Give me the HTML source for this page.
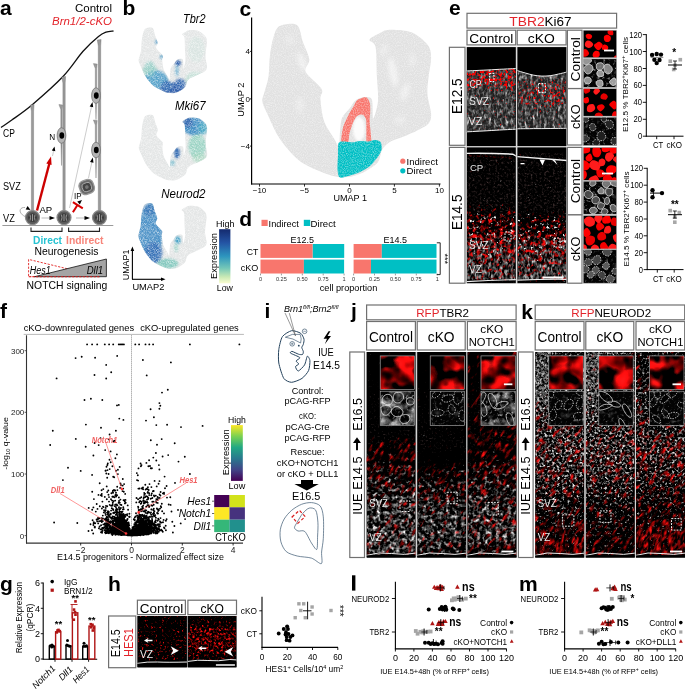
<!DOCTYPE html>
<html><head><meta charset="utf-8"><style>
html,body{margin:0;padding:0;background:#fff;}
svg{display:block;}
text{font-family:"Liberation Sans",sans-serif;}
svg{opacity:0.999;}
</style></head><body>
<svg width="685" height="689" viewBox="0 0 685 689">
<defs><path id="umap" d="M279.6 26.1C276.1 27.9 274.9 32.9 273.5 37.2C272.1 41.5 270.8 49.1 270.0 55.0C269.2 60.9 269.3 71.2 268.5 76.7C267.7 82.2 265.4 88.3 264.5 92.0C263.6 95.7 261.9 98.1 262.3 101.4C262.7 104.7 264.7 108.2 267.3 113.8C269.9 119.4 274.8 131.5 279.6 138.5C284.4 145.5 292.7 155.5 299.4 160.7C306.1 165.9 318.1 170.6 324.0 173.0C329.9 175.4 334.7 176.4 338.9 176.9C343.1 177.4 347.9 177.4 352.0 176.5C356.1 175.6 362.1 173.2 366.0 171.0C369.9 168.8 375.6 165.2 378.0 162.0C380.4 158.8 380.4 152.9 382.0 150.0C383.6 147.1 386.4 144.3 389.0 142.5C391.6 140.7 394.9 140.0 399.0 138.3C403.1 136.6 411.9 133.1 416.3 130.9C420.7 128.7 426.4 126.1 428.6 123.5C430.8 120.9 431.3 118.0 431.1 113.6C430.9 109.2 427.8 99.4 427.4 93.9C427.0 88.4 428.0 82.2 428.6 76.7C429.2 71.2 431.3 61.7 431.1 56.9C430.9 52.1 430.4 48.3 427.4 44.6C424.4 40.9 417.1 34.5 411.4 32.3C405.7 30.1 394.0 29.6 389.2 29.8C384.4 30.0 382.3 32.0 379.3 33.5C376.3 35.0 370.1 37.7 369.5 39.7C368.9 41.7 374.5 41.5 375.6 47.0C376.7 52.5 376.5 68.6 376.9 76.7C377.3 84.8 378.6 95.0 378.0 101.3C377.4 107.6 374.1 118.8 373.2 118.6C372.3 118.4 373.1 103.2 372.0 100.0C370.9 96.8 368.4 97.0 366.0 97.0C363.6 97.0 358.4 98.3 356.0 100.0C353.6 101.7 352.1 105.3 350.0 108.0C347.9 110.7 343.5 114.4 342.0 118.0C340.5 121.6 340.5 127.8 340.0 132.0C339.5 136.2 339.8 145.0 338.9 146.0C338.0 147.0 336.2 142.2 334.0 138.5C331.8 134.8 326.0 126.9 324.0 121.0C322.0 115.1 320.8 103.8 320.4 99.0C320.0 94.2 323.8 93.1 321.6 89.0C319.4 84.9 307.4 76.2 305.6 71.8C303.8 67.4 309.7 63.8 309.3 59.4C308.9 55.0 304.9 47.4 303.0 42.2C301.1 37.0 300.4 27.3 296.9 24.9C293.4 22.5 283.1 24.3 279.6 26.1Z"/><clipPath id="uclip"><use href="#umap"/></clipPath><filter id="speck" x="0" y="0" width="1" height="1"><feTurbulence type="fractalNoise" baseFrequency="0.9" numOctaves="2" seed="3"/><feColorMatrix type="matrix" values="0 0 0 0 1  0 0 0 0 1  0 0 0 0 1  0 0 0 -2.2 1.35"/><feComposite in2="SourceGraphic" operator="in"/></filter><filter id="blur2"><feGaussianBlur stdDeviation="2"/></filter><filter id="blur3"><feGaussianBlur stdDeviation="3"/></filter><filter id="blur1"><feGaussianBlur stdDeviation="1"/></filter><filter id="blur05"><feGaussianBlur stdDeviation="0.5"/></filter><linearGradient id="ylgnbu" x1="0" y1="0" x2="0" y2="1"><stop offset="0" stop-color="#142a6e"/><stop offset="0.25" stop-color="#2454a4"/><stop offset="0.5" stop-color="#2d95be"/><stop offset="0.72" stop-color="#74c7b8"/><stop offset="0.88" stop-color="#c8e9b4"/><stop offset="1" stop-color="#fbfdd0"/></linearGradient><clipPath id="c1"><rect x="466.8" y="47.1" width="49.0" height="99.0"/></clipPath><clipPath id="c2"><path d="M465.8 71.0L470.9 70.8L476.0 70.5L481.1 70.2L486.2 70.0L491.3 69.8L496.4 69.5L501.5 69.2L506.6 69.0L511.7 68.8L516.8 68.5L516.8 129.1L511.7 129.4L506.6 129.7L501.5 129.9L496.4 130.2L491.3 130.5L486.2 130.8L481.1 131.1L476.0 131.3L470.9 131.6L465.8 131.9Z"/></clipPath><linearGradient id="tg1" gradientUnits="userSpaceOnUse" x1="0" y1="47.1" x2="0" y2="146.1"><stop offset="0" stop-color="#fff" stop-opacity="0.72"/><stop offset="1" stop-color="#fff" stop-opacity="0.72"/></linearGradient><filter id="tf1" filterUnits="userSpaceOnUse" x="466.8" y="47.1" width="49.0" height="99.0" color-interpolation-filters="sRGB"><feTurbulence type="fractalNoise" baseFrequency="0.36" numOctaves="2" seed="107" result="n"/><feColorMatrix in="n" type="matrix" values="0 0 0 0 0 0 0 0 0 0 0 0 0 0 0 1 0 0 0 0" result="nr"/><feComposite in="SourceAlpha" in2="nr" operator="arithmetic" k2="0.5" k3="1" k4="-0.8" result="s"/><feComponentTransfer in="s" result="t"><feFuncA type="linear" slope="3" intercept="0"/></feComponentTransfer><feColorMatrix in="n" type="matrix" values="0 0.6 0 0 0.0  0 0.6 0 0 0.0  0 0.6 0 0 0.0  0 0 0 0 1" result="c"/><feComposite in="c" in2="t" operator="in"/><feGaussianBlur stdDeviation="0.5"/></filter><linearGradient id="tg2" gradientUnits="userSpaceOnUse" x1="0" y1="47.1" x2="0" y2="146.1"><stop offset="0" stop-color="#fff" stop-opacity="0.7"/><stop offset="1" stop-color="#fff" stop-opacity="0.78"/></linearGradient><filter id="tf2" filterUnits="userSpaceOnUse" x="466.8" y="47.1" width="49.0" height="99.0" color-interpolation-filters="sRGB"><feTurbulence type="fractalNoise" baseFrequency="0.36 0.2" numOctaves="2" seed="114" result="n"/><feColorMatrix in="n" type="matrix" values="0 0 0 0 0 0 0 0 0 0 0 0 0 0 0 1 0 0 0 0" result="nr"/><feComposite in="SourceAlpha" in2="nr" operator="arithmetic" k2="0.5" k3="1" k4="-0.8" result="s"/><feComponentTransfer in="s" result="t"><feFuncA type="linear" slope="3" intercept="0"/></feComponentTransfer><feColorMatrix in="n" type="matrix" values="0 1.2 0 0 -0.05  0 1.2 0 0 -0.05  0 1.2 0 0 -0.05  0 0 0 0 1" result="c"/><feComposite in="c" in2="t" operator="in"/><feGaussianBlur stdDeviation="0.5"/></filter><linearGradient id="tg3" gradientUnits="userSpaceOnUse" x1="0" y1="47.1" x2="0" y2="146.1"><stop offset="0" stop-color="#fff" stop-opacity="0.0"/><stop offset="0.252" stop-color="#fff" stop-opacity="0.68"/><stop offset="0.383" stop-color="#fff" stop-opacity="0.68"/><stop offset="0.454" stop-color="#fff" stop-opacity="0.25"/><stop offset="0.837" stop-color="#fff" stop-opacity="0.15"/></linearGradient><filter id="tf3" filterUnits="userSpaceOnUse" x="466.8" y="47.1" width="49.0" height="99.0" color-interpolation-filters="sRGB"><feTurbulence type="fractalNoise" baseFrequency="0.38" numOctaves="2" seed="121" result="n"/><feColorMatrix in="n" type="matrix" values="0 0 0 0 0 0 0 0 0 0 0 0 0 0 0 1 0 0 0 0" result="nr"/><feComposite in="SourceAlpha" in2="nr" operator="arithmetic" k2="0.5" k3="1" k4="-0.8" result="s"/><feComponentTransfer in="s" result="t"><feFuncA type="linear" slope="5" intercept="0"/></feComponentTransfer><feColorMatrix in="n" type="matrix" values="0 0 0 0 1  0 0 0 0 0  0 0 0 0 0  0 0 0 0 1" result="c"/><feComposite in="c" in2="t" operator="in"/><feGaussianBlur stdDeviation="0.5"/></filter><clipPath id="c3"><rect x="517.4" y="47.1" width="49.0" height="99.0"/></clipPath><clipPath id="c4"><path d="M516.4 70.3L521.5 72.0L526.6 73.6L531.7 74.8L536.8 75.7L541.9 76.1L547.0 76.0L552.1 75.5L557.2 74.5L562.3 73.3L567.4 71.9L567.4 128.3L562.3 128.4L557.2 128.4L552.1 128.5L547.0 128.5L541.9 128.6L536.8 128.6L531.7 128.7L526.6 128.7L521.5 128.8L516.4 128.8Z"/></clipPath><linearGradient id="tg4" gradientUnits="userSpaceOnUse" x1="0" y1="47.1" x2="0" y2="146.1"><stop offset="0" stop-color="#fff" stop-opacity="0.72"/><stop offset="1" stop-color="#fff" stop-opacity="0.72"/></linearGradient><filter id="tf4" filterUnits="userSpaceOnUse" x="517.4" y="47.1" width="49.0" height="99.0" color-interpolation-filters="sRGB"><feTurbulence type="fractalNoise" baseFrequency="0.36" numOctaves="2" seed="128" result="n"/><feColorMatrix in="n" type="matrix" values="0 0 0 0 0 0 0 0 0 0 0 0 0 0 0 1 0 0 0 0" result="nr"/><feComposite in="SourceAlpha" in2="nr" operator="arithmetic" k2="0.5" k3="1" k4="-0.8" result="s"/><feComponentTransfer in="s" result="t"><feFuncA type="linear" slope="3" intercept="0"/></feComponentTransfer><feColorMatrix in="n" type="matrix" values="0 0.6 0 0 0.0  0 0.6 0 0 0.0  0 0.6 0 0 0.0  0 0 0 0 1" result="c"/><feComposite in="c" in2="t" operator="in"/><feGaussianBlur stdDeviation="0.5"/></filter><linearGradient id="tg5" gradientUnits="userSpaceOnUse" x1="0" y1="47.1" x2="0" y2="146.1"><stop offset="0" stop-color="#fff" stop-opacity="0.7"/><stop offset="1" stop-color="#fff" stop-opacity="0.78"/></linearGradient><filter id="tf5" filterUnits="userSpaceOnUse" x="517.4" y="47.1" width="49.0" height="99.0" color-interpolation-filters="sRGB"><feTurbulence type="fractalNoise" baseFrequency="0.36 0.2" numOctaves="2" seed="135" result="n"/><feColorMatrix in="n" type="matrix" values="0 0 0 0 0 0 0 0 0 0 0 0 0 0 0 1 0 0 0 0" result="nr"/><feComposite in="SourceAlpha" in2="nr" operator="arithmetic" k2="0.5" k3="1" k4="-0.8" result="s"/><feComponentTransfer in="s" result="t"><feFuncA type="linear" slope="3" intercept="0"/></feComponentTransfer><feColorMatrix in="n" type="matrix" values="0 1.2 0 0 -0.05  0 1.2 0 0 -0.05  0 1.2 0 0 -0.05  0 0 0 0 1" result="c"/><feComposite in="c" in2="t" operator="in"/><feGaussianBlur stdDeviation="0.5"/></filter><linearGradient id="tg6" gradientUnits="userSpaceOnUse" x1="0" y1="47.1" x2="0" y2="146.1"><stop offset="0" stop-color="#fff" stop-opacity="0.0"/><stop offset="0.292" stop-color="#fff" stop-opacity="0.15"/><stop offset="0.373" stop-color="#fff" stop-opacity="0.55"/><stop offset="0.555" stop-color="#fff" stop-opacity="0.52"/><stop offset="0.635" stop-color="#fff" stop-opacity="0.22"/><stop offset="0.837" stop-color="#fff" stop-opacity="0.18"/></linearGradient><filter id="tf6" filterUnits="userSpaceOnUse" x="517.4" y="47.1" width="49.0" height="99.0" color-interpolation-filters="sRGB"><feTurbulence type="fractalNoise" baseFrequency="0.38" numOctaves="2" seed="142" result="n"/><feColorMatrix in="n" type="matrix" values="0 0 0 0 0 0 0 0 0 0 0 0 0 0 0 1 0 0 0 0" result="nr"/><feComposite in="SourceAlpha" in2="nr" operator="arithmetic" k2="0.5" k3="1" k4="-0.8" result="s"/><feComponentTransfer in="s" result="t"><feFuncA type="linear" slope="5" intercept="0"/></feComponentTransfer><feColorMatrix in="n" type="matrix" values="0 0 0 0 1  0 0 0 0 0  0 0 0 0 0  0 0 0 0 1" result="c"/><feComposite in="c" in2="t" operator="in"/><feGaussianBlur stdDeviation="0.5"/></filter><linearGradient id="th6" gradientUnits="userSpaceOnUse" x1="517.4" y1="0" x2="566.4" y2="0"><stop offset="0" stop-color="#fff" stop-opacity="0.6"/><stop offset="0.5" stop-color="#fff" stop-opacity="1"/><stop offset="1" stop-color="#fff" stop-opacity="1"/></linearGradient><mask id="tm6" maskUnits="userSpaceOnUse" x="517.4" y="47.1" width="49.0" height="99.0"><rect x="517.4" y="47.1" width="49.0" height="99.0" fill="url(#th6)"/></mask><clipPath id="c5"><rect x="466.8" y="147.4" width="49.0" height="135.8"/></clipPath><linearGradient id="tg7" gradientUnits="userSpaceOnUse" x1="0" y1="147.4" x2="0" y2="283.2"><stop offset="0" stop-color="#fff" stop-opacity="0"/><stop offset="0.05" stop-color="#fff" stop-opacity="0.55"/><stop offset="0.45" stop-color="#fff" stop-opacity="0.62"/><stop offset="0.55" stop-color="#fff" stop-opacity="0.35"/></linearGradient><filter id="tf7" filterUnits="userSpaceOnUse" x="466.8" y="147.4" width="49.0" height="135.8" color-interpolation-filters="sRGB"><feTurbulence type="fractalNoise" baseFrequency="0.45" numOctaves="2" seed="149" result="n"/><feColorMatrix in="n" type="matrix" values="0 0 0 0 0 0 0 0 0 0 0 0 0 0 0 1 0 0 0 0" result="nr"/><feComposite in="SourceAlpha" in2="nr" operator="arithmetic" k2="0.5" k3="1" k4="-0.8" result="s"/><feComponentTransfer in="s" result="t"><feFuncA type="linear" slope="3" intercept="0"/></feComponentTransfer><feColorMatrix in="n" type="matrix" values="0 0.4 0 0 0.0  0 0.3 0 0 0.0  0 0.3 0 0 0.0  0 0 0 0 1" result="c"/><feComposite in="c" in2="t" operator="in"/><feGaussianBlur stdDeviation="0.5"/></filter><linearGradient id="tg8" gradientUnits="userSpaceOnUse" x1="0" y1="147.4" x2="0" y2="283.2"><stop offset="0" stop-color="#fff" stop-opacity="0"/><stop offset="0.58" stop-color="#fff" stop-opacity="0.0"/><stop offset="0.7" stop-color="#fff" stop-opacity="0.72"/><stop offset="0.85" stop-color="#fff" stop-opacity="0.86"/><stop offset="0.97" stop-color="#fff" stop-opacity="0.88"/><stop offset="0.985" stop-color="#fff" stop-opacity="0"/></linearGradient><filter id="tf8" filterUnits="userSpaceOnUse" x="466.8" y="147.4" width="49.0" height="135.8" color-interpolation-filters="sRGB"><feTurbulence type="fractalNoise" baseFrequency="0.36 0.2" numOctaves="2" seed="156" result="n"/><feColorMatrix in="n" type="matrix" values="0 0 0 0 0 0 0 0 0 0 0 0 0 0 0 1 0 0 0 0" result="nr"/><feComposite in="SourceAlpha" in2="nr" operator="arithmetic" k2="0.5" k3="1" k4="-0.8" result="s"/><feComponentTransfer in="s" result="t"><feFuncA type="linear" slope="3" intercept="0"/></feComponentTransfer><feColorMatrix in="n" type="matrix" values="0 1.2 0 0 -0.05  0 1.2 0 0 -0.05  0 1.2 0 0 -0.05  0 0 0 0 1" result="c"/><feComposite in="c" in2="t" operator="in"/><feGaussianBlur stdDeviation="0.5"/></filter><linearGradient id="tg9" gradientUnits="userSpaceOnUse" x1="0" y1="147.4" x2="0" y2="283.2"><stop offset="0" stop-color="#fff" stop-opacity="0"/><stop offset="0.4" stop-color="#fff" stop-opacity="0.0"/><stop offset="0.46" stop-color="#fff" stop-opacity="0.44"/><stop offset="0.54" stop-color="#fff" stop-opacity="0.62"/><stop offset="0.62" stop-color="#fff" stop-opacity="0.74"/><stop offset="0.75" stop-color="#fff" stop-opacity="0.72"/><stop offset="0.85" stop-color="#fff" stop-opacity="0.58"/><stop offset="0.93" stop-color="#fff" stop-opacity="0.48"/><stop offset="0.985" stop-color="#fff" stop-opacity="0.42"/><stop offset="0.99" stop-color="#fff" stop-opacity="0"/></linearGradient><filter id="tf9" filterUnits="userSpaceOnUse" x="466.8" y="147.4" width="49.0" height="135.8" color-interpolation-filters="sRGB"><feTurbulence type="fractalNoise" baseFrequency="0.26" numOctaves="2" seed="163" result="n"/><feColorMatrix in="n" type="matrix" values="0 0 0 0 0 0 0 0 0 0 0 0 0 0 0 1 0 0 0 0" result="nr"/><feComposite in="SourceAlpha" in2="nr" operator="arithmetic" k2="0.5" k3="1" k4="-0.8" result="s"/><feComponentTransfer in="s" result="t"><feFuncA type="linear" slope="4" intercept="0"/></feComponentTransfer><feColorMatrix in="n" type="matrix" values="0 0 2.2 0 -0.35  0 0 0.25 0 -0.1  0 0 0.25 0 -0.1  0 0 0 0 1" result="c"/><feComposite in="c" in2="t" operator="in"/><feGaussianBlur stdDeviation="0.5"/></filter><linearGradient id="tg10" gradientUnits="userSpaceOnUse" x1="0" y1="147.4" x2="0" y2="283.2"><stop offset="0" stop-color="#fff" stop-opacity="0"/><stop offset="0.46" stop-color="#fff" stop-opacity="0.0"/><stop offset="0.52" stop-color="#fff" stop-opacity="0.36"/><stop offset="0.7" stop-color="#fff" stop-opacity="0.36"/><stop offset="0.82" stop-color="#fff" stop-opacity="0.2"/><stop offset="0.9" stop-color="#fff" stop-opacity="0.0"/></linearGradient><filter id="tf10" filterUnits="userSpaceOnUse" x="466.8" y="147.4" width="49.0" height="135.8" color-interpolation-filters="sRGB"><feTurbulence type="fractalNoise" baseFrequency="0.3" numOctaves="2" seed="170" result="n"/><feColorMatrix in="n" type="matrix" values="0 0 0 0 0 0 0 0 0 0 0 0 0 0 0 1 0 0 0 0" result="nr"/><feComposite in="SourceAlpha" in2="nr" operator="arithmetic" k2="0.5" k3="1" k4="-0.8" result="s"/><feComponentTransfer in="s" result="t"><feFuncA type="linear" slope="6" intercept="0"/></feComponentTransfer><feColorMatrix in="n" type="matrix" values="0 0 0 0 0.95  0 0 0 0 0.95  0 0 0 0 0.95  0 0 0 0 1" result="c"/><feComposite in="c" in2="t" operator="in"/><feGaussianBlur stdDeviation="0.5"/></filter><clipPath id="c6"><rect x="517.4" y="147.4" width="49.0" height="135.8"/></clipPath><linearGradient id="tg11" gradientUnits="userSpaceOnUse" x1="0" y1="147.4" x2="0" y2="283.2"><stop offset="0" stop-color="#fff" stop-opacity="0"/><stop offset="0.05" stop-color="#fff" stop-opacity="0.55"/><stop offset="0.45" stop-color="#fff" stop-opacity="0.62"/><stop offset="0.55" stop-color="#fff" stop-opacity="0.35"/></linearGradient><filter id="tf11" filterUnits="userSpaceOnUse" x="517.4" y="147.4" width="49.0" height="135.8" color-interpolation-filters="sRGB"><feTurbulence type="fractalNoise" baseFrequency="0.45" numOctaves="2" seed="177" result="n"/><feColorMatrix in="n" type="matrix" values="0 0 0 0 0 0 0 0 0 0 0 0 0 0 0 1 0 0 0 0" result="nr"/><feComposite in="SourceAlpha" in2="nr" operator="arithmetic" k2="0.5" k3="1" k4="-0.8" result="s"/><feComponentTransfer in="s" result="t"><feFuncA type="linear" slope="3" intercept="0"/></feComponentTransfer><feColorMatrix in="n" type="matrix" values="0 0.4 0 0 0.0  0 0.3 0 0 0.0  0 0.3 0 0 0.0  0 0 0 0 1" result="c"/><feComposite in="c" in2="t" operator="in"/><feGaussianBlur stdDeviation="0.5"/></filter><linearGradient id="tg12" gradientUnits="userSpaceOnUse" x1="0" y1="147.4" x2="0" y2="283.2"><stop offset="0" stop-color="#fff" stop-opacity="0"/><stop offset="0.58" stop-color="#fff" stop-opacity="0.0"/><stop offset="0.7" stop-color="#fff" stop-opacity="0.72"/><stop offset="0.85" stop-color="#fff" stop-opacity="0.86"/><stop offset="0.97" stop-color="#fff" stop-opacity="0.88"/><stop offset="0.985" stop-color="#fff" stop-opacity="0"/></linearGradient><filter id="tf12" filterUnits="userSpaceOnUse" x="517.4" y="147.4" width="49.0" height="135.8" color-interpolation-filters="sRGB"><feTurbulence type="fractalNoise" baseFrequency="0.36 0.2" numOctaves="2" seed="184" result="n"/><feColorMatrix in="n" type="matrix" values="0 0 0 0 0 0 0 0 0 0 0 0 0 0 0 1 0 0 0 0" result="nr"/><feComposite in="SourceAlpha" in2="nr" operator="arithmetic" k2="0.5" k3="1" k4="-0.8" result="s"/><feComponentTransfer in="s" result="t"><feFuncA type="linear" slope="3" intercept="0"/></feComponentTransfer><feColorMatrix in="n" type="matrix" values="0 1.2 0 0 -0.05  0 1.2 0 0 -0.05  0 1.2 0 0 -0.05  0 0 0 0 1" result="c"/><feComposite in="c" in2="t" operator="in"/><feGaussianBlur stdDeviation="0.5"/></filter><linearGradient id="tg13" gradientUnits="userSpaceOnUse" x1="0" y1="147.4" x2="0" y2="283.2"><stop offset="0" stop-color="#fff" stop-opacity="0"/><stop offset="0.44" stop-color="#fff" stop-opacity="0.0"/><stop offset="0.5" stop-color="#fff" stop-opacity="0.4"/><stop offset="0.58" stop-color="#fff" stop-opacity="0.6"/><stop offset="0.66" stop-color="#fff" stop-opacity="0.72"/><stop offset="0.78" stop-color="#fff" stop-opacity="0.68"/><stop offset="0.88" stop-color="#fff" stop-opacity="0.54"/><stop offset="0.94" stop-color="#fff" stop-opacity="0.46"/><stop offset="0.985" stop-color="#fff" stop-opacity="0.42"/><stop offset="0.99" stop-color="#fff" stop-opacity="0"/></linearGradient><filter id="tf13" filterUnits="userSpaceOnUse" x="517.4" y="147.4" width="49.0" height="135.8" color-interpolation-filters="sRGB"><feTurbulence type="fractalNoise" baseFrequency="0.26" numOctaves="2" seed="191" result="n"/><feColorMatrix in="n" type="matrix" values="0 0 0 0 0 0 0 0 0 0 0 0 0 0 0 1 0 0 0 0" result="nr"/><feComposite in="SourceAlpha" in2="nr" operator="arithmetic" k2="0.5" k3="1" k4="-0.8" result="s"/><feComponentTransfer in="s" result="t"><feFuncA type="linear" slope="4" intercept="0"/></feComponentTransfer><feColorMatrix in="n" type="matrix" values="0 0 2.2 0 -0.35  0 0 0.25 0 -0.1  0 0 0.25 0 -0.1  0 0 0 0 1" result="c"/><feComposite in="c" in2="t" operator="in"/><feGaussianBlur stdDeviation="0.5"/></filter><linearGradient id="tg14" gradientUnits="userSpaceOnUse" x1="0" y1="147.4" x2="0" y2="283.2"><stop offset="0" stop-color="#fff" stop-opacity="0"/><stop offset="0.46" stop-color="#fff" stop-opacity="0.0"/><stop offset="0.52" stop-color="#fff" stop-opacity="0.36"/><stop offset="0.7" stop-color="#fff" stop-opacity="0.36"/><stop offset="0.82" stop-color="#fff" stop-opacity="0.2"/><stop offset="0.9" stop-color="#fff" stop-opacity="0.0"/></linearGradient><filter id="tf14" filterUnits="userSpaceOnUse" x="517.4" y="147.4" width="49.0" height="135.8" color-interpolation-filters="sRGB"><feTurbulence type="fractalNoise" baseFrequency="0.3" numOctaves="2" seed="198" result="n"/><feColorMatrix in="n" type="matrix" values="0 0 0 0 0 0 0 0 0 0 0 0 0 0 0 1 0 0 0 0" result="nr"/><feComposite in="SourceAlpha" in2="nr" operator="arithmetic" k2="0.5" k3="1" k4="-0.8" result="s"/><feComponentTransfer in="s" result="t"><feFuncA type="linear" slope="6" intercept="0"/></feComponentTransfer><feColorMatrix in="n" type="matrix" values="0 0 0 0 0.95  0 0 0 0 0.95  0 0 0 0 0.95  0 0 0 0 1" result="c"/><feComposite in="c" in2="t" operator="in"/><feGaussianBlur stdDeviation="0.5"/></filter><clipPath id="c7"><rect x="583.2" y="30.2" width="33.5" height="27.6"/></clipPath><clipPath id="c8"><rect x="583.2" y="58.8" width="33.5" height="28.6"/></clipPath><linearGradient id="tg15" gradientUnits="userSpaceOnUse" x1="0" y1="58.8" x2="0" y2="87.4"><stop offset="0" stop-color="#fff" stop-opacity="0.315"/><stop offset="1" stop-color="#fff" stop-opacity="0.315"/></linearGradient><filter id="tf15" filterUnits="userSpaceOnUse" x="583.2" y="58.8" width="33.5" height="28.6" color-interpolation-filters="sRGB"><feTurbulence type="fractalNoise" baseFrequency="0.1" numOctaves="3" seed="205" result="n"/><feColorMatrix in="n" type="matrix" values="0 0 0 0 0 0 0 0 0 0 0 0 0 0 0 1 0 0 0 0" result="nr"/><feComposite in="SourceAlpha" in2="nr" operator="arithmetic" k2="0.5" k3="1" k4="-0.8" result="s"/><feComponentTransfer in="s" result="t"><feFuncA type="linear" slope="3" intercept="0"/></feComponentTransfer><feColorMatrix in="n" type="matrix" values="0 1.2 0 0 -0.05  0 1.2 0 0 -0.05  0 1.2 0 0 -0.05  0 0 0 0 1" result="c"/><feComposite in="c" in2="t" operator="in"/><feGaussianBlur stdDeviation="0.4"/></filter><linearGradient id="tg16" gradientUnits="userSpaceOnUse" x1="0" y1="58.8" x2="0" y2="87.4"><stop offset="0" stop-color="#fff" stop-opacity="0.5"/><stop offset="1" stop-color="#fff" stop-opacity="0.5"/></linearGradient><filter id="tf16" filterUnits="userSpaceOnUse" x="583.2" y="58.8" width="33.5" height="28.6" color-interpolation-filters="sRGB"><feTurbulence type="fractalNoise" baseFrequency="0.35" numOctaves="2" seed="212" result="n"/><feColorMatrix in="n" type="matrix" values="0 0 0 0 0 0 0 0 0 0 0 0 0 0 0 1 0 0 0 0" result="nr"/><feComposite in="SourceAlpha" in2="nr" operator="arithmetic" k2="0.5" k3="1" k4="-0.8" result="s"/><feComponentTransfer in="s" result="t"><feFuncA type="linear" slope="3" intercept="0"/></feComponentTransfer><feColorMatrix in="n" type="matrix" values="0 1.2 0 0 -0.05  0 1.2 0 0 -0.05  0 1.2 0 0 -0.05  0 0 0 0 1" result="c"/><feComposite in="c" in2="t" operator="in"/><feGaussianBlur stdDeviation="0.3"/></filter><clipPath id="c9"><rect x="583.2" y="88.6" width="33.5" height="27.6"/></clipPath><clipPath id="c10"><rect x="583.2" y="117.2" width="33.5" height="28.4"/></clipPath><linearGradient id="tg17" gradientUnits="userSpaceOnUse" x1="0" y1="117.2" x2="0" y2="145.6"><stop offset="0" stop-color="#fff" stop-opacity="0.18000000000000002"/><stop offset="1" stop-color="#fff" stop-opacity="0.18000000000000002"/></linearGradient><filter id="tf17" filterUnits="userSpaceOnUse" x="583.2" y="117.2" width="33.5" height="28.4" color-interpolation-filters="sRGB"><feTurbulence type="fractalNoise" baseFrequency="0.1" numOctaves="3" seed="219" result="n"/><feColorMatrix in="n" type="matrix" values="0 0 0 0 0 0 0 0 0 0 0 0 0 0 0 1 0 0 0 0" result="nr"/><feComposite in="SourceAlpha" in2="nr" operator="arithmetic" k2="0.5" k3="1" k4="-0.8" result="s"/><feComponentTransfer in="s" result="t"><feFuncA type="linear" slope="3" intercept="0"/></feComponentTransfer><feColorMatrix in="n" type="matrix" values="0 0.6 0 0 0.0  0 0.6 0 0 0.0  0 0.6 0 0 0.0  0 0 0 0 1" result="c"/><feComposite in="c" in2="t" operator="in"/><feGaussianBlur stdDeviation="0.4"/></filter><linearGradient id="tg18" gradientUnits="userSpaceOnUse" x1="0" y1="117.2" x2="0" y2="145.6"><stop offset="0" stop-color="#fff" stop-opacity="0.5"/><stop offset="1" stop-color="#fff" stop-opacity="0.5"/></linearGradient><filter id="tf18" filterUnits="userSpaceOnUse" x="583.2" y="117.2" width="33.5" height="28.4" color-interpolation-filters="sRGB"><feTurbulence type="fractalNoise" baseFrequency="0.35" numOctaves="2" seed="226" result="n"/><feColorMatrix in="n" type="matrix" values="0 0 0 0 0 0 0 0 0 0 0 0 0 0 0 1 0 0 0 0" result="nr"/><feComposite in="SourceAlpha" in2="nr" operator="arithmetic" k2="0.5" k3="1" k4="-0.8" result="s"/><feComponentTransfer in="s" result="t"><feFuncA type="linear" slope="3" intercept="0"/></feComponentTransfer><feColorMatrix in="n" type="matrix" values="0 0.6 0 0 0.0  0 0.6 0 0 0.0  0 0.6 0 0 0.0  0 0 0 0 1" result="c"/><feComposite in="c" in2="t" operator="in"/><feGaussianBlur stdDeviation="0.3"/></filter><clipPath id="c11"><rect x="583.2" y="147.4" width="33.5" height="33.0"/></clipPath><clipPath id="c12"><rect x="583.2" y="181.2" width="33.5" height="33.0"/></clipPath><linearGradient id="tg19" gradientUnits="userSpaceOnUse" x1="0" y1="181.2" x2="0" y2="214.2"><stop offset="0" stop-color="#fff" stop-opacity="0.36000000000000004"/><stop offset="1" stop-color="#fff" stop-opacity="0.36000000000000004"/></linearGradient><filter id="tf19" filterUnits="userSpaceOnUse" x="583.2" y="181.2" width="33.5" height="33.0" color-interpolation-filters="sRGB"><feTurbulence type="fractalNoise" baseFrequency="0.1" numOctaves="3" seed="233" result="n"/><feColorMatrix in="n" type="matrix" values="0 0 0 0 0 0 0 0 0 0 0 0 0 0 0 1 0 0 0 0" result="nr"/><feComposite in="SourceAlpha" in2="nr" operator="arithmetic" k2="0.5" k3="1" k4="-0.8" result="s"/><feComponentTransfer in="s" result="t"><feFuncA type="linear" slope="3" intercept="0"/></feComponentTransfer><feColorMatrix in="n" type="matrix" values="0 1.2 0 0 -0.05  0 1.2 0 0 -0.05  0 1.2 0 0 -0.05  0 0 0 0 1" result="c"/><feComposite in="c" in2="t" operator="in"/><feGaussianBlur stdDeviation="0.4"/></filter><linearGradient id="tg20" gradientUnits="userSpaceOnUse" x1="0" y1="181.2" x2="0" y2="214.2"><stop offset="0" stop-color="#fff" stop-opacity="0.5"/><stop offset="1" stop-color="#fff" stop-opacity="0.5"/></linearGradient><filter id="tf20" filterUnits="userSpaceOnUse" x="583.2" y="181.2" width="33.5" height="33.0" color-interpolation-filters="sRGB"><feTurbulence type="fractalNoise" baseFrequency="0.35" numOctaves="2" seed="240" result="n"/><feColorMatrix in="n" type="matrix" values="0 0 0 0 0 0 0 0 0 0 0 0 0 0 0 1 0 0 0 0" result="nr"/><feComposite in="SourceAlpha" in2="nr" operator="arithmetic" k2="0.5" k3="1" k4="-0.8" result="s"/><feComponentTransfer in="s" result="t"><feFuncA type="linear" slope="3" intercept="0"/></feComponentTransfer><feColorMatrix in="n" type="matrix" values="0 1.2 0 0 -0.05  0 1.2 0 0 -0.05  0 1.2 0 0 -0.05  0 0 0 0 1" result="c"/><feComposite in="c" in2="t" operator="in"/><feGaussianBlur stdDeviation="0.3"/></filter><clipPath id="c13"><rect x="583.2" y="215.5" width="33.5" height="33.5"/></clipPath><clipPath id="c14"><rect x="583.2" y="249.6" width="33.5" height="33.6"/></clipPath><linearGradient id="tg21" gradientUnits="userSpaceOnUse" x1="0" y1="249.6" x2="0" y2="283.2"><stop offset="0" stop-color="#fff" stop-opacity="0.315"/><stop offset="1" stop-color="#fff" stop-opacity="0.315"/></linearGradient><filter id="tf21" filterUnits="userSpaceOnUse" x="583.2" y="249.6" width="33.5" height="33.6" color-interpolation-filters="sRGB"><feTurbulence type="fractalNoise" baseFrequency="0.1" numOctaves="3" seed="247" result="n"/><feColorMatrix in="n" type="matrix" values="0 0 0 0 0 0 0 0 0 0 0 0 0 0 0 1 0 0 0 0" result="nr"/><feComposite in="SourceAlpha" in2="nr" operator="arithmetic" k2="0.5" k3="1" k4="-0.8" result="s"/><feComponentTransfer in="s" result="t"><feFuncA type="linear" slope="3" intercept="0"/></feComponentTransfer><feColorMatrix in="n" type="matrix" values="0 0.6 0 0 0.0  0 0.6 0 0 0.0  0 0.6 0 0 0.0  0 0 0 0 1" result="c"/><feComposite in="c" in2="t" operator="in"/><feGaussianBlur stdDeviation="0.4"/></filter><linearGradient id="tg22" gradientUnits="userSpaceOnUse" x1="0" y1="249.6" x2="0" y2="283.2"><stop offset="0" stop-color="#fff" stop-opacity="0.5"/><stop offset="1" stop-color="#fff" stop-opacity="0.5"/></linearGradient><filter id="tf22" filterUnits="userSpaceOnUse" x="583.2" y="249.6" width="33.5" height="33.6" color-interpolation-filters="sRGB"><feTurbulence type="fractalNoise" baseFrequency="0.35" numOctaves="2" seed="254" result="n"/><feColorMatrix in="n" type="matrix" values="0 0 0 0 0 0 0 0 0 0 0 0 0 0 0 1 0 0 0 0" result="nr"/><feComposite in="SourceAlpha" in2="nr" operator="arithmetic" k2="0.5" k3="1" k4="-0.8" result="s"/><feComponentTransfer in="s" result="t"><feFuncA type="linear" slope="3" intercept="0"/></feComponentTransfer><feColorMatrix in="n" type="matrix" values="0 0.6 0 0 0.0  0 0.6 0 0 0.0  0 0.6 0 0 0.0  0 0 0 0 1" result="c"/><feComposite in="c" in2="t" operator="in"/><feGaussianBlur stdDeviation="0.3"/></filter><clipPath id="c15"><rect x="366.6" y="352.0" width="49.0" height="205.5"/></clipPath><linearGradient id="tg23" gradientUnits="userSpaceOnUse" x1="0" y1="352.0" x2="0" y2="557.5"><stop offset="0" stop-color="#fff" stop-opacity="0"/><stop offset="0.2" stop-color="#fff" stop-opacity="0.3"/><stop offset="0.45" stop-color="#fff" stop-opacity="0.45"/><stop offset="0.5" stop-color="#fff" stop-opacity="0.2"/></linearGradient><filter id="tf23" filterUnits="userSpaceOnUse" x="366.6" y="352.0" width="49.0" height="205.5" color-interpolation-filters="sRGB"><feTurbulence type="fractalNoise" baseFrequency="0.5" numOctaves="2" seed="261" result="n"/><feColorMatrix in="n" type="matrix" values="0 0 0 0 0 0 0 0 0 0 0 0 0 0 0 1 0 0 0 0" result="nr"/><feComposite in="SourceAlpha" in2="nr" operator="arithmetic" k2="0.5" k3="1" k4="-0.8" result="s"/><feComponentTransfer in="s" result="t"><feFuncA type="linear" slope="3" intercept="0"/></feComponentTransfer><feColorMatrix in="n" type="matrix" values="0 0.4 0 0 0.0  0 0.3 0 0 0.0  0 0.3 0 0 0.0  0 0 0 0 1" result="c"/><feComposite in="c" in2="t" operator="in"/><feGaussianBlur stdDeviation="0.5"/></filter><linearGradient id="tg24" gradientUnits="userSpaceOnUse" x1="0" y1="352.0" x2="0" y2="557.5"><stop offset="0" stop-color="#fff" stop-opacity="0"/><stop offset="0.45" stop-color="#fff" stop-opacity="0"/><stop offset="0.55" stop-color="#fff" stop-opacity="0.45"/><stop offset="0.65" stop-color="#fff" stop-opacity="0.6"/><stop offset="0.75" stop-color="#fff" stop-opacity="0.74"/><stop offset="0.9" stop-color="#fff" stop-opacity="0.8"/><stop offset="0.97" stop-color="#fff" stop-opacity="0.78"/><stop offset="0.985" stop-color="#fff" stop-opacity="0.5"/><stop offset="0.99" stop-color="#fff" stop-opacity="0"/></linearGradient><filter id="tf24" filterUnits="userSpaceOnUse" x="366.6" y="352.0" width="49.0" height="205.5" color-interpolation-filters="sRGB"><feTurbulence type="fractalNoise" baseFrequency="0.26" numOctaves="2" seed="268" result="n"/><feColorMatrix in="n" type="matrix" values="0 0 0 0 0 0 0 0 0 0 0 0 0 0 0 1 0 0 0 0" result="nr"/><feComposite in="SourceAlpha" in2="nr" operator="arithmetic" k2="0.5" k3="1" k4="-0.8" result="s"/><feComponentTransfer in="s" result="t"><feFuncA type="linear" slope="3" intercept="0"/></feComponentTransfer><feColorMatrix in="n" type="matrix" values="0 1.4 0 0 0.0  0 1.4 0 0 0.0  0 1.4 0 0 0.0  0 0 0 0 1" result="c"/><feComposite in="c" in2="t" operator="in"/><feGaussianBlur stdDeviation="0.5"/></filter><linearGradient id="tg25" gradientUnits="userSpaceOnUse" x1="0" y1="352.0" x2="0" y2="557.5" gradientTransform="rotate(55 391.1 454.8)"><stop offset="0" stop-color="#fff" stop-opacity="0.0"/><stop offset="0.4" stop-color="#fff" stop-opacity="0.0"/><stop offset="0.45" stop-color="#fff" stop-opacity="0.49"/><stop offset="0.55" stop-color="#fff" stop-opacity="0.59"/><stop offset="0.65" stop-color="#fff" stop-opacity="0.54"/><stop offset="0.75" stop-color="#fff" stop-opacity="0.42"/><stop offset="0.9" stop-color="#fff" stop-opacity="0.42"/><stop offset="0.985" stop-color="#fff" stop-opacity="0.46"/><stop offset="0.99" stop-color="#fff" stop-opacity="0.0"/></linearGradient><filter id="tf25" filterUnits="userSpaceOnUse" x="283.5" y="347.1" width="215.3" height="215.3" color-interpolation-filters="sRGB"><feTurbulence type="fractalNoise" baseFrequency="0.13 0.3" numOctaves="2" seed="275" result="n"/><feColorMatrix in="n" type="matrix" values="0 0 0 0 0 0 0 0 0 0 0 0 0 0 0 1 0 0 0 0" result="nr"/><feComposite in="SourceAlpha" in2="nr" operator="arithmetic" k2="0.5" k3="1" k4="-0.8" result="s"/><feComponentTransfer in="s" result="t"><feFuncA type="linear" slope="4" intercept="0"/></feComponentTransfer><feColorMatrix in="n" type="matrix" values="0 0 2.2 0 -0.35  0 0 0.25 0 -0.1  0 0 0.25 0 -0.1  0 0 0 0 1" result="c"/><feComposite in="c" in2="t" operator="in"/><feGaussianBlur stdDeviation="0.5"/></filter><clipPath id="c16"><rect x="380.2" y="355.9" width="34.4" height="33.8"/></clipPath><linearGradient id="tg26" gradientUnits="userSpaceOnUse" x1="0" y1="355.9" x2="0" y2="389.7"><stop offset="0" stop-color="#fff" stop-opacity="0.86"/><stop offset="1" stop-color="#fff" stop-opacity="0.86"/></linearGradient><filter id="tf26" filterUnits="userSpaceOnUse" x="380.2" y="355.9" width="34.4" height="33.8" color-interpolation-filters="sRGB"><feTurbulence type="fractalNoise" baseFrequency="0.065" numOctaves="2" seed="282" result="n"/><feColorMatrix in="n" type="matrix" values="0 0 0 0 0 0 0 0 0 0 0 0 0 0 0 1 0 0 0 0" result="nr"/><feComposite in="SourceAlpha" in2="nr" operator="arithmetic" k2="0.5" k3="1" k4="-0.8" result="s"/><feComponentTransfer in="s" result="t"><feFuncA type="linear" slope="5" intercept="0"/></feComponentTransfer><feColorMatrix in="n" type="matrix" values="0 0 2.2 0 -0.35  0 0 0.25 0 -0.1  0 0 0.25 0 -0.1  0 0 0 0 1" result="c"/><feComposite in="c" in2="t" operator="in"/><feGaussianBlur stdDeviation="0.6"/></filter><clipPath id="c17"><rect x="380.2" y="391.2" width="34.4" height="34.3"/></clipPath><linearGradient id="tg27" gradientUnits="userSpaceOnUse" x1="0" y1="391.2" x2="0" y2="425.5"><stop offset="0" stop-color="#fff" stop-opacity="0.855"/><stop offset="1" stop-color="#fff" stop-opacity="0.855"/></linearGradient><filter id="tf27" filterUnits="userSpaceOnUse" x="380.2" y="391.2" width="34.4" height="34.3" color-interpolation-filters="sRGB"><feTurbulence type="fractalNoise" baseFrequency="0.1" numOctaves="3" seed="289" result="n"/><feColorMatrix in="n" type="matrix" values="0 0 0 0 0 0 0 0 0 0 0 0 0 0 0 1 0 0 0 0" result="nr"/><feComposite in="SourceAlpha" in2="nr" operator="arithmetic" k2="0.5" k3="1" k4="-0.8" result="s"/><feComponentTransfer in="s" result="t"><feFuncA type="linear" slope="3" intercept="0"/></feComponentTransfer><feColorMatrix in="n" type="matrix" values="0 1.2 0 0 -0.05  0 1.2 0 0 -0.05  0 1.2 0 0 -0.05  0 0 0 0 1" result="c"/><feComposite in="c" in2="t" operator="in"/><feGaussianBlur stdDeviation="0.4"/></filter><linearGradient id="tg28" gradientUnits="userSpaceOnUse" x1="0" y1="391.2" x2="0" y2="425.5"><stop offset="0" stop-color="#fff" stop-opacity="0.5"/><stop offset="1" stop-color="#fff" stop-opacity="0.5"/></linearGradient><filter id="tf28" filterUnits="userSpaceOnUse" x="380.2" y="391.2" width="34.4" height="34.3" color-interpolation-filters="sRGB"><feTurbulence type="fractalNoise" baseFrequency="0.35" numOctaves="2" seed="296" result="n"/><feColorMatrix in="n" type="matrix" values="0 0 0 0 0 0 0 0 0 0 0 0 0 0 0 1 0 0 0 0" result="nr"/><feComposite in="SourceAlpha" in2="nr" operator="arithmetic" k2="0.5" k3="1" k4="-0.8" result="s"/><feComponentTransfer in="s" result="t"><feFuncA type="linear" slope="3" intercept="0"/></feComponentTransfer><feColorMatrix in="n" type="matrix" values="0 1.2 0 0 -0.05  0 1.2 0 0 -0.05  0 1.2 0 0 -0.05  0 0 0 0 1" result="c"/><feComposite in="c" in2="t" operator="in"/><feGaussianBlur stdDeviation="0.3"/></filter><clipPath id="c18"><rect x="417.2" y="352.0" width="49.0" height="205.5"/></clipPath><linearGradient id="tg29" gradientUnits="userSpaceOnUse" x1="0" y1="352.0" x2="0" y2="557.5"><stop offset="0" stop-color="#fff" stop-opacity="0"/><stop offset="0.2" stop-color="#fff" stop-opacity="0.3"/><stop offset="0.45" stop-color="#fff" stop-opacity="0.45"/><stop offset="0.5" stop-color="#fff" stop-opacity="0.2"/></linearGradient><filter id="tf29" filterUnits="userSpaceOnUse" x="417.2" y="352.0" width="49.0" height="205.5" color-interpolation-filters="sRGB"><feTurbulence type="fractalNoise" baseFrequency="0.5" numOctaves="2" seed="303" result="n"/><feColorMatrix in="n" type="matrix" values="0 0 0 0 0 0 0 0 0 0 0 0 0 0 0 1 0 0 0 0" result="nr"/><feComposite in="SourceAlpha" in2="nr" operator="arithmetic" k2="0.5" k3="1" k4="-0.8" result="s"/><feComponentTransfer in="s" result="t"><feFuncA type="linear" slope="3" intercept="0"/></feComponentTransfer><feColorMatrix in="n" type="matrix" values="0 0.4 0 0 0.0  0 0.3 0 0 0.0  0 0.3 0 0 0.0  0 0 0 0 1" result="c"/><feComposite in="c" in2="t" operator="in"/><feGaussianBlur stdDeviation="0.5"/></filter><linearGradient id="tg30" gradientUnits="userSpaceOnUse" x1="0" y1="352.0" x2="0" y2="557.5"><stop offset="0" stop-color="#fff" stop-opacity="0"/><stop offset="0.5" stop-color="#fff" stop-opacity="0"/><stop offset="0.6" stop-color="#fff" stop-opacity="0.45"/><stop offset="0.7" stop-color="#fff" stop-opacity="0.6"/><stop offset="0.8" stop-color="#fff" stop-opacity="0.74"/><stop offset="0.92" stop-color="#fff" stop-opacity="0.76"/><stop offset="0.985" stop-color="#fff" stop-opacity="0.5"/><stop offset="0.99" stop-color="#fff" stop-opacity="0"/></linearGradient><filter id="tf30" filterUnits="userSpaceOnUse" x="417.2" y="352.0" width="49.0" height="205.5" color-interpolation-filters="sRGB"><feTurbulence type="fractalNoise" baseFrequency="0.26" numOctaves="2" seed="310" result="n"/><feColorMatrix in="n" type="matrix" values="0 0 0 0 0 0 0 0 0 0 0 0 0 0 0 1 0 0 0 0" result="nr"/><feComposite in="SourceAlpha" in2="nr" operator="arithmetic" k2="0.5" k3="1" k4="-0.8" result="s"/><feComponentTransfer in="s" result="t"><feFuncA type="linear" slope="3" intercept="0"/></feComponentTransfer><feColorMatrix in="n" type="matrix" values="0 1.4 0 0 0.0  0 1.4 0 0 0.0  0 1.4 0 0 0.0  0 0 0 0 1" result="c"/><feComposite in="c" in2="t" operator="in"/><feGaussianBlur stdDeviation="0.5"/></filter><linearGradient id="tg31" gradientUnits="userSpaceOnUse" x1="0" y1="352.0" x2="0" y2="557.5" gradientTransform="rotate(55 441.7 454.8)"><stop offset="0" stop-color="#fff" stop-opacity="0.0"/><stop offset="0.5" stop-color="#fff" stop-opacity="0.0"/><stop offset="0.56" stop-color="#fff" stop-opacity="0.39"/><stop offset="0.62" stop-color="#fff" stop-opacity="0.56"/><stop offset="0.7" stop-color="#fff" stop-opacity="0.49"/><stop offset="0.8" stop-color="#fff" stop-opacity="0.36"/><stop offset="0.9" stop-color="#fff" stop-opacity="0.39"/><stop offset="0.985" stop-color="#fff" stop-opacity="0.44"/><stop offset="0.99" stop-color="#fff" stop-opacity="0.0"/></linearGradient><filter id="tf31" filterUnits="userSpaceOnUse" x="334.1" y="347.1" width="215.3" height="215.3" color-interpolation-filters="sRGB"><feTurbulence type="fractalNoise" baseFrequency="0.13 0.3" numOctaves="2" seed="317" result="n"/><feColorMatrix in="n" type="matrix" values="0 0 0 0 0 0 0 0 0 0 0 0 0 0 0 1 0 0 0 0" result="nr"/><feComposite in="SourceAlpha" in2="nr" operator="arithmetic" k2="0.5" k3="1" k4="-0.8" result="s"/><feComponentTransfer in="s" result="t"><feFuncA type="linear" slope="4" intercept="0"/></feComponentTransfer><feColorMatrix in="n" type="matrix" values="0 0 2.2 0 -0.35  0 0 0.25 0 -0.1  0 0 0.25 0 -0.1  0 0 0 0 1" result="c"/><feComposite in="c" in2="t" operator="in"/><feGaussianBlur stdDeviation="0.5"/></filter><clipPath id="c19"><rect x="430.2" y="355.9" width="34.4" height="33.8"/></clipPath><linearGradient id="tg32" gradientUnits="userSpaceOnUse" x1="0" y1="355.9" x2="0" y2="389.7"><stop offset="0" stop-color="#fff" stop-opacity="0.86"/><stop offset="1" stop-color="#fff" stop-opacity="0.86"/></linearGradient><filter id="tf32" filterUnits="userSpaceOnUse" x="430.2" y="355.9" width="34.4" height="33.8" color-interpolation-filters="sRGB"><feTurbulence type="fractalNoise" baseFrequency="0.065" numOctaves="2" seed="324" result="n"/><feColorMatrix in="n" type="matrix" values="0 0 0 0 0 0 0 0 0 0 0 0 0 0 0 1 0 0 0 0" result="nr"/><feComposite in="SourceAlpha" in2="nr" operator="arithmetic" k2="0.5" k3="1" k4="-0.8" result="s"/><feComponentTransfer in="s" result="t"><feFuncA type="linear" slope="5" intercept="0"/></feComponentTransfer><feColorMatrix in="n" type="matrix" values="0 0 2.2 0 -0.35  0 0 0.25 0 -0.1  0 0 0.25 0 -0.1  0 0 0 0 1" result="c"/><feComposite in="c" in2="t" operator="in"/><feGaussianBlur stdDeviation="0.6"/></filter><clipPath id="c20"><rect x="430.2" y="391.2" width="34.4" height="34.3"/></clipPath><linearGradient id="tg33" gradientUnits="userSpaceOnUse" x1="0" y1="391.2" x2="0" y2="425.5"><stop offset="0" stop-color="#fff" stop-opacity="0.36000000000000004"/><stop offset="1" stop-color="#fff" stop-opacity="0.36000000000000004"/></linearGradient><filter id="tf33" filterUnits="userSpaceOnUse" x="430.2" y="391.2" width="34.4" height="34.3" color-interpolation-filters="sRGB"><feTurbulence type="fractalNoise" baseFrequency="0.1" numOctaves="3" seed="331" result="n"/><feColorMatrix in="n" type="matrix" values="0 0 0 0 0 0 0 0 0 0 0 0 0 0 0 1 0 0 0 0" result="nr"/><feComposite in="SourceAlpha" in2="nr" operator="arithmetic" k2="0.5" k3="1" k4="-0.8" result="s"/><feComponentTransfer in="s" result="t"><feFuncA type="linear" slope="3" intercept="0"/></feComponentTransfer><feColorMatrix in="n" type="matrix" values="0 0.6 0 0 0.0  0 0.6 0 0 0.0  0 0.6 0 0 0.0  0 0 0 0 1" result="c"/><feComposite in="c" in2="t" operator="in"/><feGaussianBlur stdDeviation="0.4"/></filter><linearGradient id="tg34" gradientUnits="userSpaceOnUse" x1="0" y1="391.2" x2="0" y2="425.5"><stop offset="0" stop-color="#fff" stop-opacity="0.5"/><stop offset="1" stop-color="#fff" stop-opacity="0.5"/></linearGradient><filter id="tf34" filterUnits="userSpaceOnUse" x="430.2" y="391.2" width="34.4" height="34.3" color-interpolation-filters="sRGB"><feTurbulence type="fractalNoise" baseFrequency="0.35" numOctaves="2" seed="338" result="n"/><feColorMatrix in="n" type="matrix" values="0 0 0 0 0 0 0 0 0 0 0 0 0 0 0 1 0 0 0 0" result="nr"/><feComposite in="SourceAlpha" in2="nr" operator="arithmetic" k2="0.5" k3="1" k4="-0.8" result="s"/><feComponentTransfer in="s" result="t"><feFuncA type="linear" slope="3" intercept="0"/></feComponentTransfer><feColorMatrix in="n" type="matrix" values="0 0.6 0 0 0.0  0 0.6 0 0 0.0  0 0.6 0 0 0.0  0 0 0 0 1" result="c"/><feComposite in="c" in2="t" operator="in"/><feGaussianBlur stdDeviation="0.3"/></filter><clipPath id="c21"><rect x="467.4" y="352.0" width="49.2" height="205.5"/></clipPath><linearGradient id="tg35" gradientUnits="userSpaceOnUse" x1="0" y1="352.0" x2="0" y2="557.5"><stop offset="0" stop-color="#fff" stop-opacity="0"/><stop offset="0.2" stop-color="#fff" stop-opacity="0.3"/><stop offset="0.45" stop-color="#fff" stop-opacity="0.45"/><stop offset="0.5" stop-color="#fff" stop-opacity="0.2"/></linearGradient><filter id="tf35" filterUnits="userSpaceOnUse" x="467.4" y="352.0" width="49.2" height="205.5" color-interpolation-filters="sRGB"><feTurbulence type="fractalNoise" baseFrequency="0.5" numOctaves="2" seed="345" result="n"/><feColorMatrix in="n" type="matrix" values="0 0 0 0 0 0 0 0 0 0 0 0 0 0 0 1 0 0 0 0" result="nr"/><feComposite in="SourceAlpha" in2="nr" operator="arithmetic" k2="0.5" k3="1" k4="-0.8" result="s"/><feComponentTransfer in="s" result="t"><feFuncA type="linear" slope="3" intercept="0"/></feComponentTransfer><feColorMatrix in="n" type="matrix" values="0 0.4 0 0 0.0  0 0.3 0 0 0.0  0 0.3 0 0 0.0  0 0 0 0 1" result="c"/><feComposite in="c" in2="t" operator="in"/><feGaussianBlur stdDeviation="0.5"/></filter><linearGradient id="tg36" gradientUnits="userSpaceOnUse" x1="0" y1="352.0" x2="0" y2="557.5"><stop offset="0" stop-color="#fff" stop-opacity="0"/><stop offset="0.45" stop-color="#fff" stop-opacity="0"/><stop offset="0.55" stop-color="#fff" stop-opacity="0.42"/><stop offset="0.65" stop-color="#fff" stop-opacity="0.58"/><stop offset="0.75" stop-color="#fff" stop-opacity="0.7"/><stop offset="0.9" stop-color="#fff" stop-opacity="0.76"/><stop offset="0.985" stop-color="#fff" stop-opacity="0.5"/><stop offset="0.99" stop-color="#fff" stop-opacity="0"/></linearGradient><filter id="tf36" filterUnits="userSpaceOnUse" x="467.4" y="352.0" width="49.2" height="205.5" color-interpolation-filters="sRGB"><feTurbulence type="fractalNoise" baseFrequency="0.26" numOctaves="2" seed="352" result="n"/><feColorMatrix in="n" type="matrix" values="0 0 0 0 0 0 0 0 0 0 0 0 0 0 0 1 0 0 0 0" result="nr"/><feComposite in="SourceAlpha" in2="nr" operator="arithmetic" k2="0.5" k3="1" k4="-0.8" result="s"/><feComponentTransfer in="s" result="t"><feFuncA type="linear" slope="3" intercept="0"/></feComponentTransfer><feColorMatrix in="n" type="matrix" values="0 1.4 0 0 0.0  0 1.4 0 0 0.0  0 1.4 0 0 0.0  0 0 0 0 1" result="c"/><feComposite in="c" in2="t" operator="in"/><feGaussianBlur stdDeviation="0.5"/></filter><linearGradient id="tg37" gradientUnits="userSpaceOnUse" x1="0" y1="352.0" x2="0" y2="557.5" gradientTransform="rotate(55 492.0 454.8)"><stop offset="0" stop-color="#fff" stop-opacity="0.34"/><stop offset="0.3" stop-color="#fff" stop-opacity="0.42"/><stop offset="0.45" stop-color="#fff" stop-opacity="0.54"/><stop offset="0.6" stop-color="#fff" stop-opacity="0.59"/><stop offset="0.75" stop-color="#fff" stop-opacity="0.49"/><stop offset="0.9" stop-color="#fff" stop-opacity="0.52"/><stop offset="0.985" stop-color="#fff" stop-opacity="0.59"/><stop offset="0.99" stop-color="#fff" stop-opacity="0.0"/></linearGradient><filter id="tf37" filterUnits="userSpaceOnUse" x="384.3" y="347.1" width="215.3" height="215.3" color-interpolation-filters="sRGB"><feTurbulence type="fractalNoise" baseFrequency="0.13 0.3" numOctaves="2" seed="359" result="n"/><feColorMatrix in="n" type="matrix" values="0 0 0 0 0 0 0 0 0 0 0 0 0 0 0 1 0 0 0 0" result="nr"/><feComposite in="SourceAlpha" in2="nr" operator="arithmetic" k2="0.5" k3="1" k4="-0.8" result="s"/><feComponentTransfer in="s" result="t"><feFuncA type="linear" slope="4" intercept="0"/></feComponentTransfer><feColorMatrix in="n" type="matrix" values="0 0 2.2 0 -0.35  0 0 0.25 0 -0.1  0 0 0.25 0 -0.1  0 0 0 0 1" result="c"/><feComposite in="c" in2="t" operator="in"/><feGaussianBlur stdDeviation="0.5"/></filter><clipPath id="c22"><rect x="481.0" y="355.9" width="34.4" height="33.8"/></clipPath><linearGradient id="tg38" gradientUnits="userSpaceOnUse" x1="0" y1="355.9" x2="0" y2="389.7"><stop offset="0" stop-color="#fff" stop-opacity="0.86"/><stop offset="1" stop-color="#fff" stop-opacity="0.86"/></linearGradient><filter id="tf38" filterUnits="userSpaceOnUse" x="481.0" y="355.9" width="34.4" height="33.8" color-interpolation-filters="sRGB"><feTurbulence type="fractalNoise" baseFrequency="0.065" numOctaves="2" seed="366" result="n"/><feColorMatrix in="n" type="matrix" values="0 0 0 0 0 0 0 0 0 0 0 0 0 0 0 1 0 0 0 0" result="nr"/><feComposite in="SourceAlpha" in2="nr" operator="arithmetic" k2="0.5" k3="1" k4="-0.8" result="s"/><feComponentTransfer in="s" result="t"><feFuncA type="linear" slope="5" intercept="0"/></feComponentTransfer><feColorMatrix in="n" type="matrix" values="0 0 2.2 0 -0.35  0 0 0.25 0 -0.1  0 0 0.25 0 -0.1  0 0 0 0 1" result="c"/><feComposite in="c" in2="t" operator="in"/><feGaussianBlur stdDeviation="0.6"/></filter><clipPath id="c23"><rect x="481.0" y="391.2" width="34.4" height="34.3"/></clipPath><linearGradient id="tg39" gradientUnits="userSpaceOnUse" x1="0" y1="391.2" x2="0" y2="425.5"><stop offset="0" stop-color="#fff" stop-opacity="0.765"/><stop offset="1" stop-color="#fff" stop-opacity="0.765"/></linearGradient><filter id="tf39" filterUnits="userSpaceOnUse" x="481.0" y="391.2" width="34.4" height="34.3" color-interpolation-filters="sRGB"><feTurbulence type="fractalNoise" baseFrequency="0.1" numOctaves="3" seed="373" result="n"/><feColorMatrix in="n" type="matrix" values="0 0 0 0 0 0 0 0 0 0 0 0 0 0 0 1 0 0 0 0" result="nr"/><feComposite in="SourceAlpha" in2="nr" operator="arithmetic" k2="0.5" k3="1" k4="-0.8" result="s"/><feComponentTransfer in="s" result="t"><feFuncA type="linear" slope="3" intercept="0"/></feComponentTransfer><feColorMatrix in="n" type="matrix" values="0 1.2 0 0 -0.05  0 1.2 0 0 -0.05  0 1.2 0 0 -0.05  0 0 0 0 1" result="c"/><feComposite in="c" in2="t" operator="in"/><feGaussianBlur stdDeviation="0.4"/></filter><linearGradient id="tg40" gradientUnits="userSpaceOnUse" x1="0" y1="391.2" x2="0" y2="425.5"><stop offset="0" stop-color="#fff" stop-opacity="0.5"/><stop offset="1" stop-color="#fff" stop-opacity="0.5"/></linearGradient><filter id="tf40" filterUnits="userSpaceOnUse" x="481.0" y="391.2" width="34.4" height="34.3" color-interpolation-filters="sRGB"><feTurbulence type="fractalNoise" baseFrequency="0.35" numOctaves="2" seed="380" result="n"/><feColorMatrix in="n" type="matrix" values="0 0 0 0 0 0 0 0 0 0 0 0 0 0 0 1 0 0 0 0" result="nr"/><feComposite in="SourceAlpha" in2="nr" operator="arithmetic" k2="0.5" k3="1" k4="-0.8" result="s"/><feComponentTransfer in="s" result="t"><feFuncA type="linear" slope="3" intercept="0"/></feComponentTransfer><feColorMatrix in="n" type="matrix" values="0 1.2 0 0 -0.05  0 1.2 0 0 -0.05  0 1.2 0 0 -0.05  0 0 0 0 1" result="c"/><feComposite in="c" in2="t" operator="in"/><feGaussianBlur stdDeviation="0.3"/></filter><clipPath id="c24"><rect x="535.2" y="352.0" width="49.0" height="205.5"/></clipPath><linearGradient id="tg41" gradientUnits="userSpaceOnUse" x1="0" y1="352.0" x2="0" y2="557.5"><stop offset="0" stop-color="#fff" stop-opacity="0.62"/><stop offset="0.1" stop-color="#fff" stop-opacity="0.66"/><stop offset="0.2" stop-color="#fff" stop-opacity="0.7"/><stop offset="0.5" stop-color="#fff" stop-opacity="0.72"/><stop offset="0.65" stop-color="#fff" stop-opacity="0.64"/><stop offset="0.75" stop-color="#fff" stop-opacity="0.5"/><stop offset="0.9" stop-color="#fff" stop-opacity="0.36"/><stop offset="0.985" stop-color="#fff" stop-opacity="0.32"/><stop offset="0.99" stop-color="#fff" stop-opacity="0"/></linearGradient><filter id="tf41" filterUnits="userSpaceOnUse" x="535.2" y="352.0" width="49.0" height="205.5" color-interpolation-filters="sRGB"><feTurbulence type="fractalNoise" baseFrequency="0.4" numOctaves="2" seed="387" result="n"/><feColorMatrix in="n" type="matrix" values="0 0 0 0 0 0 0 0 0 0 0 0 0 0 0 1 0 0 0 0" result="nr"/><feComposite in="SourceAlpha" in2="nr" operator="arithmetic" k2="0.5" k3="1" k4="-0.8" result="s"/><feComponentTransfer in="s" result="t"><feFuncA type="linear" slope="4" intercept="0"/></feComponentTransfer><feColorMatrix in="n" type="matrix" values="0 1.3 0 0 0.0  0 1.3 0 0 0.0  0 1.3 0 0 0.0  0 0 0 0 1" result="c"/><feComposite in="c" in2="t" operator="in"/><feGaussianBlur stdDeviation="0.4"/></filter><linearGradient id="tg42" gradientUnits="userSpaceOnUse" x1="0" y1="352.0" x2="0" y2="424.0"><stop offset="0" stop-color="#fff" stop-opacity="0.85"/><stop offset="0.6" stop-color="#fff" stop-opacity="0.8"/><stop offset="1" stop-color="#fff" stop-opacity="0.3"/></linearGradient><filter id="tf42" filterUnits="userSpaceOnUse" x="535.2" y="352.0" width="16.0" height="72.0" color-interpolation-filters="sRGB"><feTurbulence type="fractalNoise" baseFrequency="0.4" numOctaves="2" seed="394" result="n"/><feColorMatrix in="n" type="matrix" values="0 0 0 0 0 0 0 0 0 0 0 0 0 0 0 1 0 0 0 0" result="nr"/><feComposite in="SourceAlpha" in2="nr" operator="arithmetic" k2="0.5" k3="1" k4="-0.8" result="s"/><feComponentTransfer in="s" result="t"><feFuncA type="linear" slope="3" intercept="0"/></feComponentTransfer><feColorMatrix in="n" type="matrix" values="0 1.2 0 0 -0.05  0 1.2 0 0 -0.05  0 1.2 0 0 -0.05  0 0 0 0 1" result="c"/><feComposite in="c" in2="t" operator="in"/><feGaussianBlur stdDeviation="0.5"/></filter><linearGradient id="tg43" gradientUnits="userSpaceOnUse" x1="0" y1="352.0" x2="0" y2="557.5" gradientTransform="rotate(50 559.7 454.8)"><stop offset="0" stop-color="#fff" stop-opacity="0.0"/><stop offset="0.2" stop-color="#fff" stop-opacity="0.21"/><stop offset="0.3" stop-color="#fff" stop-opacity="0.47"/><stop offset="0.45" stop-color="#fff" stop-opacity="0.55"/><stop offset="0.6" stop-color="#fff" stop-opacity="0.57"/><stop offset="0.7" stop-color="#fff" stop-opacity="0.49"/><stop offset="0.8" stop-color="#fff" stop-opacity="0.51"/><stop offset="0.985" stop-color="#fff" stop-opacity="0.51"/><stop offset="0.99" stop-color="#fff" stop-opacity="0.0"/></linearGradient><filter id="tf43" filterUnits="userSpaceOnUse" x="452.1" y="347.1" width="215.3" height="215.3" color-interpolation-filters="sRGB"><feTurbulence type="fractalNoise" baseFrequency="0.13 0.3" numOctaves="2" seed="401" result="n"/><feColorMatrix in="n" type="matrix" values="0 0 0 0 0 0 0 0 0 0 0 0 0 0 0 1 0 0 0 0" result="nr"/><feComposite in="SourceAlpha" in2="nr" operator="arithmetic" k2="0.5" k3="1" k4="-0.8" result="s"/><feComponentTransfer in="s" result="t"><feFuncA type="linear" slope="4" intercept="0"/></feComponentTransfer><feColorMatrix in="n" type="matrix" values="0 0 2.2 0 -0.35  0 0 0.25 0 -0.1  0 0 0.25 0 -0.1  0 0 0 0 1" result="c"/><feComposite in="c" in2="t" operator="in"/><feGaussianBlur stdDeviation="0.5"/></filter><linearGradient id="tg44" gradientUnits="userSpaceOnUse" x1="0" y1="352.0" x2="0" y2="557.5" gradientTransform="rotate(78 559.7 454.8)"><stop offset="0" stop-color="#fff" stop-opacity="0"/><stop offset="0.78" stop-color="#fff" stop-opacity="0.0"/><stop offset="0.86" stop-color="#fff" stop-opacity="0.62"/><stop offset="0.985" stop-color="#fff" stop-opacity="0.68"/><stop offset="0.99" stop-color="#fff" stop-opacity="0"/></linearGradient><filter id="tf44" filterUnits="userSpaceOnUse" x="452.1" y="347.1" width="215.3" height="215.3" color-interpolation-filters="sRGB"><feTurbulence type="fractalNoise" baseFrequency="0.12 0.35" numOctaves="2" seed="408" result="n"/><feColorMatrix in="n" type="matrix" values="0 0 0 0 0 0 0 0 0 0 0 0 0 0 0 1 0 0 0 0" result="nr"/><feComposite in="SourceAlpha" in2="nr" operator="arithmetic" k2="0.5" k3="1" k4="-0.8" result="s"/><feComponentTransfer in="s" result="t"><feFuncA type="linear" slope="4" intercept="0"/></feComponentTransfer><feColorMatrix in="n" type="matrix" values="0 0 2.2 0 -0.35  0 0 0.25 0 -0.1  0 0 0.25 0 -0.1  0 0 0 0 1" result="c"/><feComposite in="c" in2="t" operator="in"/><feGaussianBlur stdDeviation="0.5"/></filter><clipPath id="c25"><rect x="548.8" y="355.9" width="34.4" height="33.8"/></clipPath><linearGradient id="tg45" gradientUnits="userSpaceOnUse" x1="0" y1="355.9" x2="0" y2="389.7"><stop offset="0" stop-color="#fff" stop-opacity="0.86"/><stop offset="1" stop-color="#fff" stop-opacity="0.86"/></linearGradient><filter id="tf45" filterUnits="userSpaceOnUse" x="548.8" y="355.9" width="34.4" height="33.8" color-interpolation-filters="sRGB"><feTurbulence type="fractalNoise" baseFrequency="0.065" numOctaves="2" seed="415" result="n"/><feColorMatrix in="n" type="matrix" values="0 0 0 0 0 0 0 0 0 0 0 0 0 0 0 1 0 0 0 0" result="nr"/><feComposite in="SourceAlpha" in2="nr" operator="arithmetic" k2="0.5" k3="1" k4="-0.8" result="s"/><feComponentTransfer in="s" result="t"><feFuncA type="linear" slope="5" intercept="0"/></feComponentTransfer><feColorMatrix in="n" type="matrix" values="0 0 2.2 0 -0.35  0 0 0.25 0 -0.1  0 0 0.25 0 -0.1  0 0 0 0 1" result="c"/><feComposite in="c" in2="t" operator="in"/><feGaussianBlur stdDeviation="0.6"/></filter><clipPath id="c26"><rect x="548.8" y="391.2" width="34.4" height="34.3"/></clipPath><linearGradient id="tg46" gradientUnits="userSpaceOnUse" x1="0" y1="391.2" x2="0" y2="425.5"><stop offset="0" stop-color="#fff" stop-opacity="0.315"/><stop offset="1" stop-color="#fff" stop-opacity="0.315"/></linearGradient><filter id="tf46" filterUnits="userSpaceOnUse" x="548.8" y="391.2" width="34.4" height="34.3" color-interpolation-filters="sRGB"><feTurbulence type="fractalNoise" baseFrequency="0.1" numOctaves="3" seed="422" result="n"/><feColorMatrix in="n" type="matrix" values="0 0 0 0 0 0 0 0 0 0 0 0 0 0 0 1 0 0 0 0" result="nr"/><feComposite in="SourceAlpha" in2="nr" operator="arithmetic" k2="0.5" k3="1" k4="-0.8" result="s"/><feComponentTransfer in="s" result="t"><feFuncA type="linear" slope="3" intercept="0"/></feComponentTransfer><feColorMatrix in="n" type="matrix" values="0 0.6 0 0 0.0  0 0.6 0 0 0.0  0 0.6 0 0 0.0  0 0 0 0 1" result="c"/><feComposite in="c" in2="t" operator="in"/><feGaussianBlur stdDeviation="0.4"/></filter><linearGradient id="tg47" gradientUnits="userSpaceOnUse" x1="0" y1="391.2" x2="0" y2="425.5"><stop offset="0" stop-color="#fff" stop-opacity="0.5"/><stop offset="1" stop-color="#fff" stop-opacity="0.5"/></linearGradient><filter id="tf47" filterUnits="userSpaceOnUse" x="548.8" y="391.2" width="34.4" height="34.3" color-interpolation-filters="sRGB"><feTurbulence type="fractalNoise" baseFrequency="0.35" numOctaves="2" seed="429" result="n"/><feColorMatrix in="n" type="matrix" values="0 0 0 0 0 0 0 0 0 0 0 0 0 0 0 1 0 0 0 0" result="nr"/><feComposite in="SourceAlpha" in2="nr" operator="arithmetic" k2="0.5" k3="1" k4="-0.8" result="s"/><feComponentTransfer in="s" result="t"><feFuncA type="linear" slope="3" intercept="0"/></feComponentTransfer><feColorMatrix in="n" type="matrix" values="0 0.6 0 0 0.0  0 0.6 0 0 0.0  0 0.6 0 0 0.0  0 0 0 0 1" result="c"/><feComposite in="c" in2="t" operator="in"/><feGaussianBlur stdDeviation="0.3"/></filter><clipPath id="c27"><rect x="585.8" y="352.0" width="49.0" height="205.5"/></clipPath><linearGradient id="tg48" gradientUnits="userSpaceOnUse" x1="0" y1="352.0" x2="0" y2="557.5"><stop offset="0" stop-color="#fff" stop-opacity="0.62"/><stop offset="0.1" stop-color="#fff" stop-opacity="0.66"/><stop offset="0.2" stop-color="#fff" stop-opacity="0.7"/><stop offset="0.5" stop-color="#fff" stop-opacity="0.72"/><stop offset="0.65" stop-color="#fff" stop-opacity="0.64"/><stop offset="0.75" stop-color="#fff" stop-opacity="0.5"/><stop offset="0.9" stop-color="#fff" stop-opacity="0.36"/><stop offset="0.985" stop-color="#fff" stop-opacity="0.32"/><stop offset="0.99" stop-color="#fff" stop-opacity="0"/></linearGradient><filter id="tf48" filterUnits="userSpaceOnUse" x="585.8" y="352.0" width="49.0" height="205.5" color-interpolation-filters="sRGB"><feTurbulence type="fractalNoise" baseFrequency="0.4" numOctaves="2" seed="436" result="n"/><feColorMatrix in="n" type="matrix" values="0 0 0 0 0 0 0 0 0 0 0 0 0 0 0 1 0 0 0 0" result="nr"/><feComposite in="SourceAlpha" in2="nr" operator="arithmetic" k2="0.5" k3="1" k4="-0.8" result="s"/><feComponentTransfer in="s" result="t"><feFuncA type="linear" slope="4" intercept="0"/></feComponentTransfer><feColorMatrix in="n" type="matrix" values="0 1.3 0 0 0.0  0 1.3 0 0 0.0  0 1.3 0 0 0.0  0 0 0 0 1" result="c"/><feComposite in="c" in2="t" operator="in"/><feGaussianBlur stdDeviation="0.4"/></filter><linearGradient id="tg49" gradientUnits="userSpaceOnUse" x1="0" y1="352.0" x2="0" y2="424.0"><stop offset="0" stop-color="#fff" stop-opacity="0.85"/><stop offset="0.6" stop-color="#fff" stop-opacity="0.8"/><stop offset="1" stop-color="#fff" stop-opacity="0.3"/></linearGradient><filter id="tf49" filterUnits="userSpaceOnUse" x="585.8" y="352.0" width="16.0" height="72.0" color-interpolation-filters="sRGB"><feTurbulence type="fractalNoise" baseFrequency="0.4" numOctaves="2" seed="443" result="n"/><feColorMatrix in="n" type="matrix" values="0 0 0 0 0 0 0 0 0 0 0 0 0 0 0 1 0 0 0 0" result="nr"/><feComposite in="SourceAlpha" in2="nr" operator="arithmetic" k2="0.5" k3="1" k4="-0.8" result="s"/><feComponentTransfer in="s" result="t"><feFuncA type="linear" slope="3" intercept="0"/></feComponentTransfer><feColorMatrix in="n" type="matrix" values="0 1.2 0 0 -0.05  0 1.2 0 0 -0.05  0 1.2 0 0 -0.05  0 0 0 0 1" result="c"/><feComposite in="c" in2="t" operator="in"/><feGaussianBlur stdDeviation="0.5"/></filter><linearGradient id="tg50" gradientUnits="userSpaceOnUse" x1="0" y1="352.0" x2="0" y2="557.5" gradientTransform="rotate(50 610.3 454.8)"><stop offset="0" stop-color="#fff" stop-opacity="0.21"/><stop offset="0.3" stop-color="#fff" stop-opacity="0.37"/><stop offset="0.45" stop-color="#fff" stop-opacity="0.56"/><stop offset="0.6" stop-color="#fff" stop-opacity="0.56"/><stop offset="0.75" stop-color="#fff" stop-opacity="0.45"/><stop offset="0.85" stop-color="#fff" stop-opacity="0.51"/><stop offset="0.985" stop-color="#fff" stop-opacity="0.56"/><stop offset="0.99" stop-color="#fff" stop-opacity="0.0"/></linearGradient><filter id="tf50" filterUnits="userSpaceOnUse" x="502.7" y="347.1" width="215.3" height="215.3" color-interpolation-filters="sRGB"><feTurbulence type="fractalNoise" baseFrequency="0.13 0.3" numOctaves="2" seed="450" result="n"/><feColorMatrix in="n" type="matrix" values="0 0 0 0 0 0 0 0 0 0 0 0 0 0 0 1 0 0 0 0" result="nr"/><feComposite in="SourceAlpha" in2="nr" operator="arithmetic" k2="0.5" k3="1" k4="-0.8" result="s"/><feComponentTransfer in="s" result="t"><feFuncA type="linear" slope="4" intercept="0"/></feComponentTransfer><feColorMatrix in="n" type="matrix" values="0 0 2.2 0 -0.35  0 0 0.25 0 -0.1  0 0 0.25 0 -0.1  0 0 0 0 1" result="c"/><feComposite in="c" in2="t" operator="in"/><feGaussianBlur stdDeviation="0.5"/></filter><clipPath id="c28"><rect x="598.8" y="355.9" width="34.4" height="33.8"/></clipPath><linearGradient id="tg51" gradientUnits="userSpaceOnUse" x1="0" y1="355.9" x2="0" y2="389.7"><stop offset="0" stop-color="#fff" stop-opacity="0.86"/><stop offset="1" stop-color="#fff" stop-opacity="0.86"/></linearGradient><filter id="tf51" filterUnits="userSpaceOnUse" x="598.8" y="355.9" width="34.4" height="33.8" color-interpolation-filters="sRGB"><feTurbulence type="fractalNoise" baseFrequency="0.065" numOctaves="2" seed="457" result="n"/><feColorMatrix in="n" type="matrix" values="0 0 0 0 0 0 0 0 0 0 0 0 0 0 0 1 0 0 0 0" result="nr"/><feComposite in="SourceAlpha" in2="nr" operator="arithmetic" k2="0.5" k3="1" k4="-0.8" result="s"/><feComponentTransfer in="s" result="t"><feFuncA type="linear" slope="5" intercept="0"/></feComponentTransfer><feColorMatrix in="n" type="matrix" values="0 0 2.2 0 -0.35  0 0 0.25 0 -0.1  0 0 0.25 0 -0.1  0 0 0 0 1" result="c"/><feComposite in="c" in2="t" operator="in"/><feGaussianBlur stdDeviation="0.6"/></filter><clipPath id="c29"><rect x="598.8" y="391.2" width="34.4" height="34.3"/></clipPath><linearGradient id="tg52" gradientUnits="userSpaceOnUse" x1="0" y1="391.2" x2="0" y2="425.5"><stop offset="0" stop-color="#fff" stop-opacity="0.315"/><stop offset="1" stop-color="#fff" stop-opacity="0.315"/></linearGradient><filter id="tf52" filterUnits="userSpaceOnUse" x="598.8" y="391.2" width="34.4" height="34.3" color-interpolation-filters="sRGB"><feTurbulence type="fractalNoise" baseFrequency="0.1" numOctaves="3" seed="464" result="n"/><feColorMatrix in="n" type="matrix" values="0 0 0 0 0 0 0 0 0 0 0 0 0 0 0 1 0 0 0 0" result="nr"/><feComposite in="SourceAlpha" in2="nr" operator="arithmetic" k2="0.5" k3="1" k4="-0.8" result="s"/><feComponentTransfer in="s" result="t"><feFuncA type="linear" slope="3" intercept="0"/></feComponentTransfer><feColorMatrix in="n" type="matrix" values="0 0.6 0 0 0.0  0 0.6 0 0 0.0  0 0.6 0 0 0.0  0 0 0 0 1" result="c"/><feComposite in="c" in2="t" operator="in"/><feGaussianBlur stdDeviation="0.4"/></filter><linearGradient id="tg53" gradientUnits="userSpaceOnUse" x1="0" y1="391.2" x2="0" y2="425.5"><stop offset="0" stop-color="#fff" stop-opacity="0.5"/><stop offset="1" stop-color="#fff" stop-opacity="0.5"/></linearGradient><filter id="tf53" filterUnits="userSpaceOnUse" x="598.8" y="391.2" width="34.4" height="34.3" color-interpolation-filters="sRGB"><feTurbulence type="fractalNoise" baseFrequency="0.35" numOctaves="2" seed="471" result="n"/><feColorMatrix in="n" type="matrix" values="0 0 0 0 0 0 0 0 0 0 0 0 0 0 0 1 0 0 0 0" result="nr"/><feComposite in="SourceAlpha" in2="nr" operator="arithmetic" k2="0.5" k3="1" k4="-0.8" result="s"/><feComponentTransfer in="s" result="t"><feFuncA type="linear" slope="3" intercept="0"/></feComponentTransfer><feColorMatrix in="n" type="matrix" values="0 0.6 0 0 0.0  0 0.6 0 0 0.0  0 0.6 0 0 0.0  0 0 0 0 1" result="c"/><feComposite in="c" in2="t" operator="in"/><feGaussianBlur stdDeviation="0.3"/></filter><clipPath id="c30"><rect x="636.0" y="352.0" width="49.2" height="205.5"/></clipPath><linearGradient id="tg54" gradientUnits="userSpaceOnUse" x1="0" y1="352.0" x2="0" y2="557.5"><stop offset="0" stop-color="#fff" stop-opacity="0.52"/><stop offset="0.1" stop-color="#fff" stop-opacity="0.56"/><stop offset="0.2" stop-color="#fff" stop-opacity="0.62"/><stop offset="0.5" stop-color="#fff" stop-opacity="0.68"/><stop offset="0.65" stop-color="#fff" stop-opacity="0.58"/><stop offset="0.75" stop-color="#fff" stop-opacity="0.44"/><stop offset="0.9" stop-color="#fff" stop-opacity="0.28"/><stop offset="0.985" stop-color="#fff" stop-opacity="0.24"/><stop offset="0.99" stop-color="#fff" stop-opacity="0"/></linearGradient><filter id="tf54" filterUnits="userSpaceOnUse" x="636.0" y="352.0" width="49.2" height="205.5" color-interpolation-filters="sRGB"><feTurbulence type="fractalNoise" baseFrequency="0.4" numOctaves="2" seed="478" result="n"/><feColorMatrix in="n" type="matrix" values="0 0 0 0 0 0 0 0 0 0 0 0 0 0 0 1 0 0 0 0" result="nr"/><feComposite in="SourceAlpha" in2="nr" operator="arithmetic" k2="0.5" k3="1" k4="-0.8" result="s"/><feComponentTransfer in="s" result="t"><feFuncA type="linear" slope="4" intercept="0"/></feComponentTransfer><feColorMatrix in="n" type="matrix" values="0 1.3 0 0 0.0  0 1.3 0 0 0.0  0 1.3 0 0 0.0  0 0 0 0 1" result="c"/><feComposite in="c" in2="t" operator="in"/><feGaussianBlur stdDeviation="0.4"/></filter><linearGradient id="tg55" gradientUnits="userSpaceOnUse" x1="0" y1="352.0" x2="0" y2="557.5" gradientTransform="rotate(50 660.6 454.8)"><stop offset="0" stop-color="#fff" stop-opacity="0.39"/><stop offset="0.25" stop-color="#fff" stop-opacity="0.45"/><stop offset="0.4" stop-color="#fff" stop-opacity="0.57"/><stop offset="0.55" stop-color="#fff" stop-opacity="0.61"/><stop offset="0.7" stop-color="#fff" stop-opacity="0.53"/><stop offset="0.8" stop-color="#fff" stop-opacity="0.56"/><stop offset="0.985" stop-color="#fff" stop-opacity="0.57"/><stop offset="0.99" stop-color="#fff" stop-opacity="0.0"/></linearGradient><filter id="tf55" filterUnits="userSpaceOnUse" x="552.9" y="347.1" width="215.3" height="215.3" color-interpolation-filters="sRGB"><feTurbulence type="fractalNoise" baseFrequency="0.13 0.3" numOctaves="2" seed="485" result="n"/><feColorMatrix in="n" type="matrix" values="0 0 0 0 0 0 0 0 0 0 0 0 0 0 0 1 0 0 0 0" result="nr"/><feComposite in="SourceAlpha" in2="nr" operator="arithmetic" k2="0.5" k3="1" k4="-0.8" result="s"/><feComponentTransfer in="s" result="t"><feFuncA type="linear" slope="4" intercept="0"/></feComponentTransfer><feColorMatrix in="n" type="matrix" values="0 0 2.2 0 -0.35  0 0 0.25 0 -0.1  0 0 0.25 0 -0.1  0 0 0 0 1" result="c"/><feComposite in="c" in2="t" operator="in"/><feGaussianBlur stdDeviation="0.5"/></filter><linearGradient id="tg56" gradientUnits="userSpaceOnUse" x1="0" y1="352.0" x2="0" y2="557.5" gradientTransform="rotate(78 660.6 454.8)"><stop offset="0" stop-color="#fff" stop-opacity="0"/><stop offset="0.78" stop-color="#fff" stop-opacity="0.0"/><stop offset="0.86" stop-color="#fff" stop-opacity="0.62"/><stop offset="0.985" stop-color="#fff" stop-opacity="0.68"/><stop offset="0.99" stop-color="#fff" stop-opacity="0"/></linearGradient><filter id="tf56" filterUnits="userSpaceOnUse" x="552.9" y="347.1" width="215.3" height="215.3" color-interpolation-filters="sRGB"><feTurbulence type="fractalNoise" baseFrequency="0.12 0.35" numOctaves="2" seed="492" result="n"/><feColorMatrix in="n" type="matrix" values="0 0 0 0 0 0 0 0 0 0 0 0 0 0 0 1 0 0 0 0" result="nr"/><feComposite in="SourceAlpha" in2="nr" operator="arithmetic" k2="0.5" k3="1" k4="-0.8" result="s"/><feComponentTransfer in="s" result="t"><feFuncA type="linear" slope="4" intercept="0"/></feComponentTransfer><feColorMatrix in="n" type="matrix" values="0 0 2.2 0 -0.35  0 0 0.25 0 -0.1  0 0 0.25 0 -0.1  0 0 0 0 1" result="c"/><feComposite in="c" in2="t" operator="in"/><feGaussianBlur stdDeviation="0.5"/></filter><clipPath id="c31"><rect x="649.6" y="355.9" width="34.4" height="33.8"/></clipPath><linearGradient id="tg57" gradientUnits="userSpaceOnUse" x1="0" y1="355.9" x2="0" y2="389.7"><stop offset="0" stop-color="#fff" stop-opacity="0.86"/><stop offset="1" stop-color="#fff" stop-opacity="0.86"/></linearGradient><filter id="tf57" filterUnits="userSpaceOnUse" x="649.6" y="355.9" width="34.4" height="33.8" color-interpolation-filters="sRGB"><feTurbulence type="fractalNoise" baseFrequency="0.065" numOctaves="2" seed="499" result="n"/><feColorMatrix in="n" type="matrix" values="0 0 0 0 0 0 0 0 0 0 0 0 0 0 0 1 0 0 0 0" result="nr"/><feComposite in="SourceAlpha" in2="nr" operator="arithmetic" k2="0.5" k3="1" k4="-0.8" result="s"/><feComponentTransfer in="s" result="t"><feFuncA type="linear" slope="5" intercept="0"/></feComponentTransfer><feColorMatrix in="n" type="matrix" values="0 0 2.2 0 -0.35  0 0 0.25 0 -0.1  0 0 0.25 0 -0.1  0 0 0 0 1" result="c"/><feComposite in="c" in2="t" operator="in"/><feGaussianBlur stdDeviation="0.6"/></filter><clipPath id="c32"><rect x="649.6" y="391.2" width="34.4" height="34.3"/></clipPath><linearGradient id="tg58" gradientUnits="userSpaceOnUse" x1="0" y1="391.2" x2="0" y2="425.5"><stop offset="0" stop-color="#fff" stop-opacity="0.315"/><stop offset="1" stop-color="#fff" stop-opacity="0.315"/></linearGradient><filter id="tf58" filterUnits="userSpaceOnUse" x="649.6" y="391.2" width="34.4" height="34.3" color-interpolation-filters="sRGB"><feTurbulence type="fractalNoise" baseFrequency="0.1" numOctaves="3" seed="506" result="n"/><feColorMatrix in="n" type="matrix" values="0 0 0 0 0 0 0 0 0 0 0 0 0 0 0 1 0 0 0 0" result="nr"/><feComposite in="SourceAlpha" in2="nr" operator="arithmetic" k2="0.5" k3="1" k4="-0.8" result="s"/><feComponentTransfer in="s" result="t"><feFuncA type="linear" slope="3" intercept="0"/></feComponentTransfer><feColorMatrix in="n" type="matrix" values="0 0.6 0 0 0.0  0 0.6 0 0 0.0  0 0.6 0 0 0.0  0 0 0 0 1" result="c"/><feComposite in="c" in2="t" operator="in"/><feGaussianBlur stdDeviation="0.4"/></filter><linearGradient id="tg59" gradientUnits="userSpaceOnUse" x1="0" y1="391.2" x2="0" y2="425.5"><stop offset="0" stop-color="#fff" stop-opacity="0.5"/><stop offset="1" stop-color="#fff" stop-opacity="0.5"/></linearGradient><filter id="tf59" filterUnits="userSpaceOnUse" x="649.6" y="391.2" width="34.4" height="34.3" color-interpolation-filters="sRGB"><feTurbulence type="fractalNoise" baseFrequency="0.35" numOctaves="2" seed="513" result="n"/><feColorMatrix in="n" type="matrix" values="0 0 0 0 0 0 0 0 0 0 0 0 0 0 0 1 0 0 0 0" result="nr"/><feComposite in="SourceAlpha" in2="nr" operator="arithmetic" k2="0.5" k3="1" k4="-0.8" result="s"/><feComponentTransfer in="s" result="t"><feFuncA type="linear" slope="3" intercept="0"/></feComponentTransfer><feColorMatrix in="n" type="matrix" values="0 0.6 0 0 0.0  0 0.6 0 0 0.0  0 0.6 0 0 0.0  0 0 0 0 1" result="c"/><feComposite in="c" in2="t" operator="in"/><feGaussianBlur stdDeviation="0.3"/></filter><clipPath id="c33"><rect x="137.4" y="616.0" width="49.5" height="51.2"/></clipPath><linearGradient id="tg60" gradientUnits="userSpaceOnUse" x1="0" y1="616.0" x2="0" y2="667.2"><stop offset="0" stop-color="#fff" stop-opacity="0.38"/><stop offset="0.3" stop-color="#fff" stop-opacity="0.44"/><stop offset="0.6" stop-color="#fff" stop-opacity="0.5"/><stop offset="0.85" stop-color="#fff" stop-opacity="0.45"/><stop offset="0.88" stop-color="#fff" stop-opacity="0"/></linearGradient><filter id="tf60" filterUnits="userSpaceOnUse" x="137.4" y="616.0" width="49.5" height="51.2" color-interpolation-filters="sRGB"><feTurbulence type="fractalNoise" baseFrequency="0.45" numOctaves="2" seed="520" result="n"/><feColorMatrix in="n" type="matrix" values="0 0 0 0 0 0 0 0 0 0 0 0 0 0 0 1 0 0 0 0" result="nr"/><feComposite in="SourceAlpha" in2="nr" operator="arithmetic" k2="0.5" k3="1" k4="-0.8" result="s"/><feComponentTransfer in="s" result="t"><feFuncA type="linear" slope="4" intercept="0"/></feComponentTransfer><feColorMatrix in="n" type="matrix" values="0 0 2.2 0 -0.35  0 0 0.25 0 -0.1  0 0 0.25 0 -0.1  0 0 0 0 1" result="c"/><feComposite in="c" in2="t" operator="in"/><feGaussianBlur stdDeviation="0.5"/></filter><clipPath id="c34"><rect x="187.9" y="616.0" width="48.6" height="51.2"/></clipPath><linearGradient id="tg61" gradientUnits="userSpaceOnUse" x1="0" y1="616.0" x2="0" y2="667.2"><stop offset="0" stop-color="#fff" stop-opacity="0.42"/><stop offset="0.15" stop-color="#fff" stop-opacity="0.5"/><stop offset="0.3" stop-color="#fff" stop-opacity="0.74"/><stop offset="0.6" stop-color="#fff" stop-opacity="0.76"/><stop offset="0.72" stop-color="#fff" stop-opacity="0.6"/><stop offset="0.85" stop-color="#fff" stop-opacity="0.5"/><stop offset="0.87" stop-color="#fff" stop-opacity="0"/></linearGradient><filter id="tf61" filterUnits="userSpaceOnUse" x="187.9" y="616.0" width="48.6" height="51.2" color-interpolation-filters="sRGB"><feTurbulence type="fractalNoise" baseFrequency="0.42" numOctaves="2" seed="527" result="n"/><feColorMatrix in="n" type="matrix" values="0 0 0 0 0 0 0 0 0 0 0 0 0 0 0 1 0 0 0 0" result="nr"/><feComposite in="SourceAlpha" in2="nr" operator="arithmetic" k2="0.5" k3="1" k4="-0.8" result="s"/><feComponentTransfer in="s" result="t"><feFuncA type="linear" slope="4" intercept="0"/></feComponentTransfer><feColorMatrix in="n" type="matrix" values="0 0 2.2 0 -0.35  0 0 0.25 0 -0.1  0 0 0.25 0 -0.1  0 0 0 0 1" result="c"/><feComposite in="c" in2="t" operator="in"/><feGaussianBlur stdDeviation="0.5"/></filter><linearGradient id="th61" gradientUnits="userSpaceOnUse" x1="187.9" y1="0" x2="236.5" y2="0"><stop offset="0" stop-color="#fff" stop-opacity="1"/><stop offset="0.6" stop-color="#fff" stop-opacity="1"/><stop offset="1" stop-color="#fff" stop-opacity="0.8"/></linearGradient><mask id="tm61" maskUnits="userSpaceOnUse" x="187.9" y="616.0" width="48.6" height="51.2"><rect x="187.9" y="616.0" width="48.6" height="51.2" fill="url(#th61)"/></mask><linearGradient id="viridis" x1="0" y1="1" x2="0" y2="0"><stop offset="0" stop-color="#440154"/><stop offset="0.2" stop-color="#414487"/><stop offset="0.4" stop-color="#2a788e"/><stop offset="0.6" stop-color="#22a884"/><stop offset="0.8" stop-color="#7ad151"/><stop offset="1" stop-color="#fde725"/></linearGradient></defs>
<text x="0.0" y="15.2" font-size="21" font-weight="bold">a</text>
<text x="112.0" y="11.8" font-size="11.5" text-anchor="end" textLength="37.0" lengthAdjust="spacingAndGlyphs">Control</text>
<text x="112.0" y="24.6" font-size="11.5" text-anchor="end" fill="#e3242b" font-style="italic" textLength="60.0" lengthAdjust="spacingAndGlyphs">Brn1/2-cKO</text>
<path d="M1.0 127.5C2.8 126.2 6.6 123.8 11.8 120.0C17.1 116.2 24.0 111.8 32.5 104.5C41.0 97.2 54.6 85.3 63.0 76.5C71.4 67.7 76.9 58.2 82.8 51.5C88.7 44.8 94.6 39.7 98.5 36.5C102.4 33.3 103.5 33.1 106.0 32.2C108.5 31.3 112.2 31.2 113.5 31.0" fill="none" stroke="#111" stroke-width="1.3"/>
<path d="M31.4 212L31.4 111L30.3 105L34.1 104.5L33.6 111L33.6 212Z" fill="#9a9a9a" stroke="#6e6e6e" stroke-width="0.4"/>
<path d="M62.9 212L62.9 83L61.8 77L65.6 76.5L65.2 83L65.2 212Z" fill="#9a9a9a" stroke="#6e6e6e" stroke-width="0.4"/>
<path d="M98.3 212L98.3 46L97.3 40L101.1 39.5L100.7 46L100.7 212Z" fill="#9a9a9a" stroke="#6e6e6e" stroke-width="0.4"/>
<path d="M60.8 128.7L60.8 109.5L58.9 104.5L62.7 105.0L62.2 109.5L62.2 128.7Z" fill="#9a9a9a" stroke="#777" stroke-width="0.4"/>
<path d="M60.9 142.3L61.5 165.5L62.1 142.3Z" fill="#9a9a9a" stroke="#777" stroke-width="0.4"/>
<ellipse cx="61.5" cy="135.5" rx="4.4" ry="7.8" fill="#b4b4b4" stroke="#6a6a6a" stroke-width="0.7"/>
<ellipse cx="61.8" cy="135.5" rx="2.4" ry="3.3" fill="#000"/>
<path d="M95.3 88.8L95.3 68.6L93.4 63.6L97.2 64.1L96.7 68.6L96.7 88.8Z" fill="#9a9a9a" stroke="#777" stroke-width="0.4"/>
<path d="M95.4 102.4L96.0 119.6L96.6 102.4Z" fill="#9a9a9a" stroke="#777" stroke-width="0.4"/>
<ellipse cx="96" cy="95.6" rx="4.4" ry="7.8" fill="#b4b4b4" stroke="#6a6a6a" stroke-width="0.7"/>
<ellipse cx="96.3" cy="95.6" rx="2.4" ry="3.3" fill="#000"/>
<path d="M95.3 143.2L95.3 125.0L93.4 120.0L97.2 120.5L96.7 125.0L96.7 143.2Z" fill="#9a9a9a" stroke="#777" stroke-width="0.4"/>
<path d="M95.4 156.8L96.0 178.0L96.6 156.8Z" fill="#9a9a9a" stroke="#777" stroke-width="0.4"/>
<ellipse cx="96" cy="150" rx="4.4" ry="7.8" fill="#b4b4b4" stroke="#6a6a6a" stroke-width="0.7"/>
<ellipse cx="96.3" cy="150" rx="2.4" ry="3.3" fill="#000"/>
<circle cx="32.5" cy="217.6" r="7" fill="#5a5a5a" stroke="#8a8a8a" stroke-width="1.2"/>
<circle cx="32.5" cy="217.6" r="4.4" fill="#3a3a3a"/>
<path d="M30.0 214.6q1 3 0 6M32.5 214.1v7M35.0 214.6q-1 3 0 6" stroke="#9a9a9a" stroke-width="1" fill="none"/>
<circle cx="64" cy="217.6" r="7" fill="#5a5a5a" stroke="#8a8a8a" stroke-width="1.2"/>
<circle cx="64" cy="217.6" r="4.4" fill="#3a3a3a"/>
<path d="M61.5 214.6q1 3 0 6M64 214.1v7M66.5 214.6q-1 3 0 6" stroke="#9a9a9a" stroke-width="1" fill="none"/>
<circle cx="99.5" cy="217.6" r="7" fill="#5a5a5a" stroke="#8a8a8a" stroke-width="1.2"/>
<circle cx="99.5" cy="217.6" r="4.4" fill="#3a3a3a"/>
<path d="M97.0 214.6q1 3 0 6M99.5 214.1v7M102.0 214.6q-1 3 0 6" stroke="#9a9a9a" stroke-width="1" fill="none"/>
<g transform="rotate(-20 86.7 187)"><rect x="79.5" y="180" width="14.5" height="14" rx="5" fill="#6a6a6a" stroke="#9a9a9a" stroke-width="1.3"/><rect x="82.3" y="182.8" width="9" height="8.6" rx="3" fill="#444" stroke="#aaa" stroke-width="0.9"/><circle cx="86.8" cy="187.1" r="1.8" fill="#777"/></g>
<line x1="2.4" y1="225.5" x2="113.3" y2="225.5" stroke="#9a9a9a" stroke-width="1" />
<line x1="41.5" y1="218.0" x2="50.6" y2="218.0" stroke="#aaa" stroke-width="0.8" />
<path d="M55.0 218.0L49.5 220.1L49.5 215.9Z" fill="#000"/>
<line x1="76.0" y1="218.0" x2="85.6" y2="218.0" stroke="#aaa" stroke-width="0.8" />
<path d="M90.0 218.0L84.5 220.1L84.5 215.9Z" fill="#000"/>
<path d="M25 216.5C18 213 19 207 25 207.5" fill="none" stroke="#999" stroke-width="0.8"/>
<path d="M30.5 210.0L25.7 209.4L27.6 206.1Z" fill="#000"/>
<line x1="69.5" y1="208.0" x2="91.7" y2="105.9" stroke="#aaa" stroke-width="0.6" />
<path d="M92.5 102.0L93.2 107.3L89.7 106.5Z" fill="#000"/>
<line x1="88.5" y1="178.0" x2="92.0" y2="161.4" stroke="#aaa" stroke-width="0.6" />
<path d="M92.8 157.5L93.5 162.8L90.0 162.0Z" fill="#000"/>
<path d="M82.0 200.0L79.8 204.4L77.3 201.4Z" fill="#000"/>
<path d="M37 210.5L49.5 163" fill="none" stroke="#cc0000" stroke-width="2.4"/>
<path d="M51.0 156.5L51.6 164.9L46.3 163.5Z" fill="#cc0000"/>
<line x1="52.5" y1="156.0" x2="53.8" y2="150.0" stroke="#aaa" stroke-width="0.6" />
<path d="M54.5 146.5L55.3 151.3L51.8 150.5Z" fill="#000"/>
<line x1="72.9" y1="212.3" x2="77.8" y2="204.5" stroke="#d40000" stroke-width="2" />
<line x1="72.9" y1="202.1" x2="82.8" y2="208.4" stroke="#d40000" stroke-width="2" />
<text x="3.0" y="137.2" font-size="10" textLength="11.8" lengthAdjust="spacingAndGlyphs">CP</text>
<text x="3.0" y="189.5" font-size="10" textLength="17.8" lengthAdjust="spacingAndGlyphs">SVZ</text>
<text x="3.0" y="222.2" font-size="10" textLength="11.8" lengthAdjust="spacingAndGlyphs">VZ</text>
<text x="49.3" y="140.0" font-size="9" textLength="5.9" lengthAdjust="spacingAndGlyphs">N</text>
<text x="74.0" y="199.2" font-size="9.5" textLength="7.6" lengthAdjust="spacingAndGlyphs">IP</text>
<text x="39.4" y="213.2" font-size="9.5" textLength="12.8" lengthAdjust="spacingAndGlyphs">AP</text>
<path d="M31 227.4V231.4H62V227.4" fill="none" stroke="#222" stroke-width="1.1"/>
<path d="M68.6 227.4V231.4H99.5V227.4" fill="none" stroke="#222" stroke-width="1.1"/>
<text x="33.0" y="243.6" font-size="10.5" fill="#25c2d2" font-weight="bold" textLength="29.0" lengthAdjust="spacingAndGlyphs">Direct</text>
<text x="66.0" y="243.6" font-size="10.5" fill="#f7857a" font-weight="bold" textLength="37.5" lengthAdjust="spacingAndGlyphs">Indirect</text>
<text x="34.5" y="255.2" font-size="10.5" textLength="64.0" lengthAdjust="spacingAndGlyphs">Neurogenesis</text>
<path d="M28.6 259.4L28.6 276.7L100 276.7Z" fill="none" stroke="#e02020" stroke-width="0.9" stroke-dasharray="2.2 1.4"/>
<path d="M34.5 276.7L106.4 259L106.4 276.7Z" fill="#a4a4a4" stroke="#111" stroke-width="0.8"/>
<line x1="28.6" y1="276.7" x2="100.0" y2="276.7" stroke="#e02020" stroke-width="0.9" stroke-dasharray="2.2 1.4"/>
<text x="29.8" y="273.5" font-size="10" font-style="italic" textLength="21.0" lengthAdjust="spacingAndGlyphs">Hes1</text>
<text x="86.7" y="273.5" font-size="10" font-style="italic" textLength="16.5" lengthAdjust="spacingAndGlyphs">Dll1</text>
<text x="26.6" y="288.6" font-size="10.5" textLength="80.8" lengthAdjust="spacingAndGlyphs">NOTCH signaling</text>
<text x="122.6" y="15.2" font-size="21" font-weight="bold">b</text>
<text x="205.5" y="22.5" font-size="12" text-anchor="end" font-style="italic" textLength="22.5" lengthAdjust="spacingAndGlyphs">Tbr2</text>
<text x="205.5" y="109.8" font-size="12" text-anchor="end" font-style="italic" textLength="30.5" lengthAdjust="spacingAndGlyphs">Mki67</text>
<text x="205.5" y="197.8" font-size="12" text-anchor="end" font-style="italic" textLength="44.2" lengthAdjust="spacingAndGlyphs">Neurod2</text>
<g transform="translate(138.60 28.00) scale(0.405 0.428) translate(-262.3 -24.9)">
<use href="#umap" fill="#e4e6e6"/>
<g clip-path="url(#uclip)">
<g filter="url(#blur3)">
<ellipse cx="290" cy="135" rx="22" ry="25" fill="#9fd3c8" opacity="0.7"/>
<ellipse cx="402" cy="146" rx="25" ry="19" fill="#b5ddd0" opacity="0.6"/>
<ellipse cx="405" cy="75" rx="20" ry="30" fill="#cfe6dd" opacity="0.5"/>
<ellipse cx="305" cy="148" rx="30" ry="24" fill="#4f9fca" opacity="0.9"/>
<ellipse cx="290" cy="120" rx="14" ry="18" fill="#8ccbc4" opacity="0.6"/>
<ellipse cx="345" cy="165" rx="30" ry="13" fill="#3462ad" opacity="1"/>
<ellipse cx="332" cy="160" rx="14" ry="12" fill="#3a72b6" opacity="1"/>
<ellipse cx="365" cy="155" rx="14" ry="12" fill="#3568b0" opacity="0.9"/>
<ellipse cx="359.6" cy="107" rx="7" ry="7" fill="#2d5fab" opacity="1"/>
<ellipse cx="357" cy="125" rx="5" ry="14" fill="#6aaed0" opacity="0.7"/>
<ellipse cx="307.7" cy="57.6" rx="5" ry="4" fill="#3a8cc0" opacity="1"/>
<ellipse cx="320" cy="92.7" rx="5" ry="5" fill="#4a98c4" opacity="1"/>
</g>
</g>
<use href="#umap" fill="#fff" filter="url(#speck)" opacity="0.6"/>
</g>
<g transform="translate(138.80 115.30) scale(0.405 0.428) translate(-262.3 -24.9)">
<use href="#umap" fill="#e4e6e6"/>
<g clip-path="url(#uclip)">
<g filter="url(#blur3)">
<ellipse cx="398.6" cy="50" rx="28" ry="22" fill="#4a93c6" opacity="1"/>
<ellipse cx="384" cy="42" rx="12" ry="12" fill="#3068b0" opacity="1"/>
<ellipse cx="420" cy="55" rx="12" ry="15" fill="#4aa8c4" opacity="0.9"/>
<ellipse cx="406.5" cy="97" rx="22" ry="28" fill="#8ccfbd" opacity="0.8"/>
<ellipse cx="412" cy="125" rx="18" ry="12" fill="#a9d9c2" opacity="0.7"/>
<ellipse cx="356.6" cy="113" rx="7" ry="13" fill="#2f68b0" opacity="1"/>
<ellipse cx="344.8" cy="136.3" rx="7" ry="7" fill="#5bb0c8" opacity="0.6"/>
</g>
</g>
<use href="#umap" fill="#fff" filter="url(#speck)" opacity="0.6"/>
</g>
<g transform="translate(138.20 203.60) scale(0.405 0.428) translate(-262.3 -24.9)">
<use href="#umap" fill="#e4e6e6"/>
<g clip-path="url(#uclip)">
<g filter="url(#blur3)">
<ellipse cx="292" cy="95" rx="30" ry="72" fill="#4a8fc6" opacity="0.95"/>
<ellipse cx="300" cy="140" rx="22" ry="26" fill="#3a72b7" opacity="0.9"/>
<ellipse cx="290" cy="40" rx="14" ry="14" fill="#3a78b8" opacity="0.8"/>
<ellipse cx="335" cy="165" rx="26" ry="12" fill="#7ec8bd" opacity="0.9"/>
<ellipse cx="360" cy="110" rx="7" ry="9" fill="#45a2c6" opacity="1"/>
<ellipse cx="356" cy="128" rx="5" ry="10" fill="#8fd0c4" opacity="0.7"/>
</g>
</g>
<use href="#umap" fill="#fff" filter="url(#speck)" opacity="0.6"/>
</g>
<line x1="132.4" y1="279.3" x2="132.4" y2="250.0" stroke="#000" stroke-width="1.1" />
<path d="M132.4 246.5L134.2 251.0L130.6 251.0Z" fill="#000"/>
<line x1="132.0" y1="279.3" x2="162.0" y2="279.3" stroke="#000" stroke-width="1.1" />
<path d="M165.5 279.3L161.0 281.1L161.0 277.5Z" fill="#000"/>
<text x="132.4" y="290.3" font-size="9.5" textLength="32.0" lengthAdjust="spacingAndGlyphs">UMAP2</text>
<text x="129.1" y="280.3" font-size="9.3" textLength="30.7" lengthAdjust="spacingAndGlyphs" transform="rotate(-90 129.1 280.3)">UMAP1</text>
<rect x="219.1" y="229.2" width="11.3" height="54.1" fill="url(#ylgnbu)"/>
<text x="225.2" y="227.0" font-size="9.5" text-anchor="middle" textLength="18.4" lengthAdjust="spacingAndGlyphs">High</text>
<text x="224.8" y="291.0" font-size="9.5" text-anchor="middle" textLength="16.1" lengthAdjust="spacingAndGlyphs">Low</text>
<text x="217.3" y="279.0" font-size="9.5" textLength="46.0" lengthAdjust="spacingAndGlyphs" transform="rotate(-90 217.3 279.0)">Expression</text>
<text x="239.4" y="15.6" font-size="21" font-weight="bold">c</text>
<use href="#umap" fill="#e1e1e1" filter="url(#blur05)"/>
<g clip-path="url(#uclip)" filter="url(#blur2)" fill="#fff">
<ellipse cx="393" cy="72" rx="4" ry="15" opacity="0.55" transform="rotate(-12 393 72)"/>
<ellipse cx="405" cy="92" rx="4" ry="9" opacity="0.45" transform="rotate(20 405 92)"/>
<ellipse cx="412" cy="60" rx="3" ry="6" opacity="0.35" transform="rotate(0 412 60)"/>
<ellipse cx="384" cy="50" rx="3" ry="6" opacity="0.35" transform="rotate(30 384 50)"/>
<ellipse cx="302" cy="62" rx="3.5" ry="10" opacity="0.5" transform="rotate(-20 302 62)"/>
<ellipse cx="300" cy="105" rx="4" ry="8" opacity="0.3" transform="rotate(0 300 105)"/>
<ellipse cx="290" cy="40" rx="4" ry="5" opacity="0.25" transform="rotate(0 290 40)"/>
<ellipse cx="400" cy="120" rx="6" ry="4" opacity="0.3" transform="rotate(0 400 120)"/>
</g>
<use href="#umap" fill="#fff" filter="url(#speck)" opacity="0.45"/>
<ellipse cx="359" cy="129" rx="6" ry="12" fill="#fff" opacity="0.9" filter="url(#blur1)"/>
<path d="M341.5 142.0C340.8 140.1 342.1 131.5 343.0 128.0C343.9 124.5 346.6 118.9 348.0 116.0C349.4 113.1 352.2 108.6 353.5 106.5C354.8 104.4 355.8 101.2 357.5 100.0C359.2 98.8 364.4 96.9 366.0 97.3C367.6 97.7 369.2 101.0 369.8 103.0C370.4 105.0 370.2 109.6 370.2 112.0C370.2 114.4 369.5 118.3 369.6 121.0C369.7 123.7 370.4 129.1 370.6 132.0C370.8 134.9 371.7 141.5 371.2 143.0C370.7 144.5 367.4 144.7 366.8 143.0C366.2 141.3 366.5 133.2 366.4 130.0C366.3 126.8 366.6 121.1 366.0 119.0C365.4 116.9 363.3 114.8 362.0 114.5C360.7 114.2 357.8 115.2 356.5 116.5C355.2 117.8 353.4 121.8 352.5 124.0C351.6 126.2 350.1 130.6 349.5 133.0C348.9 135.4 349.1 140.8 348.0 142.0C346.9 143.2 342.2 143.9 341.5 142.0Z" fill="#F8766D"/>
<path d="M338.6 143.0C339.5 141.2 343.2 141.6 345.0 141.5C346.8 141.4 350.0 142.6 352.0 142.5C354.0 142.4 357.9 141.1 360.0 141.0C362.1 140.9 366.0 141.6 368.0 141.5C370.0 141.4 373.3 139.9 375.0 140.0C376.7 140.1 379.7 140.7 380.6 142.0C381.5 143.3 382.0 147.9 381.5 150.0C381.0 152.1 378.5 155.9 377.0 158.0C375.5 160.1 372.3 164.1 370.0 166.0C367.7 167.9 362.7 170.7 360.0 172.0C357.3 173.3 352.7 174.8 350.0 175.5C347.3 176.2 341.7 178.2 340.0 177.5C338.3 176.8 337.9 173.0 337.6 170.0C337.3 167.0 337.9 158.6 338.0 155.0C338.1 151.4 337.7 144.8 338.6 143.0Z" fill="#00BFC4"/>
<path d="M341.5 142.0C340.8 140.1 342.1 131.5 343.0 128.0C343.9 124.5 346.6 118.9 348.0 116.0C349.4 113.1 352.2 108.6 353.5 106.5C354.8 104.4 355.8 101.2 357.5 100.0C359.2 98.8 364.4 96.9 366.0 97.3C367.6 97.7 369.2 101.0 369.8 103.0C370.4 105.0 370.2 109.6 370.2 112.0C370.2 114.4 369.5 118.3 369.6 121.0C369.7 123.7 370.4 129.1 370.6 132.0C370.8 134.9 371.7 141.5 371.2 143.0C370.7 144.5 367.4 144.7 366.8 143.0C366.2 141.3 366.5 133.2 366.4 130.0C366.3 126.8 366.6 121.1 366.0 119.0C365.4 116.9 363.3 114.8 362.0 114.5C360.7 114.2 357.8 115.2 356.5 116.5C355.2 117.8 353.4 121.8 352.5 124.0C351.6 126.2 350.1 130.6 349.5 133.0C348.9 135.4 349.1 140.8 348.0 142.0C346.9 143.2 342.2 143.9 341.5 142.0Z" fill="#fff" filter="url(#speck)" opacity="0.45"/>
<path d="M338.6 143.0C339.5 141.2 343.2 141.6 345.0 141.5C346.8 141.4 350.0 142.6 352.0 142.5C354.0 142.4 357.9 141.1 360.0 141.0C362.1 140.9 366.0 141.6 368.0 141.5C370.0 141.4 373.3 139.9 375.0 140.0C376.7 140.1 379.7 140.7 380.6 142.0C381.5 143.3 382.0 147.9 381.5 150.0C381.0 152.1 378.5 155.9 377.0 158.0C375.5 160.1 372.3 164.1 370.0 166.0C367.7 167.9 362.7 170.7 360.0 172.0C357.3 173.3 352.7 174.8 350.0 175.5C347.3 176.2 341.7 178.2 340.0 177.5C338.3 176.8 337.9 173.0 337.6 170.0C337.3 167.0 337.9 158.6 338.0 155.0C338.1 151.4 337.7 144.8 338.6 143.0Z" fill="#fff" filter="url(#speck)" opacity="0.45"/>
<line x1="251.6" y1="17.5" x2="251.6" y2="184.5" stroke="#000" stroke-width="1.2" />
<line x1="251.0" y1="184.0" x2="440.5" y2="184.0" stroke="#000" stroke-width="1.2" />
<line x1="249.9" y1="51.4" x2="251.6" y2="51.4" stroke="#000" stroke-width="0.8" />
<text x="249.9" y="54.3" font-size="8" text-anchor="end">4</text>
<line x1="249.9" y1="98.9" x2="251.6" y2="98.9" stroke="#000" stroke-width="0.8" />
<text x="249.9" y="101.8" font-size="8" text-anchor="end">0</text>
<line x1="249.9" y1="146.1" x2="251.6" y2="146.1" stroke="#000" stroke-width="0.8" />
<text x="249.9" y="149.0" font-size="8" text-anchor="end">−4</text>
<line x1="259.5" y1="184.0" x2="259.5" y2="186.6" stroke="#000" stroke-width="0.8" />
<text x="259.5" y="193.0" font-size="8" text-anchor="middle">−10</text>
<line x1="304.5" y1="184.0" x2="304.5" y2="186.6" stroke="#000" stroke-width="0.8" />
<text x="304.5" y="193.0" font-size="8" text-anchor="middle">−5</text>
<line x1="349.5" y1="184.0" x2="349.5" y2="186.6" stroke="#000" stroke-width="0.8" />
<text x="349.5" y="193.0" font-size="8" text-anchor="middle">0</text>
<line x1="394.4" y1="184.0" x2="394.4" y2="186.6" stroke="#000" stroke-width="0.8" />
<text x="394.4" y="193.0" font-size="8" text-anchor="middle">5</text>
<line x1="439.4" y1="184.0" x2="439.4" y2="186.6" stroke="#000" stroke-width="0.8" />
<text x="439.4" y="193.0" font-size="8" text-anchor="middle">10</text>
<text x="350.2" y="201.3" font-size="9.5" text-anchor="middle" textLength="33.6" lengthAdjust="spacingAndGlyphs">UMAP 1</text>
<text x="244.3" y="116.7" font-size="9.8" textLength="34.0" lengthAdjust="spacingAndGlyphs" transform="rotate(-90 244.3 116.7)">UMAP 2</text>
<circle cx="402.8" cy="161.2" r="2.6" fill="#F8766D" />
<circle cx="402.8" cy="170.8" r="2.6" fill="#00BFC4" />
<text x="406.6" y="164.7" font-size="9.5" textLength="31.2" lengthAdjust="spacingAndGlyphs">Indirect</text>
<text x="406.6" y="174.3" font-size="9.5" textLength="25.1" lengthAdjust="spacingAndGlyphs">Direct</text>
<text x="239.2" y="226.2" font-size="21" font-weight="bold">d</text>
<rect x="261.5" y="219.8" width="6.2" height="6.2" fill="#F8766D"/>
<text x="268.6" y="226.5" font-size="9" textLength="30.2" lengthAdjust="spacingAndGlyphs">Indirect</text>
<rect x="303.8" y="219.8" width="6.4" height="6.2" fill="#00BFC4"/>
<text x="310.6" y="226.5" font-size="9" textLength="25.1" lengthAdjust="spacingAndGlyphs">Direct</text>
<text x="302.2" y="242.8" font-size="9" text-anchor="middle" textLength="23.5" lengthAdjust="spacingAndGlyphs">E12.5</text>
<text x="395.2" y="242.8" font-size="9" text-anchor="middle" textLength="23.5" lengthAdjust="spacingAndGlyphs">E14.5</text>
<rect x="260.5" y="244.0" width="52.2" height="13.9" fill="#F8766D"/>
<rect x="312.8" y="244.0" width="31.4" height="13.9" fill="#00BFC4"/>
<rect x="260.5" y="259.6" width="43.4" height="13.9" fill="#F8766D"/>
<rect x="303.9" y="259.6" width="40.2" height="13.9" fill="#00BFC4"/>
<rect x="353.6" y="244.0" width="28.2" height="13.9" fill="#F8766D"/>
<rect x="381.8" y="244.0" width="54.7" height="13.9" fill="#00BFC4"/>
<rect x="353.6" y="259.6" width="17.4" height="13.9" fill="#F8766D"/>
<rect x="371.0" y="259.6" width="65.5" height="13.9" fill="#00BFC4"/>
<text x="258.3" y="255.4" font-size="9.5" text-anchor="end" textLength="11.6" lengthAdjust="spacingAndGlyphs">CT</text>
<text x="258.3" y="271.0" font-size="9.5" text-anchor="end" textLength="17.6" lengthAdjust="spacingAndGlyphs">cKO</text>
<line x1="260.5" y1="273.6" x2="260.5" y2="275.4" stroke="#555" stroke-width="0.6" />
<text x="260.5" y="281.0" font-size="5.6" text-anchor="middle" fill="#333">0</text>
<line x1="281.4" y1="273.6" x2="281.4" y2="275.4" stroke="#555" stroke-width="0.6" />
<text x="281.4" y="281.0" font-size="5.6" text-anchor="middle" fill="#333">0.25</text>
<line x1="302.3" y1="273.6" x2="302.3" y2="275.4" stroke="#555" stroke-width="0.6" />
<text x="302.3" y="281.0" font-size="5.6" text-anchor="middle" fill="#333">0.50</text>
<line x1="323.2" y1="273.6" x2="323.2" y2="275.4" stroke="#555" stroke-width="0.6" />
<text x="323.2" y="281.0" font-size="5.6" text-anchor="middle" fill="#333">0.75</text>
<line x1="344.1" y1="273.6" x2="344.1" y2="275.4" stroke="#555" stroke-width="0.6" />
<text x="344.1" y="281.0" font-size="5.6" text-anchor="middle" fill="#333">1</text>
<line x1="353.6" y1="273.6" x2="353.6" y2="275.4" stroke="#555" stroke-width="0.6" />
<text x="353.6" y="281.0" font-size="5.6" text-anchor="middle" fill="#333">0</text>
<line x1="374.5" y1="273.6" x2="374.5" y2="275.4" stroke="#555" stroke-width="0.6" />
<text x="374.5" y="281.0" font-size="5.6" text-anchor="middle" fill="#333">0.25</text>
<line x1="395.4" y1="273.6" x2="395.4" y2="275.4" stroke="#555" stroke-width="0.6" />
<text x="395.4" y="281.0" font-size="5.6" text-anchor="middle" fill="#333">0.50</text>
<line x1="416.3" y1="273.6" x2="416.3" y2="275.4" stroke="#555" stroke-width="0.6" />
<text x="416.3" y="281.0" font-size="5.6" text-anchor="middle" fill="#333">0.75</text>
<line x1="437.2" y1="273.6" x2="437.2" y2="275.4" stroke="#555" stroke-width="0.6" />
<text x="437.2" y="281.0" font-size="5.6" text-anchor="middle" fill="#333">1</text>
<text x="348.5" y="290.8" font-size="9" text-anchor="middle" textLength="57.5" lengthAdjust="spacingAndGlyphs">cell proportion</text>
<path d="M436.8 242.8H440.2V274.6H436.8" fill="none" stroke="#111" stroke-width="0.9"/>
<text x="442.0" y="258.8" font-size="9" text-anchor="middle" transform="rotate(90 442.0 258.8)">***</text>
<text x="449.0" y="15.4" font-size="21" font-weight="bold">e</text>
<rect x="467.0" y="13.3" width="149.6" height="14.8" fill="#fff" stroke="#707070" stroke-width="1.2"/>
<text x="544.6" y="25.8" font-size="13.2" text-anchor="end" fill="#e3242b" textLength="35.3" lengthAdjust="spacingAndGlyphs">TBR2</text>
<text x="544.6" y="25.8" font-size="13.2" textLength="27.0" lengthAdjust="spacingAndGlyphs">Ki67</text>
<rect x="467.0" y="30.2" width="48.7" height="14.7" fill="#fff" stroke="#707070" stroke-width="1.2"/>
<text x="491.3" y="42.7" font-size="13.5" text-anchor="middle" textLength="44.1" lengthAdjust="spacingAndGlyphs">Control</text>
<rect x="517.2" y="30.2" width="48.9" height="14.7" fill="#fff" stroke="#707070" stroke-width="1.2"/>
<text x="541.2" y="42.7" font-size="13.5" text-anchor="middle" textLength="27.0" lengthAdjust="spacingAndGlyphs">cKO</text>
<rect x="449.4" y="47.3" width="15.6" height="98.0" fill="#fff" stroke="#707070" stroke-width="1.2"/>
<text x="462.3" y="96.2" font-size="13.8" text-anchor="middle" textLength="35.6" lengthAdjust="spacingAndGlyphs" transform="rotate(-90 462.3 96.2)">E12.5</text>
<rect x="449.4" y="147.4" width="15.6" height="135.8" fill="#fff" stroke="#707070" stroke-width="1.2"/>
<text x="462.3" y="212.3" font-size="13.8" text-anchor="middle" textLength="35.5" lengthAdjust="spacingAndGlyphs" transform="rotate(-90 462.3 212.3)">E14.5</text>
<rect x="567.4" y="30.2" width="14.6" height="58.3" fill="#fff" stroke="#707070" stroke-width="1.2"/>
<text x="579.6" y="59.3" font-size="13.5" text-anchor="middle" textLength="44.5" lengthAdjust="spacingAndGlyphs" transform="rotate(-90 579.6 59.3)">Control</text>
<rect x="567.4" y="88.6" width="14.6" height="56.4" fill="#fff" stroke="#707070" stroke-width="1.2"/>
<text x="579.6" y="116.8" font-size="13.5" text-anchor="middle" textLength="24.5" lengthAdjust="spacingAndGlyphs" transform="rotate(-90 579.6 116.8)">cKO</text>
<rect x="567.4" y="147.4" width="14.6" height="67.4" fill="#fff" stroke="#707070" stroke-width="1.2"/>
<text x="579.6" y="181.1" font-size="13.5" text-anchor="middle" textLength="44.5" lengthAdjust="spacingAndGlyphs" transform="rotate(-90 579.6 181.1)">Control</text>
<rect x="567.4" y="214.9" width="14.6" height="68.3" fill="#fff" stroke="#707070" stroke-width="1.2"/>
<text x="579.6" y="249.0" font-size="13.5" text-anchor="middle" textLength="24.5" lengthAdjust="spacingAndGlyphs" transform="rotate(-90 579.6 249.0)">cKO</text>
<rect x="466.3" y="46.6" width="100.2" height="237.0" fill="#dcdcdc"/>
<rect x="466.8" y="47.1" width="49.0" height="99.0" fill="#000"/>
<g clip-path="url(#c1)">
<path d="M465.8 71.0L470.9 70.8L476.0 70.5L481.1 70.2L486.2 70.0L491.3 69.8L496.4 69.5L501.5 69.2L506.6 69.0L511.7 68.8L516.8 68.5L516.8 129.1L511.7 129.4L506.6 129.7L501.5 129.9L496.4 130.2L491.3 130.5L486.2 130.8L481.1 131.1L476.0 131.3L470.9 131.6L465.8 131.9Z" fill="#1e1e1e"/>
<g clip-path="url(#c2)">
<rect x="466.8" y="47.1" width="49.0" height="99.0" fill="url(#tg1)" filter="url(#tf1)"/>
<rect x="466.8" y="47.1" width="49.0" height="99.0" fill="url(#tg2)" filter="url(#tf2)"/>
<rect x="466.8" y="47.1" width="49.0" height="99.0" fill="url(#tg3)" filter="url(#tf3)"/>
</g>
<path d="M465.8 71.0C467.3 70.9 472.1 70.7 475.0 70.6C477.9 70.4 480.4 70.3 483.1 70.2C485.9 70.0 488.6 69.9 491.3 69.8C494.0 69.6 496.7 69.5 499.5 69.3C502.2 69.2 504.7 69.1 507.6 68.9C510.5 68.8 515.3 68.6 516.8 68.5" fill="none" stroke="#eee" stroke-width="1"/>
<path d="M465.8 131.9C467.3 131.8 472.1 131.6 475.0 131.4C477.9 131.3 480.4 131.1 483.1 131.0C485.9 130.8 488.6 130.7 491.3 130.5C494.0 130.3 496.7 130.2 499.5 130.0C502.2 129.9 504.7 129.7 507.6 129.6C510.5 129.4 515.3 129.2 516.8 129.1" fill="none" stroke="#eee" stroke-width="1"/>
</g>
<rect x="517.4" y="47.1" width="49.0" height="99.0" fill="#000"/>
<g clip-path="url(#c3)">
<path d="M516.4 70.3L521.5 72.0L526.6 73.6L531.7 74.8L536.8 75.7L541.9 76.1L547.0 76.0L552.1 75.5L557.2 74.5L562.3 73.3L567.4 71.9L567.4 128.3L562.3 128.4L557.2 128.4L552.1 128.5L547.0 128.5L541.9 128.6L536.8 128.6L531.7 128.7L526.6 128.7L521.5 128.8L516.4 128.8Z" fill="#1e1e1e"/>
<g clip-path="url(#c4)">
<rect x="517.4" y="47.1" width="49.0" height="99.0" fill="url(#tg4)" filter="url(#tf4)"/>
<rect x="517.4" y="47.1" width="49.0" height="99.0" fill="url(#tg5)" filter="url(#tf5)"/>
<g mask="url(#tm6)"><rect x="517.4" y="47.1" width="49.0" height="99.0" fill="url(#tg6)" filter="url(#tf6)"/></g>
</g>
<path d="M516.4 70.3C517.9 70.8 522.7 72.3 525.6 73.1C528.5 73.9 531.0 74.7 533.7 75.2C536.5 75.7 539.2 76.0 541.9 76.1C544.6 76.2 547.3 76.0 550.1 75.7C552.8 75.4 555.3 74.8 558.2 74.1C561.1 73.5 565.9 72.3 567.4 71.9" fill="none" stroke="#eee" stroke-width="1"/>
<path d="M516.4 128.8C517.9 128.8 522.7 128.7 525.6 128.7C528.5 128.7 531.0 128.7 533.7 128.6C536.5 128.6 539.2 128.6 541.9 128.6C544.6 128.5 547.3 128.5 550.1 128.5C552.8 128.4 555.3 128.4 558.2 128.4C561.1 128.4 565.9 128.3 567.4 128.3" fill="none" stroke="#eee" stroke-width="1"/>
</g>
<text x="469.4" y="87.8" font-size="10.8" fill="#e8e8e8" textLength="12.0" lengthAdjust="spacingAndGlyphs">CP</text>
<text x="469.1" y="104.6" font-size="10.8" fill="#e8e8e8" textLength="19.8" lengthAdjust="spacingAndGlyphs">SVZ</text>
<text x="468.6" y="124.9" font-size="10.8" fill="#e8e8e8" textLength="13.7" lengthAdjust="spacingAndGlyphs">VZ</text>
<rect x="489.5" y="73.5" width="4.5" height="8.0" fill="none" stroke="#fff" stroke-width="0.9" stroke-dasharray="1.8 1.2"/>
<rect x="538.5" y="83.5" width="7.0" height="9.0" fill="none" stroke="#fff" stroke-width="0.9" stroke-dasharray="1.8 1.2"/>
<rect x="466.8" y="147.4" width="49.0" height="135.8" fill="#000"/>
<g clip-path="url(#c5)">
<rect x="466.8" y="147.4" width="49.0" height="135.8" fill="url(#tg7)" filter="url(#tf7)"/>
<rect x="466.8" y="147.4" width="49.0" height="135.8" fill="url(#tg8)" filter="url(#tf8)"/>
<rect x="466.8" y="147.4" width="49.0" height="135.8" fill="url(#tg9)" filter="url(#tf9)"/>
<rect x="466.8" y="147.4" width="49.0" height="135.8" fill="url(#tg10)" filter="url(#tf10)"/>
<path d="M465.8 153.4Q491.8 153.0 512.8 154.2L516.8 156.5" fill="none" stroke="#f4f4f4" stroke-width="1.4"/>
<path d="M468.8 155.6l10 0.6l6 -0.3l10 1.3l8 -0.2l10 1.5" fill="none" stroke="#b00000" stroke-width="1.0" opacity="0.45" stroke-dasharray="3 2 1 2"/>
<path d="M465.8 281.6Q491.8 280 516.8 279.6" fill="none" stroke="#eee" stroke-width="1.2"/>
</g>
<rect x="517.4" y="147.4" width="49.0" height="135.8" fill="#000"/>
<g clip-path="url(#c6)">
<rect x="517.4" y="147.4" width="49.0" height="135.8" fill="url(#tg11)" filter="url(#tf11)"/>
<rect x="517.4" y="147.4" width="49.0" height="135.8" fill="url(#tg12)" filter="url(#tf12)"/>
<rect x="517.4" y="147.4" width="49.0" height="135.8" fill="url(#tg13)" filter="url(#tf13)"/>
<rect x="517.4" y="147.4" width="49.0" height="135.8" fill="url(#tg14)" filter="url(#tf14)"/>
<path d="M516.4 156.6Q542.4 158.5 567.4 160.5" fill="none" stroke="#f4f4f4" stroke-width="1.4"/>
<path d="M539.5 159.5L545 159.8L542.5 165.5Z" fill="#fff"/>
<path d="M552 159.8L557.5 165L555 160.2Z" fill="#fff"/>
<line x1="520.5" y1="163.6" x2="524.5" y2="163.6" stroke="#fff" stroke-width="1.2" />
<path d="M516.4 280.2Q542.4 279 567.4 279.3" fill="none" stroke="#eee" stroke-width="1.2"/>
<line x1="542.4" y1="277.5" x2="562.4" y2="277.5" stroke="#fff" stroke-width="1.8" />
</g>
<text x="469.9" y="170.5" font-size="9.7" fill="#e4e4e4" textLength="13.4" lengthAdjust="spacingAndGlyphs">CP</text>
<text x="468.9" y="249.0" font-size="10.5" fill="#e4e4e4" textLength="19.7" lengthAdjust="spacingAndGlyphs">SVZ</text>
<text x="469.0" y="272.6" font-size="10.5" fill="#e4e4e4" textLength="13.0" lengthAdjust="spacingAndGlyphs">VZ</text>
<rect x="505.0" y="232.0" width="6.0" height="9.0" fill="none" stroke="#fff" stroke-width="0.9" stroke-dasharray="1.8 1.2"/>
<rect x="554.0" y="238.0" width="6.0" height="9.0" fill="none" stroke="#fff" stroke-width="0.9" stroke-dasharray="1.8 1.2"/>
<rect x="583.2" y="30.2" width="33.5" height="27.6" fill="#000"/>
<g clip-path="url(#c7)"><g filter="url(#blur05)">
<path d="M602.7 44.7C603.0 45.8 601.9 47.2 601.2 48.1C600.5 49.0 599.4 50.2 598.4 50.2C597.4 50.2 596.0 48.9 595.3 48.0C594.5 47.1 593.8 45.8 594.0 45.0C594.2 44.1 595.5 43.4 596.5 42.9C597.4 42.4 598.7 41.6 599.8 41.9C600.8 42.2 602.5 43.7 602.7 44.7Z" fill="#ff0000"/>
<path d="M591.5 47.0C590.6 47.6 589.2 48.1 588.1 47.9C587.1 47.8 585.7 47.0 585.2 46.1C584.7 45.2 584.8 43.7 585.2 42.7C585.6 41.8 586.7 40.7 587.6 40.5C588.6 40.3 589.9 40.9 590.9 41.5C591.8 42.2 593.1 43.3 593.2 44.2C593.3 45.1 592.3 46.3 591.5 47.0Z" fill="#ff1a1a"/>
<path d="M613.2 31.9C613.3 32.8 613.5 34.6 612.9 35.1C612.3 35.6 610.5 35.3 609.6 35.0C608.7 34.7 608.0 34.0 607.7 33.3C607.4 32.6 607.5 31.6 607.8 30.8C608.1 30.0 608.7 28.6 609.4 28.4C610.2 28.3 611.5 29.3 612.1 29.9C612.8 30.5 613.1 31.1 613.2 31.9Z" fill="#f40000"/>
<path d="M589.1 53.5C589.0 54.4 588.1 55.4 587.2 56.0C586.4 56.5 584.9 57.0 584.1 56.8C583.2 56.5 582.2 55.3 581.9 54.4C581.7 53.6 581.8 52.4 582.3 51.5C582.8 50.6 584.0 49.2 584.9 49.1C585.8 48.9 587.1 50.0 587.8 50.7C588.5 51.5 589.2 52.7 589.1 53.5Z" fill="#f40000"/>
<path d="M604.2 44.6C604.9 44.4 606.1 44.9 606.8 45.3C607.4 45.7 608.0 46.2 608.2 46.9C608.4 47.6 608.2 48.9 607.7 49.5C607.2 50.1 606.1 50.4 605.3 50.4C604.4 50.4 602.9 50.2 602.4 49.6C601.8 48.9 601.9 47.3 602.2 46.4C602.5 45.6 603.4 44.8 604.2 44.6Z" fill="#ff0000"/>
<path d="M591.1 38.6C590.6 39.2 589.3 39.3 588.6 39.2C587.8 39.1 587.0 38.6 586.5 38.0C586.1 37.3 585.5 36.1 585.7 35.4C586.0 34.6 587.2 33.9 588.0 33.7C588.7 33.6 589.7 33.9 590.4 34.3C591.1 34.7 592.0 35.3 592.1 36.0C592.3 36.7 591.7 38.1 591.1 38.6Z" fill="#ff0000"/>
<path d="M614.7 62.5C613.8 61.8 613.3 59.7 613.4 58.5C613.5 57.4 614.3 56.2 615.1 55.7C616.0 55.3 617.3 55.7 618.5 55.9C619.6 56.1 621.3 56.0 621.8 56.8C622.4 57.5 622.3 59.5 621.8 60.5C621.2 61.5 619.6 62.4 618.4 62.7C617.2 63.0 615.5 63.2 614.7 62.5Z" fill="#ff1a1a"/>
<path d="M605.7 41.7C604.8 41.3 604.2 40.3 604.0 39.4C603.8 38.5 603.7 36.9 604.3 36.1C604.8 35.3 606.3 34.7 607.3 34.7C608.3 34.8 609.7 35.5 610.3 36.2C610.9 37.0 611.1 38.4 610.8 39.3C610.6 40.3 609.9 41.4 609.0 41.8C608.2 42.2 606.5 42.1 605.7 41.7Z" fill="#ff0000"/>
<path d="M598.8 51.5C599.5 52.1 599.8 53.5 599.8 54.4C599.8 55.3 599.3 56.2 598.6 56.8C597.9 57.5 596.4 58.3 595.5 58.2C594.5 58.0 593.1 56.8 592.7 55.9C592.4 55.0 592.9 53.5 593.4 52.6C593.9 51.8 594.8 51.0 595.7 50.8C596.6 50.6 598.1 50.9 598.8 51.5Z" fill="#ff0000"/>
</g></g>
<rect x="583.2" y="30.2" width="33.5" height="27.6" fill="none" stroke="#bbb" stroke-width="0.6"/>
<rect x="583.2" y="58.8" width="33.5" height="28.6" fill="#030303"/>
<g clip-path="url(#c8)">
<rect x="583.2" y="58.8" width="33.5" height="28.6" fill="url(#tg15)" filter="url(#tf15)"/>
<rect x="583.2" y="58.8" width="33.5" height="28.6" fill="url(#tg16)" filter="url(#tf16)"/>
<path d="M598.2 76.0C597.6 75.5 596.9 74.6 596.8 73.8C596.7 72.9 597.2 71.5 597.8 70.9C598.4 70.3 599.7 70.0 600.6 70.1C601.4 70.1 602.2 70.6 602.7 71.2C603.2 71.7 603.4 72.5 603.5 73.3C603.6 74.1 603.7 75.4 603.2 76.0C602.7 76.5 601.4 76.5 600.5 76.5C599.7 76.5 598.8 76.4 598.2 76.0Z" fill="rgb(169,169,169)" fill-opacity="0.85" stroke="#f4f4f4" stroke-width="0.7" />
<path d="M583.1 63.0C582.6 62.2 582.4 60.8 582.7 59.8C583.0 58.8 583.8 57.5 584.7 57.0C585.5 56.4 587.0 56.2 588.0 56.4C588.9 56.6 589.8 57.3 590.4 58.1C590.9 58.9 591.7 60.1 591.5 61.0C591.2 61.9 590.0 62.8 589.0 63.5C588.1 64.1 586.8 64.9 585.8 64.8C584.8 64.7 583.6 63.8 583.1 63.0Z" fill="rgb(175,175,175)" fill-opacity="0.85" stroke="#f4f4f4" stroke-width="0.7" />
<path d="M584.3 81.7C584.0 81.0 583.8 80.0 584.2 79.2C584.6 78.5 585.7 77.5 586.6 77.2C587.5 77.0 588.9 77.1 589.6 77.5C590.4 77.8 590.9 78.7 591.2 79.4C591.4 80.1 591.3 81.0 591.0 81.8C590.6 82.5 589.8 83.7 588.9 84.0C588.1 84.3 586.7 83.9 585.9 83.5C585.2 83.1 584.6 82.4 584.3 81.7Z" fill="rgb(169,169,169)" fill-opacity="0.85" stroke="#f4f4f4" stroke-width="0.7" />
<path d="M597.9 86.4C597.3 86.0 596.7 85.4 596.4 84.6C596.1 83.8 595.9 82.5 596.3 81.8C596.7 81.1 597.8 80.4 598.7 80.2C599.6 79.9 600.9 79.7 601.6 80.1C602.3 80.5 602.7 81.7 602.9 82.6C603.1 83.5 603.3 84.9 602.9 85.6C602.4 86.3 601.1 86.6 600.2 86.8C599.4 86.9 598.6 86.8 597.9 86.4Z" fill="rgb(179,179,179)" fill-opacity="0.85" stroke="#f4f4f4" stroke-width="0.7" />
<path d="M604.0 69.0C603.9 67.9 603.7 66.2 604.4 65.4C605.0 64.6 606.8 64.0 607.9 64.1C608.9 64.2 610.0 65.2 610.7 66.0C611.5 66.8 612.2 67.8 612.3 68.8C612.4 69.9 612.0 71.3 611.2 72.2C610.5 73.0 609.1 74.0 608.0 74.0C607.0 74.0 605.6 72.9 605.0 72.1C604.3 71.2 604.1 70.1 604.0 69.0Z" fill="rgb(159,159,159)" fill-opacity="0.85" stroke="#f4f4f4" stroke-width="0.7" />
<path d="M597.3 69.5C596.6 68.9 596.3 67.6 596.3 66.7C596.2 65.7 596.3 64.5 596.9 63.8C597.4 63.2 598.6 63.0 599.5 62.8C600.4 62.7 601.6 62.6 602.3 63.1C603.1 63.6 603.8 64.8 603.9 65.7C604.0 66.6 603.5 67.9 602.9 68.6C602.3 69.3 601.3 70.0 600.4 70.1C599.4 70.3 598.0 70.1 597.3 69.5Z" fill="rgb(134,134,134)" fill-opacity="0.85" stroke="#f4f4f4" stroke-width="0.7" />
<path d="M587.7 74.0C586.6 73.9 585.4 72.7 584.7 71.7C584.0 70.8 583.4 69.4 583.5 68.4C583.7 67.4 584.9 66.4 585.9 65.7C586.8 65.1 588.1 64.2 589.2 64.3C590.3 64.4 591.9 65.4 592.5 66.3C593.1 67.2 593.1 68.8 592.8 69.8C592.5 70.8 591.7 71.6 590.8 72.3C590.0 73.0 588.7 74.1 587.7 74.0Z" fill="rgb(150,150,150)" fill-opacity="0.85" stroke="#f4f4f4" stroke-width="0.7" />
<path d="M610.7 84.1C610.1 83.5 609.3 82.5 609.4 81.8C609.6 81.0 610.6 80.2 611.4 79.5C612.1 78.9 613.1 78.1 613.9 78.1C614.7 78.1 615.7 78.9 616.1 79.6C616.5 80.2 616.5 81.2 616.4 82.0C616.3 82.8 616.1 83.9 615.5 84.5C614.9 85.1 613.7 85.6 612.9 85.6C612.1 85.5 611.3 84.8 610.7 84.1Z" fill="rgb(184,184,184)" fill-opacity="0.85" stroke="#f4f4f4" stroke-width="0.7" />
</g>
<rect x="583.2" y="58.8" width="33.5" height="28.6" fill="none" stroke="#bbb" stroke-width="0.6"/>
<line x1="604.0" y1="50.5" x2="614.0" y2="50.5" stroke="#fff" stroke-width="1.8" />
<rect x="583.2" y="88.6" width="33.5" height="27.6" fill="#000"/>
<g clip-path="url(#c9)"><g filter="url(#blur05)">
<path d="M602.5 117.9C602.1 118.9 601.5 120.3 600.6 120.8C599.7 121.2 598.2 121.0 597.3 120.5C596.3 120.1 595.2 119.2 594.8 118.1C594.5 117.1 594.5 115.2 595.2 114.2C595.9 113.3 597.7 112.5 598.9 112.6C600.1 112.6 602.0 113.8 602.6 114.7C603.2 115.5 602.8 116.9 602.5 117.9Z" fill="#e60000"/>
<path d="M602.3 104.3C603.2 104.6 604.5 106.0 604.7 106.8C604.8 107.7 603.8 108.8 603.1 109.6C602.5 110.3 601.4 111.4 600.5 111.4C599.7 111.4 598.7 110.5 598.0 109.8C597.4 109.0 596.7 107.6 596.9 106.8C597.1 105.9 598.3 105.1 599.2 104.7C600.2 104.3 601.4 103.9 602.3 104.3Z" fill="#f40000"/>
<path d="M614.4 109.6C613.4 109.8 612.1 108.0 611.2 107.1C610.4 106.3 609.1 105.5 609.2 104.6C609.2 103.8 610.5 102.5 611.4 101.9C612.3 101.3 613.5 100.6 614.4 100.8C615.2 101.1 616.1 102.5 616.6 103.4C617.0 104.3 617.6 105.3 617.2 106.4C616.8 107.4 615.4 109.5 614.4 109.6Z" fill="#f40000"/>
<path d="M600.9 95.2C601.3 94.4 602.2 93.6 603.1 93.4C603.9 93.2 605.2 93.5 606.0 94.0C606.8 94.5 607.8 95.7 607.8 96.6C607.8 97.5 607.0 98.9 606.2 99.4C605.4 99.9 604.2 99.6 603.2 99.5C602.3 99.3 601.1 99.0 600.7 98.3C600.3 97.6 600.5 96.0 600.9 95.2Z" fill="#e60000"/>
<path d="M598.5 93.0C597.8 93.7 596.8 94.9 595.9 94.8C595.1 94.7 593.7 93.2 593.4 92.3C593.2 91.5 593.9 90.4 594.4 89.6C594.8 88.9 595.4 87.9 596.2 87.7C596.9 87.6 598.1 88.2 598.7 88.7C599.4 89.3 600.1 90.3 600.0 91.1C600.0 91.8 599.2 92.4 598.5 93.0Z" fill="#ff1a1a"/>
<path d="M590.2 90.7C590.0 91.6 589.0 92.3 588.2 92.8C587.4 93.3 586.2 93.9 585.4 93.7C584.7 93.5 584.0 92.1 583.7 91.3C583.4 90.5 583.2 89.7 583.6 88.9C584.0 88.0 585.1 86.6 586.0 86.3C586.9 86.1 588.3 86.8 589.0 87.5C589.7 88.3 590.3 89.8 590.2 90.7Z" fill="#e60000"/>
<path d="M612.4 113.4C612.8 112.6 613.7 111.4 614.6 111.2C615.4 111.1 616.7 111.8 617.6 112.4C618.4 113.0 619.4 113.9 619.5 114.8C619.6 115.7 619.0 117.2 618.2 117.8C617.4 118.4 615.7 118.5 614.7 118.3C613.7 118.0 612.6 117.2 612.2 116.4C611.8 115.6 612.0 114.3 612.4 113.4Z" fill="#f40000"/>
<path d="M583.1 101.7C582.7 101.0 582.8 99.8 583.1 99.1C583.5 98.5 584.3 98.0 585.1 97.7C585.9 97.3 587.1 96.7 587.8 97.1C588.4 97.4 588.8 98.7 589.0 99.6C589.1 100.4 589.1 101.6 588.6 102.2C588.0 102.9 586.7 103.5 585.8 103.4C584.9 103.3 583.6 102.4 583.1 101.7Z" fill="#ff0000"/>
<path d="M587.6 111.6C586.8 110.9 586.7 108.6 587.0 107.4C587.2 106.2 588.1 105.1 589.2 104.6C590.2 104.0 592.3 103.7 593.3 104.2C594.3 104.7 595.0 106.5 595.2 107.5C595.4 108.5 594.9 109.6 594.3 110.3C593.7 111.1 592.6 111.7 591.5 111.9C590.4 112.2 588.3 112.4 587.6 111.6Z" fill="#ff1a1a"/>
</g></g>
<rect x="583.2" y="88.6" width="33.5" height="27.6" fill="none" stroke="#bbb" stroke-width="0.6"/>
<rect x="583.2" y="117.2" width="33.5" height="28.4" fill="#030303"/>
<g clip-path="url(#c10)">
<rect x="583.2" y="117.2" width="33.5" height="28.4" fill="url(#tg17)" filter="url(#tf17)"/>
<rect x="583.2" y="117.2" width="33.5" height="28.4" fill="url(#tg18)" filter="url(#tf18)"/>
<path d="M594.0 130.5C593.3 130.8 592.3 131.1 591.6 130.7C590.9 130.3 590.1 129.2 589.8 128.3C589.5 127.3 589.4 126.0 589.7 125.3C590.1 124.5 590.9 123.9 591.7 123.6C592.4 123.4 593.4 123.4 594.1 123.9C594.8 124.3 595.4 125.4 595.7 126.2C595.9 127.1 596.1 128.3 595.8 129.0C595.5 129.7 594.7 130.2 594.0 130.5Z" fill="rgb(59,59,59)" fill-opacity="0.85" stroke="#f4f4f4" stroke-width="0.7" stroke-dasharray="1.5 1.1"/>
<path d="M605.7 137.3C605.4 138.3 604.6 139.7 603.6 140.2C602.7 140.8 601.0 140.8 599.9 140.5C598.8 140.1 597.6 139.0 597.2 138.0C596.8 136.9 597.0 135.5 597.3 134.4C597.7 133.3 598.5 132.0 599.4 131.6C600.3 131.1 602.0 131.3 602.9 131.7C603.9 132.2 604.7 133.2 605.1 134.1C605.6 135.0 605.9 136.3 605.7 137.3Z" fill="rgb(36,36,36)" fill-opacity="0.85" stroke="#f4f4f4" stroke-width="0.7" stroke-dasharray="1.5 1.1"/>
<path d="M593.1 144.7C592.7 144.1 592.5 142.9 592.8 142.1C593.0 141.3 593.9 140.2 594.7 139.8C595.5 139.4 596.8 139.5 597.6 139.8C598.4 140.0 599.2 140.7 599.5 141.3C599.8 142.0 599.6 142.9 599.4 143.7C599.1 144.5 598.7 145.8 598.1 146.1C597.4 146.5 596.1 146.1 595.3 145.9C594.5 145.6 593.5 145.4 593.1 144.7Z" fill="rgb(33,33,33)" fill-opacity="0.85" stroke="#f4f4f4" stroke-width="0.7" stroke-dasharray="1.5 1.1"/>
<path d="M611.3 143.3C610.8 142.5 610.9 141.3 611.0 140.3C611.2 139.4 611.7 138.0 612.4 137.6C613.1 137.1 614.5 137.4 615.4 137.6C616.3 137.7 617.2 138.0 617.7 138.6C618.3 139.2 619.1 140.5 618.9 141.3C618.8 142.2 617.8 143.3 617.0 143.8C616.2 144.4 615.0 144.8 614.0 144.7C613.1 144.6 611.8 144.0 611.3 143.3Z" fill="rgb(49,49,49)" fill-opacity="0.85" stroke="#f4f4f4" stroke-width="0.7" stroke-dasharray="1.5 1.1"/>
<path d="M580.7 138.8C580.7 138.0 581.6 137.1 582.3 136.5C583.0 135.8 584.0 135.0 584.9 135.0C585.7 134.9 586.8 135.5 587.6 136.1C588.4 136.7 589.4 137.6 589.4 138.4C589.5 139.1 588.5 140.2 587.8 140.8C587.1 141.4 586.1 141.9 585.2 142.0C584.3 142.1 583.1 141.8 582.3 141.3C581.6 140.7 580.7 139.6 580.7 138.8Z" fill="rgb(66,66,66)" fill-opacity="0.85" stroke="#f4f4f4" stroke-width="0.7" stroke-dasharray="1.5 1.1"/>
<path d="M605.3 124.5C605.1 123.5 605.3 121.9 605.9 121.1C606.5 120.4 608.0 120.1 609.0 120.1C610.0 120.1 611.1 120.4 611.8 121.0C612.6 121.6 613.2 122.7 613.3 123.8C613.5 124.8 613.5 126.3 612.9 127.2C612.3 128.0 610.7 128.8 609.7 128.8C608.7 128.8 607.6 127.9 606.9 127.1C606.1 126.4 605.4 125.5 605.3 124.5Z" fill="rgb(44,44,44)" fill-opacity="0.85" stroke="#f4f4f4" stroke-width="0.7" stroke-dasharray="1.5 1.1"/>
<path d="M603.8 122.1C603.1 122.1 602.3 121.5 601.8 120.9C601.3 120.2 600.9 119.2 600.9 118.3C601.0 117.4 601.5 116.2 602.0 115.7C602.5 115.2 603.5 115.0 604.2 115.1C604.8 115.1 605.7 115.6 606.1 116.1C606.5 116.7 606.6 117.8 606.6 118.6C606.5 119.4 606.4 120.5 605.9 121.1C605.5 121.7 604.5 122.2 603.8 122.1Z" fill="rgb(37,37,37)" fill-opacity="0.85" stroke="#f4f4f4" stroke-width="0.7" stroke-dasharray="1.5 1.1"/>
<path d="M588.6 120.6C588.3 121.4 587.1 122.0 586.3 122.2C585.6 122.4 584.7 122.2 583.9 122.0C583.2 121.7 582.2 121.2 581.9 120.5C581.5 119.9 581.5 118.7 581.8 117.9C582.1 117.1 582.9 116.4 583.7 116.0C584.4 115.6 585.7 115.3 586.5 115.6C587.3 115.9 588.0 117.0 588.4 117.8C588.7 118.7 588.9 119.9 588.6 120.6Z" fill="rgb(62,62,62)" fill-opacity="0.85" stroke="#f4f4f4" stroke-width="0.7" stroke-dasharray="1.5 1.1"/>
</g>
<rect x="583.2" y="117.2" width="33.5" height="28.4" fill="none" stroke="#bbb" stroke-width="0.6"/>
<rect x="583.2" y="147.4" width="33.5" height="33.0" fill="#000"/>
<g clip-path="url(#c11)"><g filter="url(#blur05)">
<path d="M584.2 160.2C585.6 160.2 587.1 161.4 588.1 162.5C589.0 163.6 590.2 165.3 590.0 166.6C589.8 167.9 588.3 169.5 587.0 170.1C585.8 170.7 583.9 170.6 582.6 170.1C581.3 169.6 579.4 168.3 579.0 167.0C578.6 165.7 579.3 163.6 580.2 162.5C581.1 161.3 582.9 160.2 584.2 160.2Z" fill="#ff0000"/>
<path d="M586.2 153.2C584.8 153.5 582.5 153.7 581.6 153.1C580.8 152.4 580.8 150.6 580.8 149.3C580.8 147.9 580.9 145.6 581.8 145.0C582.7 144.3 584.8 145.1 586.2 145.4C587.5 145.7 589.2 145.9 589.8 146.9C590.4 147.9 590.4 150.5 589.8 151.5C589.2 152.6 587.6 153.0 586.2 153.2Z" fill="#ff0000"/>
<path d="M612.7 153.7C611.5 153.4 609.9 152.4 609.4 151.3C609.0 150.2 609.3 148.1 610.0 147.1C610.6 146.1 612.2 145.1 613.4 145.0C614.6 144.9 616.3 145.9 617.1 146.7C617.8 147.4 618.1 148.6 618.0 149.7C617.9 150.8 617.3 152.4 616.4 153.1C615.5 153.7 613.8 154.0 612.7 153.7Z" fill="#ff0000"/>
<path d="M603.7 171.2C604.4 172.0 605.6 173.3 605.4 174.2C605.1 175.2 603.5 176.6 602.4 177.1C601.2 177.6 599.5 177.8 598.5 177.2C597.5 176.7 596.9 175.2 596.6 174.0C596.3 172.8 596.1 170.6 596.8 169.9C597.5 169.1 599.7 169.2 600.8 169.5C602.0 169.7 602.9 170.4 603.7 171.2Z" fill="#f40000"/>
<path d="M594.5 184.8C593.2 184.8 591.6 184.8 590.6 183.9C589.7 183.0 588.4 180.6 588.7 179.4C588.9 178.2 590.7 177.3 592.0 176.6C593.2 176.0 594.9 174.9 596.0 175.3C597.1 175.7 598.2 177.5 598.7 178.8C599.2 180.1 599.5 182.3 598.8 183.3C598.1 184.3 595.9 184.7 594.5 184.8Z" fill="#ff1a1a"/>
<path d="M610.0 174.9C611.0 175.5 612.4 177.5 612.4 178.5C612.3 179.5 610.6 180.2 609.6 180.9C608.6 181.6 607.3 182.9 606.3 182.8C605.2 182.7 603.7 181.2 603.2 180.2C602.7 179.2 602.8 177.6 603.3 176.7C603.9 175.7 605.4 174.8 606.5 174.5C607.6 174.2 609.0 174.2 610.0 174.9Z" fill="#f40000"/>
<path d="M608.1 166.2C609.1 165.3 610.7 165.1 612.0 165.2C613.4 165.4 615.8 166.0 616.4 167.0C617.1 167.9 616.8 170.0 616.2 171.2C615.7 172.4 614.3 173.4 613.0 174.0C611.7 174.6 609.6 175.4 608.4 174.8C607.2 174.2 606.0 171.8 605.9 170.3C605.8 168.9 607.1 167.0 608.1 166.2Z" fill="#ff0000"/>
<path d="M601.2 153.1C600.9 154.3 599.9 156.5 598.7 157.0C597.5 157.6 595.1 157.1 594.0 156.2C592.9 155.3 592.4 153.3 592.3 151.8C592.2 150.3 592.4 148.2 593.4 147.2C594.3 146.2 596.7 145.5 597.9 145.9C599.2 146.3 600.2 148.5 600.8 149.7C601.3 150.9 601.5 151.9 601.2 153.1Z" fill="#f40000"/>
<path d="M621.3 157.8C621.8 158.7 621.5 160.1 621.0 161.2C620.5 162.2 619.4 164.0 618.4 164.1C617.5 164.3 616.1 162.7 615.2 161.9C614.3 161.2 612.9 160.5 612.9 159.6C612.9 158.7 614.1 157.3 615.0 156.7C615.9 156.1 617.1 155.8 618.2 156.0C619.2 156.2 620.8 157.0 621.3 157.8Z" fill="#ff1a1a"/>
<path d="M592.2 160.3C593.5 159.9 595.6 160.5 597.0 161.2C598.3 162.0 600.1 163.2 600.4 164.7C600.7 166.2 599.8 169.1 598.7 170.0C597.6 170.9 595.3 170.4 594.0 170.0C592.6 169.7 591.4 169.0 590.6 168.0C589.8 167.0 588.9 165.4 589.2 164.1C589.4 162.9 590.9 160.8 592.2 160.3Z" fill="#ff1a1a"/>
<path d="M584.4 179.4C583.3 180.1 581.1 180.9 579.8 180.4C578.5 179.9 577.0 177.9 576.6 176.5C576.3 175.0 576.7 172.6 577.6 171.5C578.5 170.4 580.8 169.9 582.2 169.9C583.6 169.9 585.5 170.7 586.2 171.7C587.0 172.7 587.0 174.9 586.7 176.1C586.4 177.4 585.6 178.7 584.4 179.4Z" fill="#ff0000"/>
<path d="M599.3 159.8C600.0 159.1 601.6 158.4 602.5 158.5C603.5 158.6 604.6 159.5 605.1 160.3C605.5 161.1 605.5 162.4 605.2 163.3C605.0 164.2 604.4 165.3 603.6 165.8C602.7 166.2 600.9 166.5 600.0 166.0C599.2 165.5 598.6 164.0 598.5 162.9C598.3 161.9 598.7 160.6 599.3 159.8Z" fill="#ff1a1a"/>
<path d="M605.2 156.1C605.4 155.0 605.9 153.5 607.0 152.9C608.0 152.3 610.2 152.0 611.4 152.6C612.6 153.1 614.1 154.9 614.2 156.1C614.3 157.2 612.9 158.6 612.0 159.5C611.0 160.5 609.8 161.7 608.7 161.7C607.6 161.7 606.1 160.4 605.5 159.5C604.9 158.5 604.9 157.2 605.2 156.1Z" fill="#ff1a1a"/>
<path d="M606.4 144.8C607.6 145.1 609.3 145.8 609.8 146.7C610.3 147.7 610.1 149.6 609.4 150.5C608.8 151.4 607.1 152.1 605.9 152.3C604.8 152.5 603.3 152.3 602.6 151.6C601.8 151.0 601.6 149.4 601.6 148.2C601.6 147.1 601.6 145.3 602.4 144.7C603.2 144.1 605.2 144.4 606.4 144.8Z" fill="#ff0000"/>
<path d="M611.5 181.7C611.2 180.8 611.3 178.9 612.0 178.2C612.6 177.4 614.4 177.2 615.4 177.4C616.4 177.5 617.4 178.3 618.0 179.0C618.5 179.8 618.9 181.0 618.7 181.8C618.5 182.7 617.6 183.8 616.8 184.1C616.0 184.4 614.7 184.0 613.8 183.6C612.9 183.3 611.8 182.6 611.5 181.7Z" fill="#ff0000"/>
<path d="M592.2 159.6C591.8 160.4 590.6 161.4 589.7 161.6C588.7 161.8 587.3 161.3 586.6 160.7C586.0 160.1 585.5 158.8 585.6 158.0C585.6 157.2 586.3 156.5 587.0 155.8C587.8 155.0 589.3 153.4 590.2 153.6C591.1 153.8 591.9 155.9 592.3 156.9C592.6 157.9 592.7 158.9 592.2 159.6Z" fill="#ff0000"/>
</g></g>
<rect x="583.2" y="147.4" width="33.5" height="33.0" fill="none" stroke="#bbb" stroke-width="0.6"/>
<rect x="583.2" y="181.2" width="33.5" height="33.0" fill="#030303"/>
<g clip-path="url(#c12)">
<rect x="583.2" y="181.2" width="33.5" height="33.0" fill="url(#tg19)" filter="url(#tf19)"/>
<rect x="583.2" y="181.2" width="33.5" height="33.0" fill="url(#tg20)" filter="url(#tf20)"/>
<path d="M592.4 202.5C591.9 201.8 591.7 200.5 591.9 199.6C592.1 198.7 592.9 197.6 593.7 197.1C594.5 196.6 595.7 196.4 596.6 196.5C597.5 196.7 598.5 197.2 599.0 197.9C599.5 198.6 599.8 199.8 599.6 200.7C599.4 201.5 598.6 202.4 597.8 203.0C597.0 203.5 595.9 204.0 595.0 203.9C594.1 203.8 592.9 203.3 592.4 202.5Z" fill="rgb(85,85,85)" fill-opacity="0.85" stroke="#f4f4f4" stroke-width="0.7" />
<path d="M597.5 207.0C597.3 206.3 597.5 205.4 597.9 204.6C598.3 203.9 599.1 202.9 599.8 202.6C600.6 202.4 601.7 202.8 602.5 203.1C603.3 203.4 604.3 203.9 604.5 204.5C604.8 205.1 604.4 206.1 604.0 206.9C603.6 207.6 602.9 208.6 602.1 209.0C601.3 209.3 599.9 209.3 599.2 209.0C598.4 208.6 597.7 207.8 597.5 207.0Z" fill="rgb(93,93,93)" fill-opacity="0.85" stroke="#f4f4f4" stroke-width="0.7" />
<path d="M608.6 196.1C607.7 196.0 606.7 195.1 606.2 194.4C605.7 193.7 605.6 192.7 605.6 191.8C605.6 190.8 605.6 189.3 606.2 188.8C606.8 188.2 608.2 188.4 609.2 188.5C610.2 188.5 611.7 188.6 612.2 189.2C612.8 189.9 612.8 191.4 612.7 192.4C612.5 193.3 612.0 194.4 611.3 195.0C610.6 195.6 609.4 196.2 608.6 196.1Z" fill="rgb(84,84,84)" fill-opacity="0.85" stroke="#f4f4f4" stroke-width="0.7" />
<path d="M591.7 197.2C591.1 197.9 590.1 198.5 589.2 198.6C588.2 198.7 587.0 198.3 586.2 197.7C585.4 197.1 584.4 196.0 584.2 195.0C584.1 194.0 584.5 192.5 585.1 191.7C585.8 191.0 587.2 190.4 588.2 190.4C589.2 190.4 590.4 191.2 591.1 191.8C591.9 192.5 592.7 193.6 592.8 194.5C592.9 195.4 592.3 196.5 591.7 197.2Z" fill="rgb(84,84,84)" fill-opacity="0.85" stroke="#f4f4f4" stroke-width="0.7" />
<path d="M605.3 203.9C604.8 203.5 604.5 202.6 604.4 201.9C604.2 201.2 604.3 200.5 604.6 199.7C604.9 199.0 605.4 197.8 606.0 197.5C606.7 197.1 608.0 197.2 608.5 197.6C609.1 198.0 609.3 199.1 609.4 199.8C609.5 200.6 609.7 201.4 609.4 202.2C609.1 202.9 608.4 204.0 607.7 204.3C607.0 204.6 605.9 204.3 605.3 203.9Z" fill="rgb(103,103,103)" fill-opacity="0.85" stroke="#f4f4f4" stroke-width="0.7" />
<path d="M603.6 193.2C603.1 193.6 602.1 193.8 601.4 193.8C600.6 193.8 599.4 193.9 598.8 193.4C598.3 192.9 597.8 191.6 597.9 190.9C598.0 190.1 598.8 189.4 599.3 188.9C599.9 188.3 600.7 187.5 601.3 187.5C602.0 187.5 602.8 188.4 603.3 188.9C603.8 189.5 604.1 190.2 604.2 190.9C604.2 191.6 604.1 192.7 603.6 193.2Z" fill="rgb(147,147,147)" fill-opacity="0.85" stroke="#f4f4f4" stroke-width="0.7" />
<path d="M597.4 210.5C597.4 211.2 596.7 212.0 596.1 212.6C595.4 213.1 594.3 213.8 593.3 213.8C592.4 213.8 590.9 213.2 590.2 212.6C589.6 212.0 589.3 210.8 589.4 210.0C589.5 209.2 590.3 208.3 591.0 207.8C591.7 207.4 592.9 207.3 593.8 207.4C594.7 207.5 595.7 207.8 596.3 208.3C596.9 208.9 597.4 209.8 597.4 210.5Z" fill="rgb(128,128,128)" fill-opacity="0.85" stroke="#f4f4f4" stroke-width="0.7" />
<path d="M615.6 211.4C615.0 211.8 614.0 211.9 613.3 211.7C612.5 211.5 611.6 210.9 611.1 210.2C610.6 209.5 610.2 208.5 610.2 207.6C610.2 206.7 610.4 205.4 611.0 204.8C611.7 204.3 613.1 204.3 613.9 204.6C614.8 204.9 615.6 205.9 616.1 206.7C616.6 207.5 617.1 208.6 617.0 209.4C617.0 210.2 616.2 211.0 615.6 211.4Z" fill="rgb(118,118,118)" fill-opacity="0.85" stroke="#f4f4f4" stroke-width="0.7" />
<path d="M609.0 186.4C608.3 187.1 607.4 187.7 606.5 187.8C605.7 187.8 604.6 187.3 603.9 186.8C603.2 186.2 602.5 185.3 602.4 184.4C602.2 183.5 602.4 182.1 603.0 181.4C603.6 180.7 604.8 180.4 605.8 180.3C606.8 180.2 608.2 180.2 609.0 180.7C609.8 181.3 610.7 182.7 610.7 183.7C610.7 184.6 609.7 185.7 609.0 186.4Z" fill="rgb(137,137,137)" fill-opacity="0.85" stroke="#f4f4f4" stroke-width="0.7" />
<path d="M591.6 186.2C590.9 186.0 590.0 185.1 589.7 184.4C589.5 183.7 589.9 182.6 590.2 181.8C590.5 181.0 590.9 180.2 591.6 179.8C592.2 179.4 593.4 179.0 594.0 179.2C594.6 179.5 595.0 180.5 595.4 181.3C595.7 182.0 596.2 183.1 596.0 183.8C595.7 184.5 594.7 185.2 594.0 185.6C593.3 186.0 592.3 186.4 591.6 186.2Z" fill="rgb(126,126,126)" fill-opacity="0.85" stroke="#f4f4f4" stroke-width="0.7" />
<path d="M618.3 184.0C618.0 184.9 617.3 186.1 616.5 186.4C615.7 186.7 614.5 186.1 613.5 185.8C612.6 185.4 611.2 184.9 610.8 184.1C610.4 183.2 610.8 181.7 611.3 180.8C611.7 180.0 612.6 179.0 613.5 178.8C614.3 178.5 615.6 178.8 616.4 179.2C617.2 179.6 618.1 180.4 618.4 181.2C618.7 182.0 618.7 183.1 618.3 184.0Z" fill="rgb(138,138,138)" fill-opacity="0.85" stroke="#f4f4f4" stroke-width="0.7" />
<path d="M605.0 214.9C604.3 215.0 603.3 214.7 602.7 214.3C602.1 213.9 601.4 213.0 601.3 212.3C601.2 211.6 601.6 210.5 602.0 209.9C602.5 209.3 603.4 208.8 604.1 208.7C604.9 208.5 605.9 208.8 606.5 209.2C607.2 209.7 607.9 210.6 608.0 211.4C608.0 212.1 607.4 213.0 606.9 213.6C606.4 214.2 605.7 214.8 605.0 214.9Z" fill="rgb(94,94,94)" fill-opacity="0.85" stroke="#f4f4f4" stroke-width="0.7" />
</g>
<rect x="583.2" y="181.2" width="33.5" height="33.0" fill="none" stroke="#bbb" stroke-width="0.6"/>
<line x1="602.0" y1="173.5" x2="613.0" y2="173.5" stroke="#fff" stroke-width="1.8" />
<rect x="583.2" y="215.5" width="33.5" height="33.5" fill="#000"/>
<g clip-path="url(#c13)"><g filter="url(#blur05)">
<path d="M583.6 230.6C584.2 229.7 585.7 227.7 586.8 227.7C587.8 227.7 589.1 229.7 589.8 230.7C590.4 231.8 590.8 232.8 590.6 233.8C590.3 234.7 589.3 235.9 588.4 236.4C587.4 236.9 585.8 237.2 584.9 236.8C584.1 236.3 583.6 234.6 583.3 233.6C583.1 232.6 583.0 231.6 583.6 230.6Z" fill="#ff0000"/>
<path d="M619.9 220.7C620.1 221.7 619.4 223.6 618.6 224.4C617.8 225.3 616.4 225.9 615.2 225.9C614.0 226.0 612.4 225.7 611.7 224.8C611.0 223.9 610.7 221.9 610.9 220.7C611.2 219.5 612.0 217.9 613.1 217.5C614.1 217.1 615.9 217.8 617.1 218.4C618.2 218.9 619.6 219.7 619.9 220.7Z" fill="#e60000"/>
<path d="M601.6 229.5C600.6 230.1 599.2 230.9 598.3 230.5C597.4 230.2 596.4 228.5 596.2 227.5C595.9 226.4 596.2 225.2 596.7 224.3C597.3 223.3 598.4 222.0 599.4 222.0C600.3 221.9 601.6 223.0 602.5 223.8C603.3 224.7 604.5 226.1 604.4 227.0C604.2 228.0 602.6 229.0 601.6 229.5Z" fill="#f40000"/>
<path d="M598.0 246.0C598.9 246.8 599.2 248.0 599.3 249.3C599.4 250.5 599.5 252.8 598.7 253.5C597.9 254.3 595.7 254.1 594.5 253.8C593.4 253.4 592.3 252.5 591.7 251.5C591.1 250.4 590.6 248.7 591.0 247.6C591.4 246.4 592.9 244.8 594.1 244.6C595.3 244.3 597.1 245.3 598.0 246.0Z" fill="#ff1a1a"/>
<path d="M590.2 226.7C588.8 226.8 587.0 226.2 585.9 225.2C584.9 224.2 583.6 221.8 583.8 220.5C583.9 219.1 585.6 217.7 586.9 217.1C588.2 216.5 590.1 216.5 591.4 216.9C592.7 217.4 594.2 218.5 594.7 219.7C595.2 221.0 595.1 223.3 594.4 224.5C593.6 225.7 591.6 226.6 590.2 226.7Z" fill="#ff1a1a"/>
<path d="M602.6 232.1C603.7 232.2 604.9 233.2 605.5 234.3C606.0 235.3 606.4 237.2 606.0 238.2C605.5 239.2 604.1 239.8 602.9 240.2C601.7 240.5 599.6 240.7 598.7 240.0C597.7 239.4 597.1 237.5 597.2 236.3C597.2 235.2 598.0 233.9 598.9 233.2C599.9 232.5 601.5 231.9 602.6 232.1Z" fill="#e60000"/>
<path d="M606.3 226.3C607.2 225.8 608.9 225.6 609.7 226.0C610.5 226.5 611.0 228.1 611.1 229.1C611.3 230.2 611.1 231.4 610.5 232.2C609.9 232.9 608.6 233.5 607.6 233.5C606.5 233.6 604.6 233.4 604.1 232.6C603.6 231.8 604.1 229.9 604.5 228.8C604.9 227.8 605.4 226.8 606.3 226.3Z" fill="#ff1a1a"/>
<path d="M586.9 249.0C586.7 250.1 586.1 251.1 585.2 251.9C584.3 252.6 582.9 253.6 581.7 253.5C580.4 253.3 578.5 252.2 578.0 251.1C577.5 250.1 578.1 248.3 578.7 247.2C579.3 246.0 580.3 244.6 581.6 244.3C582.8 244.0 585.2 244.6 586.1 245.4C587.0 246.1 587.0 247.9 586.9 249.0Z" fill="#ff1a1a"/>
<path d="M613.0 235.9C613.4 235.0 615.0 234.2 616.2 233.9C617.3 233.7 618.7 234.0 619.8 234.6C620.8 235.3 622.3 236.6 622.4 237.9C622.5 239.2 621.5 241.6 620.4 242.4C619.3 243.1 617.1 242.9 615.9 242.4C614.8 242.0 614.0 240.7 613.5 239.6C613.1 238.5 612.5 236.9 613.0 235.9Z" fill="#ff1a1a"/>
<path d="M611.9 243.8C613.3 243.4 615.1 244.4 616.2 245.2C617.3 246.0 618.5 247.5 618.6 248.6C618.8 249.7 617.9 250.8 617.0 251.9C616.0 253.0 614.5 254.9 613.1 254.9C611.8 254.9 609.5 253.2 608.7 251.9C607.9 250.7 607.6 248.7 608.2 247.3C608.7 246.0 610.6 244.1 611.9 243.8Z" fill="#ff1a1a"/>
<path d="M603.0 223.1C602.2 222.3 601.9 220.0 602.2 218.8C602.6 217.6 604.2 216.5 605.3 215.9C606.4 215.4 608.0 215.0 609.0 215.5C609.9 216.0 610.7 217.8 610.9 218.9C611.2 220.0 611.1 221.4 610.5 222.2C609.8 223.0 608.2 223.4 607.0 223.6C605.8 223.7 603.8 223.9 603.0 223.1Z" fill="#ff0000"/>
<path d="M608.2 247.7C608.1 248.7 607.0 250.0 605.9 250.6C604.9 251.1 603.1 251.5 602.1 251.0C601.2 250.5 600.4 248.8 600.2 247.6C599.9 246.5 599.9 244.9 600.6 244.0C601.2 243.0 603.0 242.0 604.1 242.1C605.1 242.2 606.0 243.5 606.7 244.5C607.4 245.4 608.3 246.7 608.2 247.7Z" fill="#f40000"/>
<path d="M594.2 218.3C594.2 217.4 594.9 216.4 595.7 215.7C596.6 214.9 598.3 213.8 599.5 214.1C600.6 214.3 602.2 216.0 602.5 217.1C602.8 218.1 602.1 219.4 601.4 220.4C600.8 221.4 599.6 223.0 598.6 223.1C597.7 223.2 596.4 222.0 595.6 221.2C594.9 220.4 594.2 219.3 594.2 218.3Z" fill="#ff1a1a"/>
<path d="M587.8 245.1C586.7 244.6 586.0 242.8 585.7 241.4C585.4 240.0 585.3 237.9 586.0 236.9C586.8 235.9 588.9 235.4 590.3 235.4C591.7 235.5 593.7 236.1 594.4 237.1C595.2 238.2 595.2 240.4 594.8 241.6C594.4 242.9 593.3 244.1 592.2 244.7C591.0 245.3 588.8 245.7 587.8 245.1Z" fill="#e60000"/>
</g></g>
<rect x="583.2" y="215.5" width="33.5" height="33.5" fill="none" stroke="#bbb" stroke-width="0.6"/>
<rect x="583.2" y="249.6" width="33.5" height="33.6" fill="#030303"/>
<g clip-path="url(#c14)">
<rect x="583.2" y="249.6" width="33.5" height="33.6" fill="url(#tg21)" filter="url(#tf21)"/>
<rect x="583.2" y="249.6" width="33.5" height="33.6" fill="url(#tg22)" filter="url(#tf22)"/>
<path d="M602.7 267.5C602.3 266.7 602.4 265.4 602.8 264.6C603.1 263.9 603.9 263.4 604.7 263.0C605.4 262.5 606.4 261.7 607.2 261.9C607.9 262.1 608.7 263.3 609.0 264.1C609.4 264.9 609.7 266.0 609.4 266.7C609.2 267.5 608.4 268.2 607.7 268.6C606.9 269.1 605.9 269.4 605.1 269.2C604.2 269.0 603.0 268.3 602.7 267.5Z" fill="rgb(104,104,104)" fill-opacity="0.85" stroke="#f4f4f4" stroke-width="0.7" stroke-dasharray="1.5 1.1"/>
<path d="M610.9 254.0C610.5 254.8 609.5 255.9 608.5 256.1C607.5 256.3 606.2 255.7 605.2 255.2C604.2 254.7 602.9 253.8 602.5 252.9C602.2 252.0 602.5 250.6 603.1 249.8C603.6 249.0 604.6 248.6 605.6 248.3C606.6 248.0 608.0 247.7 608.9 248.1C609.8 248.6 610.7 249.9 611.0 250.9C611.4 251.8 611.3 253.1 610.9 254.0Z" fill="rgb(88,88,88)" fill-opacity="0.85" stroke="#f4f4f4" stroke-width="0.7" stroke-dasharray="1.5 1.1"/>
<path d="M606.2 280.0C605.9 279.2 606.6 277.9 607.0 277.0C607.5 276.2 608.2 275.2 609.0 274.9C609.8 274.7 611.0 275.1 611.8 275.5C612.6 275.9 613.4 276.6 613.8 277.4C614.2 278.3 614.4 279.6 614.0 280.5C613.6 281.3 612.5 282.3 611.6 282.6C610.7 282.9 609.4 282.7 608.5 282.3C607.6 281.9 606.4 280.9 606.2 280.0Z" fill="rgb(94,94,94)" fill-opacity="0.85" stroke="#f4f4f4" stroke-width="0.7" stroke-dasharray="1.5 1.1"/>
<path d="M584.4 264.1C584.1 263.4 584.4 262.1 584.8 261.2C585.1 260.3 585.7 259.0 586.5 258.7C587.3 258.3 588.6 258.7 589.6 259.0C590.5 259.3 591.7 259.7 592.2 260.5C592.6 261.3 592.5 262.8 592.1 263.6C591.7 264.4 590.5 265.2 589.7 265.5C588.8 265.8 587.8 265.6 587.0 265.4C586.1 265.2 584.8 264.8 584.4 264.1Z" fill="rgb(84,84,84)" fill-opacity="0.85" stroke="#f4f4f4" stroke-width="0.7" stroke-dasharray="1.5 1.1"/>
<path d="M599.3 270.6C599.2 271.3 598.5 272.1 597.9 272.6C597.2 273.1 596.1 273.7 595.2 273.5C594.4 273.4 593.5 272.5 593.0 271.8C592.5 271.1 592.1 270.0 592.3 269.2C592.4 268.4 593.2 267.6 594.0 267.1C594.7 266.7 595.8 266.3 596.6 266.4C597.4 266.6 598.3 267.4 598.8 268.1C599.2 268.8 599.5 269.8 599.3 270.6Z" fill="rgb(96,96,96)" fill-opacity="0.85" stroke="#f4f4f4" stroke-width="0.7" stroke-dasharray="1.5 1.1"/>
<path d="M604.7 278.5C604.1 279.0 602.7 279.4 601.8 279.2C601.0 279.0 600.1 278.1 599.5 277.4C598.9 276.6 598.1 275.5 598.1 274.6C598.2 273.8 599.0 272.7 599.7 272.1C600.4 271.6 601.6 271.2 602.5 271.4C603.4 271.6 604.5 272.4 604.9 273.1C605.4 273.8 605.4 274.9 605.4 275.8C605.3 276.7 605.3 277.9 604.7 278.5Z" fill="rgb(73,73,73)" fill-opacity="0.85" stroke="#f4f4f4" stroke-width="0.7" stroke-dasharray="1.5 1.1"/>
<path d="M594.8 264.4C593.8 263.9 592.9 262.6 592.6 261.5C592.4 260.5 592.7 258.9 593.3 258.0C593.8 257.0 595.0 256.3 596.1 255.9C597.1 255.6 598.8 255.4 599.6 255.9C600.4 256.5 600.7 258.1 600.8 259.2C600.9 260.2 600.8 261.2 600.4 262.1C599.9 262.9 599.1 263.8 598.1 264.2C597.2 264.6 595.7 264.8 594.8 264.4Z" fill="rgb(80,80,80)" fill-opacity="0.85" stroke="#f4f4f4" stroke-width="0.7" stroke-dasharray="1.5 1.1"/>
<path d="M587.5 276.7C587.1 276.1 587.1 274.9 587.4 274.2C587.6 273.5 588.3 272.9 588.9 272.4C589.6 271.9 590.5 271.0 591.3 271.0C592.1 271.0 593.2 271.8 593.6 272.4C594.1 273.1 594.3 274.3 594.1 275.1C593.9 275.9 593.1 276.9 592.4 277.4C591.7 277.8 590.6 278.1 589.7 278.0C588.9 277.9 587.9 277.3 587.5 276.7Z" fill="rgb(103,103,103)" fill-opacity="0.85" stroke="#f4f4f4" stroke-width="0.7" stroke-dasharray="1.5 1.1"/>
<path d="M589.7 254.9C589.0 255.2 588.1 255.4 587.3 255.2C586.5 255.0 585.3 254.4 584.8 253.6C584.4 252.8 584.4 251.4 584.6 250.6C584.8 249.7 585.5 248.8 586.2 248.4C587.0 248.0 588.2 247.6 589.0 247.9C589.8 248.2 590.7 249.4 591.1 250.3C591.5 251.1 591.6 252.4 591.4 253.1C591.1 253.9 590.4 254.5 589.7 254.9Z" fill="rgb(111,111,111)" fill-opacity="0.85" stroke="#f4f4f4" stroke-width="0.7" stroke-dasharray="1.5 1.1"/>
<path d="M584.3 272.9C583.3 272.8 582.0 272.4 581.4 271.7C580.8 271.0 580.6 269.5 580.8 268.6C581.0 267.6 581.7 266.5 582.5 266.0C583.2 265.5 584.4 265.5 585.3 265.7C586.3 265.8 587.5 266.0 588.1 266.7C588.7 267.4 589.1 268.8 589.0 269.7C588.8 270.7 588.0 271.8 587.2 272.3C586.5 272.8 585.3 273.0 584.3 272.9Z" fill="rgb(88,88,88)" fill-opacity="0.85" stroke="#f4f4f4" stroke-width="0.7" stroke-dasharray="1.5 1.1"/>
<path d="M611.9 271.3C611.9 270.6 612.1 269.5 612.7 269.0C613.3 268.5 614.5 268.3 615.4 268.3C616.4 268.3 617.7 268.3 618.4 268.9C619.0 269.4 619.4 270.6 619.3 271.3C619.2 272.1 618.5 272.9 617.8 273.4C617.2 273.9 616.3 274.2 615.4 274.2C614.6 274.3 613.2 274.2 612.6 273.8C612.0 273.3 611.9 272.1 611.9 271.3Z" fill="rgb(77,77,77)" fill-opacity="0.85" stroke="#f4f4f4" stroke-width="0.7" stroke-dasharray="1.5 1.1"/>
</g>
<rect x="583.2" y="249.6" width="33.5" height="33.6" fill="none" stroke="#bbb" stroke-width="0.6"/>
<line x1="646.3" y1="34.1" x2="646.3" y2="136.7" stroke="#000" stroke-width="1" />
<line x1="642.8" y1="136.2" x2="646.3" y2="136.2" stroke="#000" stroke-width="0.9" />
<text x="642.1" y="139.2" font-size="8.2" text-anchor="end" textLength="4.2" lengthAdjust="spacingAndGlyphs">0</text>
<line x1="642.8" y1="119.3" x2="646.3" y2="119.3" stroke="#000" stroke-width="0.9" />
<text x="642.1" y="122.3" font-size="8.2" text-anchor="end" textLength="8.5" lengthAdjust="spacingAndGlyphs">20</text>
<line x1="642.8" y1="102.3" x2="646.3" y2="102.3" stroke="#000" stroke-width="0.9" />
<text x="642.1" y="105.3" font-size="8.2" text-anchor="end" textLength="8.5" lengthAdjust="spacingAndGlyphs">40</text>
<line x1="642.8" y1="85.4" x2="646.3" y2="85.4" stroke="#000" stroke-width="0.9" />
<text x="642.1" y="88.4" font-size="8.2" text-anchor="end" textLength="8.5" lengthAdjust="spacingAndGlyphs">60</text>
<line x1="642.8" y1="68.5" x2="646.3" y2="68.5" stroke="#000" stroke-width="0.9" />
<text x="642.1" y="71.5" font-size="8.2" text-anchor="end" textLength="8.5" lengthAdjust="spacingAndGlyphs">80</text>
<line x1="642.8" y1="51.5" x2="646.3" y2="51.5" stroke="#000" stroke-width="0.9" />
<text x="642.1" y="54.5" font-size="8.2" text-anchor="end" textLength="12.8" lengthAdjust="spacingAndGlyphs">100</text>
<line x1="642.8" y1="34.6" x2="646.3" y2="34.6" stroke="#000" stroke-width="0.9" />
<text x="642.1" y="37.6" font-size="8.2" text-anchor="end" textLength="12.8" lengthAdjust="spacingAndGlyphs">120</text>
<line x1="645.8" y1="136.2" x2="683.5" y2="136.2" stroke="#000" stroke-width="1" />
<line x1="656.7" y1="136.2" x2="656.7" y2="139.2" stroke="#000" stroke-width="0.9" />
<line x1="674.0" y1="136.2" x2="674.0" y2="139.2" stroke="#000" stroke-width="0.9" />
<text x="628.0" y="84.5" font-size="8.1" text-anchor="middle" transform="rotate(-90 628.0 84.5)">E12.5 % TBR2<tspan baseline-shift="super" font-size="6">+</tspan>Ki67<tspan baseline-shift="super" font-size="6">+</tspan> cells</text>
<text x="658.1" y="148.3" font-size="9" text-anchor="middle" textLength="10.2" lengthAdjust="spacingAndGlyphs">CT</text>
<text x="674.2" y="148.3" font-size="9" text-anchor="middle" textLength="15.6" lengthAdjust="spacingAndGlyphs">cKO</text>
<circle cx="652.1" cy="54.9" r="2.2" fill="#000" />
<circle cx="656.7" cy="54.0" r="2.2" fill="#000" />
<circle cx="661.0" cy="54.6" r="2.2" fill="#000" />
<circle cx="654.4" cy="59.7" r="2.2" fill="#000" />
<circle cx="659.5" cy="60.0" r="2.2" fill="#000" />
<circle cx="656.7" cy="63.1" r="2.2" fill="#000" />
<line x1="650.6" y1="57.4" x2="663.3" y2="57.4" stroke="#888" stroke-width="1" />
<rect x="668.5" y="59.4" width="3.6" height="3.6" fill="#a8a8a8"/>
<rect x="678.5" y="57.9" width="3.6" height="3.6" fill="#a8a8a8"/>
<rect x="673.2" y="63.5" width="3.6" height="3.6" fill="#a8a8a8"/>
<rect x="671.9" y="67.7" width="3.6" height="3.6" fill="#a8a8a8"/>
<line x1="668.0" y1="65.0" x2="682.0" y2="65.0" stroke="#000" stroke-width="1" />
<line x1="675.0" y1="61.0" x2="675.0" y2="69.0" stroke="#000" stroke-width="0.8" />
<line x1="673.0" y1="61.0" x2="677.0" y2="61.0" stroke="#000" stroke-width="0.8" />
<line x1="673.0" y1="69.0" x2="677.0" y2="69.0" stroke="#000" stroke-width="0.8" />
<text x="674.3" y="56.0" font-size="10" text-anchor="middle" font-weight="bold">*</text>
<line x1="647.2" y1="167.8" x2="647.2" y2="270.1" stroke="#000" stroke-width="1" />
<line x1="643.7" y1="269.6" x2="647.2" y2="269.6" stroke="#000" stroke-width="0.9" />
<text x="643.0" y="272.6" font-size="8.2" text-anchor="end" textLength="4.2" lengthAdjust="spacingAndGlyphs">0</text>
<line x1="643.7" y1="252.7" x2="647.2" y2="252.7" stroke="#000" stroke-width="0.9" />
<text x="643.0" y="255.7" font-size="8.2" text-anchor="end" textLength="8.5" lengthAdjust="spacingAndGlyphs">20</text>
<line x1="643.7" y1="235.8" x2="647.2" y2="235.8" stroke="#000" stroke-width="0.9" />
<text x="643.0" y="238.8" font-size="8.2" text-anchor="end" textLength="8.5" lengthAdjust="spacingAndGlyphs">40</text>
<line x1="643.7" y1="219.0" x2="647.2" y2="219.0" stroke="#000" stroke-width="0.9" />
<text x="643.0" y="222.0" font-size="8.2" text-anchor="end" textLength="8.5" lengthAdjust="spacingAndGlyphs">60</text>
<line x1="643.7" y1="202.1" x2="647.2" y2="202.1" stroke="#000" stroke-width="0.9" />
<text x="643.0" y="205.1" font-size="8.2" text-anchor="end" textLength="8.5" lengthAdjust="spacingAndGlyphs">80</text>
<line x1="643.7" y1="185.2" x2="647.2" y2="185.2" stroke="#000" stroke-width="0.9" />
<text x="643.0" y="188.2" font-size="8.2" text-anchor="end" textLength="12.8" lengthAdjust="spacingAndGlyphs">100</text>
<line x1="643.7" y1="168.3" x2="647.2" y2="168.3" stroke="#000" stroke-width="0.9" />
<text x="643.0" y="171.3" font-size="8.2" text-anchor="end" textLength="12.8" lengthAdjust="spacingAndGlyphs">120</text>
<line x1="646.7" y1="269.6" x2="683.5" y2="269.6" stroke="#000" stroke-width="1" />
<line x1="657.3" y1="269.6" x2="657.3" y2="272.6" stroke="#000" stroke-width="0.9" />
<line x1="674.2" y1="269.6" x2="674.2" y2="272.6" stroke="#000" stroke-width="0.9" />
<text x="628.9" y="219.0" font-size="8.1" text-anchor="middle" transform="rotate(-90 628.9 219.0)">E14.5 % TBR2<tspan baseline-shift="super" font-size="6">+</tspan>Ki67<tspan baseline-shift="super" font-size="6">+</tspan> cells</text>
<text x="658.2" y="281.6" font-size="9" text-anchor="middle" textLength="10.2" lengthAdjust="spacingAndGlyphs">CT</text>
<text x="674.0" y="281.6" font-size="9" text-anchor="middle" textLength="15.6" lengthAdjust="spacingAndGlyphs">cKO</text>
<circle cx="652.5" cy="190.3" r="2.2" fill="#000" />
<circle cx="662.0" cy="193.1" r="2.2" fill="#000" />
<circle cx="652.5" cy="197.2" r="2.2" fill="#000" />
<line x1="650.0" y1="193.1" x2="662.0" y2="193.1" stroke="#000" stroke-width="1" />
<line x1="653.5" y1="190.0" x2="653.5" y2="196.5" stroke="#000" stroke-width="0.8" />
<rect x="668.4" y="208.8" width="3.6" height="3.6" fill="#a8a8a8"/>
<rect x="677.5" y="210.8" width="3.6" height="3.6" fill="#a8a8a8"/>
<rect x="673.0" y="214.9" width="3.6" height="3.6" fill="#a8a8a8"/>
<rect x="673.0" y="220.4" width="3.6" height="3.6" fill="#a8a8a8"/>
<line x1="668.0" y1="214.7" x2="682.0" y2="214.7" stroke="#000" stroke-width="1" />
<line x1="674.8" y1="211.0" x2="674.8" y2="218.1" stroke="#000" stroke-width="0.8" />
<line x1="672.8" y1="211.0" x2="676.8" y2="211.0" stroke="#000" stroke-width="0.8" />
<line x1="672.8" y1="218.1" x2="676.8" y2="218.1" stroke="#000" stroke-width="0.8" />
<text x="674.8" y="208.0" font-size="10" text-anchor="middle" font-weight="bold">**</text>
<text x="351.0" y="317.6" font-size="21" font-weight="bold">j</text>
<rect x="366.6" y="305.0" width="149.5" height="14.8" fill="#fff" stroke="#707070" stroke-width="1.2"/>
<text x="439.4" y="316.9" font-size="11.6" text-anchor="end" fill="#e3242b">RFP</text>
<text x="439.4" y="316.9" font-size="11.6">TBR2</text>
<rect x="366.6" y="321.5" width="48.8" height="28.5" fill="#fff" stroke="#707070" stroke-width="1.2"/>
<text x="391.0" y="341.6" font-size="14" text-anchor="middle" textLength="44.0" lengthAdjust="spacingAndGlyphs">Control</text>
<rect x="417.2" y="321.5" width="48.0" height="28.5" fill="#fff" stroke="#707070" stroke-width="1.2"/>
<text x="441.2" y="341.6" font-size="14" text-anchor="middle" textLength="26.8" lengthAdjust="spacingAndGlyphs">cKO</text>
<rect x="467.4" y="321.5" width="48.7" height="28.5" fill="#fff" stroke="#707070" stroke-width="1.2"/>
<text x="491.8" y="332.8" font-size="11.8" text-anchor="middle" textLength="23.0" lengthAdjust="spacingAndGlyphs">cKO</text>
<text x="491.8" y="346.3" font-size="11.8" text-anchor="middle" textLength="46.0" lengthAdjust="spacingAndGlyphs">NOTCH1</text>
<rect x="349.8" y="352.0" width="14.7" height="205.5" fill="#fff" stroke="#707070" stroke-width="1.2"/>
<text x="361.9" y="514.7" font-size="13.5" textLength="58.3" lengthAdjust="spacingAndGlyphs" transform="rotate(-90 361.9 514.7)">IUE E14.5</text>
<text x="361.9" y="430.7" font-size="13.5" textLength="32.7" lengthAdjust="spacingAndGlyphs" transform="rotate(-90 361.9 430.7)">E16.5</text>
<path d="M357.0 450.3V442" fill="none" stroke="#000" stroke-width="1.9"/>
<path d="M357.0 437.2L353.0 443L361.0 443Z" fill="#000"/>
<rect x="366.6" y="352.0" width="149.8" height="205.7" fill="#d4d4d4"/>
<rect x="366.6" y="352.0" width="49.0" height="205.5" fill="#000"/>
<g clip-path="url(#c15)">
<rect x="366.6" y="352.0" width="49.0" height="205.5" fill="url(#tg23)" filter="url(#tf23)"/>
<rect x="366.6" y="352.0" width="49.0" height="205.5" fill="url(#tg24)" filter="url(#tf24)"/>
<g transform="rotate(-55 391.1 454.8)"><rect x="283.5" y="347.1" width="215.3" height="215.3" fill="url(#tg25)" filter="url(#tf25)"/></g>
<path d="M365.6 555.5Q378.6 551.5 391.6 553.5T416.6 553" fill="none" stroke="#eee" stroke-width="1"/>
<rect x="366.6" y="555.5" width="49.0" height="2.5" fill="#000"/>
</g>
<rect x="380.2" y="355.9" width="34.4" height="33.8" fill="#000"/>
<g clip-path="url(#c16)">
<rect x="380.2" y="355.9" width="34.4" height="33.8" fill="url(#tg26)" filter="url(#tf26)"/>
</g>
<rect x="380.2" y="355.9" width="34.4" height="33.8" fill="none" stroke="#bbb" stroke-width="0.6"/>
<rect x="380.2" y="391.2" width="34.4" height="34.3" fill="#030303"/>
<g clip-path="url(#c17)">
<rect x="380.2" y="391.2" width="34.4" height="34.3" fill="url(#tg27)" filter="url(#tf27)"/>
<rect x="380.2" y="391.2" width="34.4" height="34.3" fill="url(#tg28)" filter="url(#tf28)"/>
<path d="M413.7 403.4C413.2 404.1 412.3 404.6 411.4 404.8C410.5 405.0 409.2 405.0 408.4 404.5C407.5 404.0 406.6 402.8 406.4 401.9C406.2 400.9 406.5 399.6 407.0 398.9C407.6 398.2 408.8 397.8 409.7 397.7C410.6 397.5 411.9 397.6 412.6 398.2C413.4 398.7 414.3 399.8 414.4 400.7C414.6 401.5 414.2 402.7 413.7 403.4Z" fill="#000" fill-opacity="0.3" stroke="#f4f4f4" stroke-width="0.7" />
<path d="M393.7 415.6C392.7 414.8 391.3 413.2 391.2 412.0C391.1 410.7 392.2 409.0 393.2 408.1C394.2 407.1 395.8 406.3 397.0 406.4C398.3 406.5 399.5 407.6 400.5 408.5C401.5 409.4 402.9 410.7 403.0 411.9C403.1 413.1 402.0 414.9 401.1 415.7C400.1 416.5 398.6 416.8 397.4 416.8C396.1 416.8 394.7 416.4 393.7 415.6Z" fill="#000" fill-opacity="0.3" stroke="#f4f4f4" stroke-width="0.7" />
<path d="M389.7 412.7C389.0 413.6 388.1 414.8 387.0 415.1C385.9 415.4 383.9 415.2 383.0 414.5C382.0 413.8 381.7 412.2 381.4 410.9C381.1 409.7 380.6 407.8 381.2 406.9C381.8 406.0 383.7 405.9 385.0 405.7C386.3 405.4 387.9 405.0 389.0 405.6C390.1 406.2 391.3 408.0 391.4 409.1C391.5 410.3 390.4 411.7 389.7 412.7Z" fill="#000" fill-opacity="0.3" stroke="#f4f4f4" stroke-width="0.7" />
<path d="M399.7 419.9C399.6 418.7 400.0 417.1 400.8 416.2C401.6 415.3 403.3 414.7 404.6 414.5C405.9 414.3 407.7 414.6 408.5 415.3C409.4 415.9 409.8 417.3 409.9 418.3C410.0 419.2 409.6 420.4 409.0 421.2C408.3 422.0 407.2 422.9 406.0 423.2C404.8 423.5 402.8 423.6 401.8 423.1C400.7 422.5 399.9 421.0 399.7 419.9Z" fill="#000" fill-opacity="0.3" stroke="#f4f4f4" stroke-width="0.7" />
<path d="M387.5 404.7C386.2 404.7 384.8 404.1 383.9 403.3C383.0 402.5 382.2 401.0 382.2 399.8C382.2 398.6 382.9 397.2 383.7 396.3C384.5 395.4 385.7 394.6 386.9 394.4C388.1 394.2 389.9 394.5 390.8 395.3C391.8 396.2 392.3 397.9 392.4 399.3C392.5 400.6 392.2 402.6 391.4 403.5C390.6 404.4 388.7 404.7 387.5 404.7Z" fill="#000" fill-opacity="0.3" stroke="#f4f4f4" stroke-width="0.7" />
<path d="M397.4 402.9C396.2 402.9 394.4 402.1 393.7 401.0C393.1 400.0 393.1 398.1 393.3 396.8C393.6 395.5 394.1 393.8 395.0 393.1C395.9 392.4 397.5 392.2 398.7 392.4C400.0 392.5 401.7 392.8 402.5 393.8C403.3 394.7 403.8 396.8 403.5 398.1C403.3 399.3 402.1 400.7 401.1 401.5C400.1 402.3 398.7 403.0 397.4 402.9Z" fill="#000" fill-opacity="0.3" stroke="#f4f4f4" stroke-width="0.7" />
</g>
<rect x="380.2" y="391.2" width="34.4" height="34.3" fill="none" stroke="#bbb" stroke-width="0.6"/>
<rect x="417.2" y="352.0" width="49.0" height="205.5" fill="#000"/>
<g clip-path="url(#c18)">
<rect x="417.2" y="352.0" width="49.0" height="205.5" fill="url(#tg29)" filter="url(#tf29)"/>
<rect x="417.2" y="352.0" width="49.0" height="205.5" fill="url(#tg30)" filter="url(#tf30)"/>
<g transform="rotate(-55 441.7 454.8)"><rect x="334.1" y="347.1" width="215.3" height="215.3" fill="url(#tg31)" filter="url(#tf31)"/></g>
<path d="M416.20000000000005 555.5Q429.20000000000005 551.5 442.20000000000005 553.5T467.20000000000005 553" fill="none" stroke="#eee" stroke-width="1"/>
<rect x="417.2" y="555.5" width="49.0" height="2.5" fill="#000"/>
</g>
<rect x="430.2" y="355.9" width="34.4" height="33.8" fill="#000"/>
<g clip-path="url(#c19)">
<rect x="430.2" y="355.9" width="34.4" height="33.8" fill="url(#tg32)" filter="url(#tf32)"/>
</g>
<rect x="430.2" y="355.9" width="34.4" height="33.8" fill="none" stroke="#bbb" stroke-width="0.6"/>
<rect x="430.2" y="391.2" width="34.4" height="34.3" fill="#030303"/>
<g clip-path="url(#c20)">
<rect x="430.2" y="391.2" width="34.4" height="34.3" fill="url(#tg33)" filter="url(#tf33)"/>
<rect x="430.2" y="391.2" width="34.4" height="34.3" fill="url(#tg34)" filter="url(#tf34)"/>
<path d="M432.7 396.9C432.3 396.3 432.1 395.5 432.5 394.6C432.8 393.7 433.8 392.4 434.8 391.7C435.8 390.9 437.5 390.1 438.5 390.0C439.4 389.9 440.4 390.5 440.7 391.1C441.0 391.7 440.7 392.8 440.2 393.7C439.8 394.5 439.0 395.5 438.0 396.2C437.1 396.9 435.6 397.8 434.8 398.0C433.9 398.1 433.1 397.4 432.7 396.9Z" fill="#000" fill-opacity="0.3" stroke="#f4f4f4" stroke-width="0.7" stroke-dasharray="1.5 1.1"/>
<path d="M461.7 421.0C460.9 420.8 460.2 420.3 459.7 419.3C459.2 418.4 458.7 416.8 458.8 415.4C458.9 414.0 459.4 411.8 460.1 410.9C460.7 410.1 461.8 410.1 462.6 410.3C463.4 410.5 464.2 410.9 464.7 411.9C465.2 412.8 465.8 414.6 465.7 416.0C465.6 417.4 464.9 419.7 464.3 420.5C463.6 421.4 462.4 421.2 461.7 421.0Z" fill="#000" fill-opacity="0.3" stroke="#f4f4f4" stroke-width="0.7" stroke-dasharray="1.5 1.1"/>
<path d="M456.9 404.2C455.8 404.0 454.4 402.5 453.9 401.1C453.4 399.7 453.6 397.4 453.9 395.7C454.1 394.1 454.6 392.2 455.5 391.0C456.4 389.8 458.1 388.3 459.1 388.5C460.1 388.7 461.0 390.8 461.6 392.2C462.3 393.6 463.1 395.4 463.0 397.0C462.8 398.7 461.7 400.8 460.7 402.0C459.7 403.2 458.0 404.3 456.9 404.2Z" fill="#000" fill-opacity="0.3" stroke="#f4f4f4" stroke-width="0.7" stroke-dasharray="1.5 1.1"/>
<path d="M431.0 413.8C430.8 413.1 431.3 411.7 432.3 410.9C433.3 410.0 435.6 409.1 437.0 409.0C438.5 408.8 439.9 409.5 441.1 409.9C442.3 410.4 443.7 410.8 444.0 411.6C444.3 412.3 443.6 413.6 442.7 414.4C441.7 415.2 439.8 416.1 438.3 416.3C436.9 416.5 435.2 416.0 434.0 415.6C432.8 415.2 431.3 414.6 431.0 413.8Z" fill="#000" fill-opacity="0.3" stroke="#f4f4f4" stroke-width="0.7" stroke-dasharray="1.5 1.1"/>
<path d="M442.3 400.4C441.9 399.7 441.6 398.3 442.3 397.4C443.0 396.5 445.2 395.6 446.6 395.2C448.0 394.8 449.8 394.7 450.9 395.0C452.1 395.2 453.2 396.0 453.4 396.8C453.6 397.6 453.0 398.9 452.3 399.7C451.5 400.5 449.9 401.3 448.7 401.7C447.5 402.1 445.9 402.2 444.8 402.0C443.7 401.8 442.7 401.2 442.3 400.4Z" fill="#000" fill-opacity="0.3" stroke="#f4f4f4" stroke-width="0.7" stroke-dasharray="1.5 1.1"/>
<path d="M453.0 414.2C452.2 414.4 451.3 414.1 450.5 413.4C449.7 412.8 448.4 411.5 448.1 410.3C447.8 409.1 448.3 407.4 448.7 406.4C449.2 405.3 449.9 404.4 450.7 404.2C451.4 404.1 452.4 404.9 453.2 405.6C454.0 406.3 455.0 407.5 455.3 408.7C455.5 409.8 455.2 411.5 454.8 412.4C454.4 413.3 453.7 414.1 453.0 414.2Z" fill="#000" fill-opacity="0.3" stroke="#f4f4f4" stroke-width="0.7" stroke-dasharray="1.5 1.1"/>
</g>
<rect x="430.2" y="391.2" width="34.4" height="34.3" fill="none" stroke="#bbb" stroke-width="0.6"/>
<rect x="467.4" y="352.0" width="49.2" height="205.5" fill="#000"/>
<g clip-path="url(#c21)">
<rect x="467.4" y="352.0" width="49.2" height="205.5" fill="url(#tg35)" filter="url(#tf35)"/>
<rect x="467.4" y="352.0" width="49.2" height="205.5" fill="url(#tg36)" filter="url(#tf36)"/>
<g transform="rotate(-55 492.0 454.8)"><rect x="384.3" y="347.1" width="215.3" height="215.3" fill="url(#tg37)" filter="url(#tf37)"/></g>
<path d="M466.40000000000003 555.5Q479.40000000000003 551.5 492.40000000000003 553.5T517.4000000000001 553" fill="none" stroke="#eee" stroke-width="1"/>
<rect x="467.4" y="555.5" width="49.2" height="2.5" fill="#000"/>
</g>
<rect x="481.0" y="355.9" width="34.4" height="33.8" fill="#000"/>
<g clip-path="url(#c22)">
<rect x="481.0" y="355.9" width="34.4" height="33.8" fill="url(#tg38)" filter="url(#tf38)"/>
</g>
<rect x="481.0" y="355.9" width="34.4" height="33.8" fill="none" stroke="#bbb" stroke-width="0.6"/>
<rect x="481.0" y="391.2" width="34.4" height="34.3" fill="#030303"/>
<g clip-path="url(#c23)">
<rect x="481.0" y="391.2" width="34.4" height="34.3" fill="url(#tg39)" filter="url(#tf39)"/>
<rect x="481.0" y="391.2" width="34.4" height="34.3" fill="url(#tg40)" filter="url(#tf40)"/>
<path d="M485.4 415.8C484.7 416.2 483.6 416.7 482.8 415.8C482.0 414.8 481.0 412.0 480.4 410.1C479.9 408.1 479.5 405.7 479.6 404.2C479.7 402.7 480.4 401.0 481.1 401.0C481.9 401.0 483.1 402.8 484.0 404.0C484.9 405.2 485.9 406.8 486.3 408.4C486.8 410.0 487.1 412.4 486.9 413.6C486.7 414.8 486.0 415.4 485.4 415.8Z" fill="#000" fill-opacity="0.3" stroke="#f4f4f4" stroke-width="0.7" />
<path d="M493.9 407.7C493.8 407.1 495.2 405.7 496.3 404.8C497.3 403.9 498.8 402.7 500.2 402.2C501.6 401.6 503.4 401.5 504.8 401.6C506.1 401.6 507.8 401.7 508.1 402.3C508.4 402.9 507.3 404.2 506.4 405.1C505.4 406.0 503.9 407.2 502.3 407.9C500.8 408.5 498.6 408.8 497.2 408.8C495.8 408.8 494.1 408.4 493.9 407.7Z" fill="#000" fill-opacity="0.3" stroke="#f4f4f4" stroke-width="0.7" />
<path d="M512.7 425.8C512.0 426.1 510.8 425.8 510.0 424.9C509.1 424.1 507.9 422.4 507.3 420.8C506.6 419.3 506.0 416.8 506.1 415.5C506.2 414.3 507.0 413.5 507.8 413.2C508.6 412.9 509.7 412.9 510.6 413.8C511.5 414.7 512.6 417.0 513.1 418.6C513.7 420.2 514.2 422.2 514.1 423.5C514.0 424.7 513.3 425.6 512.7 425.8Z" fill="#000" fill-opacity="0.3" stroke="#f4f4f4" stroke-width="0.7" />
<path d="M495.8 407.5C495.1 407.9 494.1 408.7 493.1 407.8C492.1 407.0 490.7 404.4 489.9 402.5C489.1 400.6 488.2 397.9 488.2 396.3C488.1 394.8 488.9 393.5 489.8 393.3C490.6 393.1 492.0 394.0 493.1 395.1C494.1 396.2 495.5 398.2 496.1 399.8C496.8 401.5 497.1 403.7 497.0 405.0C497.0 406.2 496.4 407.0 495.8 407.5Z" fill="#000" fill-opacity="0.3" stroke="#f4f4f4" stroke-width="0.7" />
<path d="M479.4 403.5C478.8 403.2 478.0 402.8 478.1 401.7C478.2 400.6 479.2 398.6 480.0 397.0C480.7 395.5 481.9 393.2 482.7 392.5C483.5 391.8 484.3 392.4 484.9 392.8C485.4 393.2 486.1 393.6 486.0 394.7C485.9 395.8 485.0 397.7 484.3 399.2C483.6 400.8 482.4 403.1 481.6 403.9C480.7 404.6 479.9 403.9 479.4 403.5Z" fill="#000" fill-opacity="0.3" stroke="#f4f4f4" stroke-width="0.7" />
</g>
<rect x="481.0" y="391.2" width="34.4" height="34.3" fill="none" stroke="#bbb" stroke-width="0.6"/>
<line x1="503.9" y1="384.3" x2="512.4" y2="384.3" stroke="#fff" stroke-width="1.8" />
<line x1="501.4" y1="551.5" x2="513.4" y2="551.5" stroke="#fff" stroke-width="1.8" />
<text x="369.2" y="507.0" font-size="10.5" fill="#ececec" textLength="18.8" lengthAdjust="spacingAndGlyphs">SVZ</text>
<text x="369.2" y="541.0" font-size="10.5" fill="#ececec" textLength="12.5" lengthAdjust="spacingAndGlyphs">VZ</text>
<text x="521.3" y="318.5" font-size="21" font-weight="bold">k</text>
<rect x="535.2" y="305.0" width="149.5" height="14.8" fill="#fff" stroke="#707070" stroke-width="1.2"/>
<text x="594.5" y="316.9" font-size="11.6" text-anchor="end" fill="#e3242b">RFP</text>
<text x="594.5" y="316.9" font-size="11.6">NEUROD2</text>
<rect x="535.2" y="321.5" width="48.8" height="28.5" fill="#fff" stroke="#707070" stroke-width="1.2"/>
<text x="559.6" y="341.6" font-size="14" text-anchor="middle" textLength="44.0" lengthAdjust="spacingAndGlyphs">Control</text>
<rect x="585.8" y="321.5" width="48.0" height="28.5" fill="#fff" stroke="#707070" stroke-width="1.2"/>
<text x="609.8" y="341.6" font-size="14" text-anchor="middle" textLength="26.8" lengthAdjust="spacingAndGlyphs">cKO</text>
<rect x="636.0" y="321.5" width="48.7" height="28.5" fill="#fff" stroke="#707070" stroke-width="1.2"/>
<text x="660.4" y="332.8" font-size="11.8" text-anchor="middle" textLength="23.0" lengthAdjust="spacingAndGlyphs">cKO</text>
<text x="660.4" y="346.3" font-size="11.8" text-anchor="middle" textLength="46.0" lengthAdjust="spacingAndGlyphs">NOTCH1</text>
<rect x="518.4" y="352.0" width="14.7" height="205.5" fill="#fff" stroke="#707070" stroke-width="1.2"/>
<text x="530.5" y="514.7" font-size="13.5" textLength="58.3" lengthAdjust="spacingAndGlyphs" transform="rotate(-90 530.5 514.7)">IUE E14.5</text>
<text x="530.5" y="430.7" font-size="13.5" textLength="32.7" lengthAdjust="spacingAndGlyphs" transform="rotate(-90 530.5 430.7)">E16.5</text>
<path d="M525.6 450.3V442" fill="none" stroke="#000" stroke-width="1.9"/>
<path d="M525.6 437.2L521.6 443L529.6 443Z" fill="#000"/>
<rect x="535.2" y="352.0" width="149.8" height="205.7" fill="#d4d4d4"/>
<rect x="535.2" y="352.0" width="49.0" height="205.5" fill="#000"/>
<g clip-path="url(#c24)">
<rect x="535.2" y="352.0" width="49.0" height="205.5" fill="url(#tg41)" filter="url(#tf41)"/>
<rect x="535.2" y="352.0" width="16.0" height="72.0" fill="url(#tg42)" filter="url(#tf42)"/>
<g transform="rotate(-50 559.7 454.8)"><rect x="452.1" y="347.1" width="215.3" height="215.3" fill="url(#tg43)" filter="url(#tf43)"/></g>
<g transform="rotate(-78 559.7 454.8)"><rect x="452.1" y="347.1" width="215.3" height="215.3" fill="url(#tg44)" filter="url(#tf44)"/></g>
<path d="M534.2 555.5Q547.2 551.5 560.2 553.5T585.2 553" fill="none" stroke="#eee" stroke-width="1"/>
<rect x="535.2" y="555.5" width="49.0" height="2.5" fill="#000"/>
</g>
<rect x="548.8" y="355.9" width="34.4" height="33.8" fill="#000"/>
<g clip-path="url(#c25)">
<rect x="548.8" y="355.9" width="34.4" height="33.8" fill="url(#tg45)" filter="url(#tf45)"/>
</g>
<rect x="548.8" y="355.9" width="34.4" height="33.8" fill="none" stroke="#bbb" stroke-width="0.6"/>
<rect x="548.8" y="391.2" width="34.4" height="34.3" fill="#030303"/>
<g clip-path="url(#c26)">
<rect x="548.8" y="391.2" width="34.4" height="34.3" fill="url(#tg46)" filter="url(#tf46)"/>
<rect x="548.8" y="391.2" width="34.4" height="34.3" fill="url(#tg47)" filter="url(#tf47)"/>
<path d="M552.5 420.6C551.8 420.7 550.6 420.3 550.1 419.3C549.6 418.3 549.1 416.1 549.3 414.7C549.5 413.3 550.4 412.1 551.1 411.1C551.8 410.1 552.7 408.8 553.4 408.8C554.1 408.8 554.9 410.2 555.4 411.2C555.9 412.3 556.6 413.9 556.5 415.2C556.4 416.5 555.5 418.1 554.8 419.0C554.2 419.9 553.3 420.6 552.5 420.6Z" fill="#000" fill-opacity="0.3" stroke="#f4f4f4" stroke-width="0.7" stroke-dasharray="1.5 1.1"/>
<path d="M577.5 408.6C576.8 408.1 576.4 407.2 576.3 406.1C576.2 405.0 576.4 403.5 576.9 402.2C577.5 400.8 578.6 398.8 579.6 398.1C580.5 397.4 581.9 397.4 582.7 397.9C583.5 398.3 584.1 399.5 584.1 400.7C584.2 401.9 583.6 403.7 582.9 405.1C582.3 406.5 581.2 408.6 580.2 409.1C579.3 409.7 578.1 409.2 577.5 408.6Z" fill="#000" fill-opacity="0.3" stroke="#f4f4f4" stroke-width="0.7" stroke-dasharray="1.5 1.1"/>
<path d="M557.4 409.5C556.7 409.3 555.8 408.4 555.5 407.4C555.2 406.5 555.4 404.8 555.8 403.8C556.2 402.8 557.2 402.1 557.9 401.6C558.7 401.0 559.6 400.5 560.3 400.6C561.0 400.7 562.2 401.4 562.4 402.2C562.6 403.1 562.0 404.7 561.6 405.7C561.2 406.7 560.8 407.9 560.1 408.5C559.4 409.2 558.2 409.7 557.4 409.5Z" fill="#000" fill-opacity="0.3" stroke="#f4f4f4" stroke-width="0.7" stroke-dasharray="1.5 1.1"/>
<path d="M551.9 397.7C551.2 397.9 550.2 397.6 549.5 397.0C548.7 396.3 547.9 394.9 547.6 393.8C547.3 392.7 547.6 391.5 547.8 390.5C548.0 389.5 548.3 388.0 548.9 387.8C549.4 387.6 550.5 388.7 551.3 389.4C552.0 390.1 552.9 391.0 553.3 392.0C553.6 393.1 553.7 394.8 553.5 395.7C553.2 396.7 552.6 397.5 551.9 397.7Z" fill="#000" fill-opacity="0.3" stroke="#f4f4f4" stroke-width="0.7" stroke-dasharray="1.5 1.1"/>
<path d="M586.9 394.8C586.7 395.4 585.8 396.2 584.9 396.4C583.9 396.5 582.3 396.2 581.0 395.8C579.7 395.4 578.0 394.9 577.2 394.2C576.5 393.5 576.2 392.3 576.5 391.6C576.7 390.9 577.7 390.2 578.7 390.0C579.7 389.9 581.4 390.2 582.6 390.6C583.8 391.0 585.0 391.7 585.7 392.4C586.4 393.1 587.0 394.1 586.9 394.8Z" fill="#000" fill-opacity="0.3" stroke="#f4f4f4" stroke-width="0.7" stroke-dasharray="1.5 1.1"/>
<path d="M573.5 416.4C573.5 415.5 573.8 414.4 574.7 413.7C575.6 413.0 577.3 412.5 578.7 412.4C580.1 412.3 582.0 412.7 583.0 413.3C584.0 413.9 584.6 415.1 584.6 416.0C584.7 416.9 584.1 418.1 583.2 418.8C582.3 419.4 580.4 420.0 579.0 420.0C577.6 420.1 575.6 419.7 574.7 419.1C573.8 418.5 573.5 417.3 573.5 416.4Z" fill="#000" fill-opacity="0.3" stroke="#f4f4f4" stroke-width="0.7" stroke-dasharray="1.5 1.1"/>
<path d="M564.9 409.2C564.2 408.6 564.0 407.0 564.1 405.8C564.2 404.5 564.8 402.9 565.6 401.8C566.4 400.7 567.9 399.7 569.0 399.3C570.0 399.0 571.2 399.4 572.0 399.9C572.7 400.5 573.4 401.5 573.4 402.6C573.4 403.7 572.8 405.4 572.0 406.6C571.2 407.8 569.6 409.3 568.5 409.7C567.3 410.1 565.7 409.9 564.9 409.2Z" fill="#000" fill-opacity="0.3" stroke="#f4f4f4" stroke-width="0.7" stroke-dasharray="1.5 1.1"/>
</g>
<rect x="548.8" y="391.2" width="34.4" height="34.3" fill="none" stroke="#bbb" stroke-width="0.6"/>
<rect x="585.8" y="352.0" width="49.0" height="205.5" fill="#000"/>
<g clip-path="url(#c27)">
<rect x="585.8" y="352.0" width="49.0" height="205.5" fill="url(#tg48)" filter="url(#tf48)"/>
<rect x="585.8" y="352.0" width="16.0" height="72.0" fill="url(#tg49)" filter="url(#tf49)"/>
<g transform="rotate(-50 610.3 454.8)"><rect x="502.7" y="347.1" width="215.3" height="215.3" fill="url(#tg50)" filter="url(#tf50)"/></g>
<path d="M584.8000000000001 555.5Q597.8000000000001 551.5 610.8000000000001 553.5T635.8000000000001 553" fill="none" stroke="#eee" stroke-width="1"/>
<rect x="585.8" y="555.5" width="49.0" height="2.5" fill="#000"/>
</g>
<rect x="598.8" y="355.9" width="34.4" height="33.8" fill="#000"/>
<g clip-path="url(#c28)">
<rect x="598.8" y="355.9" width="34.4" height="33.8" fill="url(#tg51)" filter="url(#tf51)"/>
</g>
<rect x="598.8" y="355.9" width="34.4" height="33.8" fill="none" stroke="#bbb" stroke-width="0.6"/>
<rect x="598.8" y="391.2" width="34.4" height="34.3" fill="#030303"/>
<g clip-path="url(#c29)">
<rect x="598.8" y="391.2" width="34.4" height="34.3" fill="url(#tg52)" filter="url(#tf52)"/>
<rect x="598.8" y="391.2" width="34.4" height="34.3" fill="url(#tg53)" filter="url(#tf53)"/>
<path d="M624.9 430.0C624.4 430.2 623.6 429.8 622.8 429.0C621.9 428.3 620.5 426.9 619.9 425.6C619.2 424.2 618.9 422.0 618.8 420.8C618.8 419.7 619.1 418.7 619.6 418.5C620.1 418.3 621.1 418.9 621.9 419.7C622.7 420.6 623.7 422.0 624.4 423.5C625.1 424.9 626.0 427.2 626.1 428.3C626.2 429.4 625.5 429.9 624.9 430.0Z" fill="#000" fill-opacity="0.3" stroke="#f4f4f4" stroke-width="0.7" />
<path d="M631.4 417.0C630.8 417.5 629.4 417.3 628.2 416.5C627.1 415.6 625.5 413.4 624.6 411.8C623.6 410.3 622.7 408.4 622.4 407.2C622.1 406.0 622.4 405.0 622.9 404.5C623.4 404.1 624.5 403.7 625.5 404.4C626.5 405.1 628.1 407.3 629.0 408.8C630.0 410.3 630.9 412.1 631.3 413.4C631.7 414.8 631.9 416.5 631.4 417.0Z" fill="#000" fill-opacity="0.3" stroke="#f4f4f4" stroke-width="0.7" />
<path d="M620.6 405.9C620.4 406.5 619.5 407.0 618.3 407.1C617.2 407.2 615.1 407.0 613.7 406.5C612.3 406.1 611.0 405.2 610.0 404.5C609.0 403.8 607.5 402.7 607.6 402.2C607.7 401.6 609.3 401.4 610.6 401.3C611.8 401.1 613.7 401.0 615.2 401.4C616.6 401.8 618.5 402.9 619.4 403.7C620.4 404.4 620.8 405.3 620.6 405.9Z" fill="#000" fill-opacity="0.3" stroke="#f4f4f4" stroke-width="0.7" />
<path d="M611.9 402.1C611.4 402.7 610.3 403.1 608.9 402.7C607.6 402.4 605.3 401.4 603.8 400.2C602.3 399.0 600.7 397.1 599.9 395.6C599.1 394.2 598.3 392.1 598.9 391.5C599.4 390.9 601.6 391.3 603.2 391.8C604.8 392.3 606.9 393.2 608.4 394.4C610.0 395.7 611.7 397.8 612.3 399.1C612.8 400.4 612.5 401.5 611.9 402.1Z" fill="#000" fill-opacity="0.3" stroke="#f4f4f4" stroke-width="0.7" />
<path d="M598.7 408.4C598.8 407.9 599.3 407.2 600.2 406.6C601.1 405.9 602.7 404.9 604.2 404.5C605.6 404.2 607.4 404.3 608.8 404.4C610.1 404.5 612.2 404.6 612.3 405.0C612.5 405.5 610.8 406.6 609.6 407.3C608.5 408.0 606.9 408.6 605.3 409.0C603.7 409.5 600.9 410.2 599.8 410.1C598.8 410.0 598.7 409.0 598.7 408.4Z" fill="#000" fill-opacity="0.3" stroke="#f4f4f4" stroke-width="0.7" />
</g>
<rect x="598.8" y="391.2" width="34.4" height="34.3" fill="none" stroke="#bbb" stroke-width="0.6"/>
<rect x="636.0" y="352.0" width="49.2" height="205.5" fill="#000"/>
<g clip-path="url(#c30)">
<rect x="636.0" y="352.0" width="49.2" height="205.5" fill="url(#tg54)" filter="url(#tf54)"/>
<g transform="rotate(-50 660.6 454.8)"><rect x="552.9" y="347.1" width="215.3" height="215.3" fill="url(#tg55)" filter="url(#tf55)"/></g>
<g transform="rotate(-78 660.6 454.8)"><rect x="552.9" y="347.1" width="215.3" height="215.3" fill="url(#tg56)" filter="url(#tf56)"/></g>
<path d="M635.0 555.5Q648.0 551.5 661.0 553.5T686.0 553" fill="none" stroke="#eee" stroke-width="1"/>
<rect x="636.0" y="555.5" width="49.2" height="2.5" fill="#000"/>
</g>
<rect x="649.6" y="355.9" width="34.4" height="33.8" fill="#000"/>
<g clip-path="url(#c31)">
<rect x="649.6" y="355.9" width="34.4" height="33.8" fill="url(#tg57)" filter="url(#tf57)"/>
</g>
<rect x="649.6" y="355.9" width="34.4" height="33.8" fill="none" stroke="#bbb" stroke-width="0.6"/>
<rect x="649.6" y="391.2" width="34.4" height="34.3" fill="#030303"/>
<g clip-path="url(#c32)">
<rect x="649.6" y="391.2" width="34.4" height="34.3" fill="url(#tg58)" filter="url(#tf58)"/>
<rect x="649.6" y="391.2" width="34.4" height="34.3" fill="url(#tg59)" filter="url(#tf59)"/>
<path d="M660.1 402.5C659.8 401.9 660.7 400.4 661.2 399.3C661.7 398.2 662.2 397.0 663.2 396.1C664.2 395.2 665.9 394.3 667.1 394.0C668.2 393.8 669.6 394.0 669.9 394.6C670.3 395.2 669.7 396.6 669.2 397.6C668.7 398.7 667.9 399.8 666.9 400.7C665.9 401.6 664.2 402.8 663.1 403.1C662.0 403.4 660.5 403.2 660.1 402.5Z" fill="#000" fill-opacity="0.3" stroke="#f4f4f4" stroke-width="0.7" stroke-dasharray="1.5 1.1"/>
<path d="M669.2 417.8C668.8 418.3 667.5 418.2 666.5 417.8C665.6 417.4 664.4 416.3 663.5 415.3C662.7 414.4 661.8 413.0 661.5 412.0C661.3 411.0 661.4 409.8 661.9 409.4C662.4 409.0 663.7 409.3 664.7 409.7C665.6 410.2 666.7 411.0 667.5 411.9C668.3 412.8 669.1 414.1 669.4 415.0C669.7 416.0 669.7 417.3 669.2 417.8Z" fill="#000" fill-opacity="0.3" stroke="#f4f4f4" stroke-width="0.7" stroke-dasharray="1.5 1.1"/>
<path d="M660.2 423.1C659.7 423.5 658.4 423.0 657.5 422.7C656.7 422.3 655.7 421.7 654.8 420.8C654.0 420.0 652.8 418.5 652.5 417.6C652.3 416.8 652.9 415.9 653.4 415.6C653.9 415.2 654.7 415.0 655.6 415.3C656.5 415.6 658.0 416.3 658.8 417.2C659.6 418.1 660.2 419.6 660.5 420.6C660.7 421.6 660.7 422.8 660.2 423.1Z" fill="#000" fill-opacity="0.3" stroke="#f4f4f4" stroke-width="0.7" stroke-dasharray="1.5 1.1"/>
<path d="M650.4 406.9C649.8 406.4 649.9 404.9 650.0 403.8C650.1 402.7 650.4 401.6 651.0 400.5C651.6 399.3 652.7 397.6 653.6 397.1C654.5 396.6 655.8 396.8 656.4 397.3C657.0 397.7 657.2 398.9 657.2 400.0C657.2 401.0 657.0 402.7 656.3 403.8C655.7 404.9 654.2 406.1 653.3 406.6C652.3 407.1 650.9 407.3 650.4 406.9Z" fill="#000" fill-opacity="0.3" stroke="#f4f4f4" stroke-width="0.7" stroke-dasharray="1.5 1.1"/>
<path d="M667.0 416.4C666.8 415.8 668.0 414.8 669.0 414.1C669.9 413.5 671.3 412.6 672.6 412.4C674.0 412.2 676.1 412.3 677.2 412.7C678.2 413.1 679.0 414.1 678.9 414.8C678.9 415.5 677.8 416.2 676.9 416.9C676.0 417.5 674.7 418.4 673.5 418.6C672.3 418.8 670.7 418.4 669.6 418.0C668.5 417.7 667.1 417.1 667.0 416.4Z" fill="#000" fill-opacity="0.3" stroke="#f4f4f4" stroke-width="0.7" stroke-dasharray="1.5 1.1"/>
<path d="M658.7 398.8C658.0 399.0 656.6 398.6 655.8 397.8C655.1 397.0 654.5 395.2 654.2 393.9C653.9 392.6 653.9 391.0 654.1 390.0C654.4 388.9 655.2 387.7 655.9 387.5C656.7 387.4 657.8 388.5 658.5 389.3C659.2 390.1 659.8 391.3 660.1 392.4C660.4 393.5 660.5 395.0 660.3 396.0C660.1 397.1 659.5 398.5 658.7 398.8Z" fill="#000" fill-opacity="0.3" stroke="#f4f4f4" stroke-width="0.7" stroke-dasharray="1.5 1.1"/>
<path d="M668.4 395.9C667.9 395.3 667.1 394.3 667.5 393.6C668.0 392.8 669.9 391.9 671.1 391.3C672.3 390.7 673.6 389.9 674.6 389.9C675.7 389.8 677.0 390.4 677.3 391.0C677.6 391.7 677.0 392.9 676.4 393.8C675.9 394.8 675.0 395.9 674.0 396.6C672.9 397.2 671.1 397.7 670.1 397.6C669.2 397.5 668.8 396.6 668.4 395.9Z" fill="#000" fill-opacity="0.3" stroke="#f4f4f4" stroke-width="0.7" stroke-dasharray="1.5 1.1"/>
<path d="M686.8 407.4C686.7 408.0 686.2 408.7 685.3 408.8C684.5 409.0 682.9 408.7 681.8 408.3C680.6 407.9 678.9 407.1 678.2 406.4C677.5 405.6 677.2 404.4 677.4 403.8C677.7 403.1 678.7 402.4 679.8 402.3C680.8 402.2 682.6 402.8 683.7 403.3C684.8 403.8 685.9 404.6 686.4 405.3C687.0 406.0 687.0 406.8 686.8 407.4Z" fill="#000" fill-opacity="0.3" stroke="#f4f4f4" stroke-width="0.7" stroke-dasharray="1.5 1.1"/>
</g>
<rect x="649.6" y="391.2" width="34.4" height="34.3" fill="none" stroke="#bbb" stroke-width="0.6"/>
<line x1="672.5" y1="384.3" x2="681.0" y2="384.3" stroke="#fff" stroke-width="1.8" />
<line x1="670.0" y1="551.5" x2="682.0" y2="551.5" stroke="#fff" stroke-width="1.8" />
<text x="537.8" y="507.0" font-size="10.5" fill="#ececec" textLength="18.8" lengthAdjust="spacingAndGlyphs">SVZ</text>
<text x="537.8" y="541.0" font-size="10.5" fill="#ececec" textLength="12.5" lengthAdjust="spacingAndGlyphs">VZ</text>
<rect x="400.0" y="501.0" width="10.0" height="10.5" fill="none" stroke="#fff" stroke-width="0.9" stroke-dasharray="1.8 1.2"/>
<rect x="447.2" y="492.2" width="10.0" height="11.5" fill="none" stroke="#fff" stroke-width="0.9" stroke-dasharray="1.8 1.2"/>
<rect x="488.0" y="502.4" width="10.3" height="12.7" fill="none" stroke="#fff" stroke-width="0.9" stroke-dasharray="1.8 1.2"/>
<rect x="562.4" y="514.8" width="11.5" height="11.4" fill="none" stroke="#fff" stroke-width="0.9" stroke-dasharray="1.8 1.2"/>
<rect x="600.0" y="510.9" width="11.0" height="11.5" fill="none" stroke="#fff" stroke-width="0.9" stroke-dasharray="1.8 1.2"/>
<rect x="671.5" y="518.6" width="9.7" height="11.5" fill="none" stroke="#fff" stroke-width="0.9" stroke-dasharray="1.8 1.2"/>
<text x="108.0" y="590.8" font-size="21" font-weight="bold">h</text>
<rect x="137.4" y="600.2" width="48.0" height="14.4" fill="#fff" stroke="#707070" stroke-width="1.2"/>
<text x="161.4" y="612.5" font-size="13" text-anchor="middle" textLength="43.5" lengthAdjust="spacingAndGlyphs">Control</text>
<rect x="187.9" y="600.2" width="48.6" height="14.4" fill="#fff" stroke="#707070" stroke-width="1.2"/>
<text x="212.2" y="612.5" font-size="13" text-anchor="middle" textLength="23.5" lengthAdjust="spacingAndGlyphs">cKO</text>
<rect x="108.6" y="616.0" width="27.2" height="51.7" fill="#fff" stroke="#707070" stroke-width="1.2"/>
<text x="120.2" y="643.2" font-size="13" text-anchor="middle" textLength="27.6" lengthAdjust="spacingAndGlyphs" transform="rotate(-90 120.2 643.2)">E14.5</text>
<text x="133.4" y="642.6" font-size="13" text-anchor="middle" fill="#e3242b" textLength="28.7" lengthAdjust="spacingAndGlyphs" transform="rotate(-90 133.4 642.6)">HES1</text>
<rect x="137.4" y="616.0" width="99.1" height="51.4" fill="#9a9a9a"/>
<rect x="137.4" y="616.0" width="49.5" height="51.2" fill="#000"/>
<g clip-path="url(#c33)">
<rect x="137.4" y="616.0" width="49.5" height="51.2" fill="url(#tg60)" filter="url(#tf60)"/>
<path d="M136.4 663.5Q147.4 661.5 157.4 662T187.4 662" fill="none" stroke="#eee" stroke-width="1"/>
<rect x="137.4" y="663.8" width="49.5" height="5.0" fill="#000"/>
</g>
<rect x="187.9" y="616.0" width="48.6" height="51.2" fill="#000"/>
<g clip-path="url(#c34)">
<g mask="url(#tm61)"><rect x="187.9" y="616.0" width="48.6" height="51.2" fill="url(#tg61)" filter="url(#tf61)"/></g>
<path d="M186.9 661.5Q197.9 659.5 207.9 660.5T229.9 659.5L237.9 660" fill="none" stroke="#eee" stroke-width="1"/>
<rect x="187.9" y="662.0" width="48.6" height="6.0" fill="#000"/>
<line x1="215.9" y1="665.0" x2="234.9" y2="665.0" stroke="#fff" stroke-width="1.6" />
</g>
<path d="M146 640.5h6.5" fill="none" stroke="#fff" stroke-width="1.5"/>
<path d="M144.0 640.5l4.5 -2.5l-1.3 2.5l1.3 2.5z" fill="#fff"/>
<path d="M178.7 650.7l-8.0 -4.4l2.4 4.4l-2.4 4.4z" fill="#fff"/>
<path d="M200 648.3h6.3" fill="none" stroke="#fff" stroke-width="1.5"/>
<path d="M198.0 648.3l4.5 -2.5l-1.3 2.5l1.3 2.5z" fill="#fff"/>
<path d="M224.7 651.7l8.5 -4.7l-2.5 4.7l2.5 4.7z" fill="#fff"/>
<text x="139.9" y="657.8" font-size="11" fill="#eeeeee" textLength="13.2" lengthAdjust="spacingAndGlyphs">VZ</text>
<text x="0.0" y="318.2" font-size="21" font-weight="bold">f</text>
<text x="23.7" y="330.8" font-size="9" textLength="110.4" lengthAdjust="spacingAndGlyphs">cKO-downregulated genes</text>
<text x="140.2" y="330.8" font-size="9" textLength="98.6" lengthAdjust="spacingAndGlyphs">cKO-upregulated genes</text>
<line x1="23.7" y1="334.4" x2="243.9" y2="334.4" stroke="#b0b0b0" stroke-width="0.9" />
<line x1="26.5" y1="335.3" x2="26.5" y2="543.5" stroke="#333" stroke-width="1.1" />
<line x1="26.0" y1="543.1" x2="243.0" y2="543.1" stroke="#333" stroke-width="1.1" />
<line x1="24.6" y1="535.6" x2="26.5" y2="535.6" stroke="#333" stroke-width="0.8" />
<text x="24.3" y="538.5" font-size="8" text-anchor="end" fill="#222">0</text>
<line x1="24.6" y1="474.0" x2="26.5" y2="474.0" stroke="#333" stroke-width="0.8" />
<text x="24.3" y="476.9" font-size="8" text-anchor="end" fill="#222">100</text>
<line x1="24.6" y1="412.3" x2="26.5" y2="412.3" stroke="#333" stroke-width="0.8" />
<text x="24.3" y="415.2" font-size="8" text-anchor="end" fill="#222">200</text>
<line x1="24.6" y1="350.7" x2="26.5" y2="350.7" stroke="#333" stroke-width="0.8" />
<text x="24.3" y="353.6" font-size="8" text-anchor="end" fill="#222">300</text>
<line x1="80.7" y1="543.1" x2="80.7" y2="545.5" stroke="#000" stroke-width="0.8" />
<text x="80.7" y="552.5" font-size="8.5" text-anchor="middle" fill="#222">−2</text>
<line x1="131.5" y1="543.1" x2="131.5" y2="545.5" stroke="#000" stroke-width="0.8" />
<text x="131.5" y="552.5" font-size="8.5" text-anchor="middle" fill="#222">0</text>
<line x1="182.3" y1="543.1" x2="182.3" y2="545.5" stroke="#000" stroke-width="0.8" />
<text x="182.3" y="552.5" font-size="8.5" text-anchor="middle" fill="#222">2</text>
<line x1="233.1" y1="543.1" x2="233.1" y2="545.5" stroke="#000" stroke-width="0.8" />
<text x="233.1" y="552.5" font-size="8.5" text-anchor="middle" fill="#222">4</text>
<line x1="131.5" y1="335.5" x2="131.5" y2="543.0" stroke="#444" stroke-width="0.8" stroke-dasharray="0.8 1.2"/>
<text x="140.5" y="559.6" font-size="9.5" text-anchor="middle" textLength="167.0" lengthAdjust="spacingAndGlyphs">E14.5 progenitors - Normalized effect size</text>
<text x="8.4" y="469.8" font-size="7.8" textLength="52.8" lengthAdjust="spacingAndGlyphs" transform="rotate(-90 8.4 469.8)">-log<tspan font-size="5" dy="1.3">10</tspan><tspan dy="-1.3"> q-value</tspan></text>
<path d="M117.4 531.9h0M124.5 525.4h0M147.0 530.2h0M139.9 534.2h0M139.5 529.9h0M121.2 529.6h0M123.6 529.2h0M138.5 468.4h0M159.8 524.3h0M147.8 530.5h0M125.2 531.4h0M140.4 527.8h0M131.9 533.4h0M121.1 530.3h0M127.6 525.6h0M132.7 534.1h0M144.6 527.2h0M129.3 525.4h0M125.2 529.3h0M125.8 528.8h0M158.4 509.4h0M144.7 531.6h0M121.5 532.0h0M135.6 531.3h0M133.4 533.4h0M128.9 534.1h0M137.7 531.9h0M108.6 523.3h0M102.3 518.9h0M125.2 531.9h0M143.6 498.4h0M118.2 525.9h0M132.7 533.7h0M160.4 522.3h0M131.5 533.5h0M138.8 533.8h0M113.2 525.3h0M128.7 534.9h0M113.3 496.8h0M129.9 535.1h0M148.6 518.0h0M134.6 534.9h0M109.0 497.1h0M119.1 533.8h0M129.8 530.8h0M113.3 524.7h0M124.2 534.0h0M116.8 520.3h0M144.0 519.0h0M124.7 533.0h0M134.2 532.7h0M144.4 533.2h0M119.3 533.4h0M131.3 534.3h0M147.7 502.8h0M135.0 534.7h0M105.1 530.3h0M141.7 532.0h0M118.8 531.4h0M128.2 534.2h0M143.0 521.3h0M144.0 532.1h0M132.9 532.0h0M151.5 530.1h0M144.8 528.7h0M161.4 522.6h0M143.0 519.4h0M150.7 498.7h0M127.3 514.1h0M140.5 525.2h0M120.9 531.8h0M119.5 528.8h0M120.9 530.4h0M129.0 533.0h0M140.0 528.7h0M118.9 497.5h0M117.4 522.6h0M121.3 532.8h0M136.0 534.3h0M127.6 533.3h0M126.8 522.2h0M141.7 533.8h0M140.1 521.7h0M134.9 531.7h0M149.6 521.9h0M139.8 531.8h0M108.0 514.2h0M137.2 533.1h0M135.0 533.0h0M137.2 534.2h0M135.9 533.7h0M145.7 516.8h0M148.1 520.1h0M121.0 533.9h0M130.2 533.8h0M117.0 527.1h0M130.9 535.2h0M127.3 532.5h0M124.1 532.5h0M132.7 532.6h0M137.7 531.9h0M123.8 518.8h0M134.2 534.4h0M138.1 533.5h0M126.6 531.3h0M114.1 516.6h0M118.4 532.5h0M133.3 533.6h0M122.7 522.4h0M143.7 532.9h0M132.6 533.8h0M112.9 496.8h0M140.7 531.2h0M128.5 532.4h0M151.3 528.8h0M136.9 533.2h0M148.1 523.0h0M139.7 528.7h0M149.4 528.8h0M127.5 525.8h0M138.8 520.7h0M156.3 460.5h0M128.4 532.7h0M130.6 534.9h0M142.2 532.4h0M125.1 532.2h0M143.2 528.1h0M138.6 531.6h0M139.6 532.1h0M105.4 528.4h0M106.1 525.6h0M126.4 531.5h0M126.9 529.7h0M137.1 522.2h0M135.7 534.0h0M135.7 534.4h0M131.6 534.8h0M133.8 534.6h0M122.4 526.8h0M122.7 529.8h0M110.8 513.6h0M126.1 531.6h0M139.2 529.5h0M114.9 525.4h0M135.1 532.5h0M149.2 530.3h0M121.2 526.9h0M132.7 534.6h0M124.3 530.1h0M140.5 526.5h0M142.4 530.9h0M138.5 534.8h0M126.9 533.8h0M133.3 532.4h0M106.9 520.1h0M140.5 533.6h0M131.6 535.6h0M164.0 492.6h0M126.1 532.1h0M131.7 534.2h0M137.7 533.0h0M147.0 532.2h0M130.3 534.4h0M127.5 533.9h0M127.0 530.3h0M119.9 519.0h0M125.2 534.7h0M120.6 531.5h0M130.5 534.0h0M143.4 530.0h0M139.8 531.2h0M139.9 498.3h0M122.8 534.4h0M126.2 530.9h0M145.6 528.9h0M131.7 533.4h0M144.8 531.3h0M142.5 530.3h0M137.5 533.8h0M147.3 517.4h0M115.4 533.6h0M144.8 532.4h0M137.8 532.5h0M106.8 533.0h0M132.6 534.9h0M137.1 525.1h0M88.7 507.9h0M128.7 533.1h0M133.8 530.0h0M132.3 534.8h0M140.6 521.0h0M111.9 517.4h0M157.0 531.4h0M130.3 534.4h0M122.1 525.9h0M126.5 534.5h0M142.9 520.5h0M118.7 526.8h0M132.6 534.5h0M140.2 529.6h0M124.2 529.1h0M111.5 527.4h0M109.1 529.9h0M129.1 533.8h0M138.9 534.1h0M136.1 533.9h0M130.4 535.1h0M131.4 535.1h0M131.1 535.0h0M126.5 531.6h0M126.4 529.2h0M133.7 533.9h0M121.6 530.0h0M132.9 534.2h0M107.8 463.4h0M136.5 531.2h0M145.9 525.6h0M129.7 533.0h0M126.2 534.0h0M112.7 492.1h0M133.6 531.7h0M137.0 530.9h0M130.3 535.0h0M131.8 534.7h0M142.8 530.5h0M144.1 518.2h0M141.1 525.6h0M123.0 532.9h0M125.1 532.9h0M133.1 533.7h0M125.2 532.1h0M124.2 524.2h0M108.9 533.3h0M157.3 530.7h0M138.0 526.6h0M130.2 534.6h0M126.9 532.5h0M123.2 525.1h0M148.3 519.7h0M155.0 524.8h0M131.0 534.7h0M123.0 530.9h0M140.3 533.5h0M129.6 535.1h0M131.7 535.5h0M146.3 525.1h0M115.3 520.6h0M134.7 533.5h0M133.8 533.3h0M130.7 535.1h0M126.4 532.6h0M150.8 524.8h0M123.7 530.7h0M138.8 532.7h0M135.2 533.9h0M134.3 533.1h0M119.4 526.1h0M129.9 532.3h0M122.5 533.8h0M136.4 534.6h0M142.2 529.5h0M112.5 534.4h0M120.7 532.7h0M128.2 533.2h0M142.3 529.6h0M140.0 531.3h0M134.3 533.5h0M156.3 499.1h0M140.9 525.3h0M134.0 531.9h0M156.7 529.6h0M143.3 531.9h0M145.8 529.2h0M145.8 531.7h0M104.8 523.4h0M111.5 518.6h0M133.9 533.0h0M134.1 534.6h0M127.3 523.5h0M135.0 532.6h0M124.9 534.4h0M131.4 534.8h0M114.2 533.6h0M126.1 532.3h0M148.8 520.5h0M120.7 532.4h0M149.5 532.8h0M151.7 531.3h0M137.4 533.1h0M149.0 528.3h0M117.4 518.8h0M121.1 514.4h0M115.4 519.5h0M151.7 525.2h0M128.5 534.8h0M140.6 463.5h0M152.9 531.1h0M148.6 530.5h0M130.9 534.8h0M149.0 532.5h0M142.7 528.7h0M137.4 532.3h0M119.1 526.5h0M141.8 533.1h0M115.5 528.6h0M129.7 534.2h0M125.9 531.7h0M135.1 530.7h0M125.5 520.5h0M156.0 525.5h0M120.7 524.7h0M133.6 532.9h0M123.2 533.0h0M120.9 532.1h0M144.9 533.2h0M141.0 531.7h0M136.5 527.5h0M135.3 534.0h0M131.2 535.0h0M77.3 523.0h0M122.3 528.3h0M135.5 533.8h0M117.8 534.2h0M119.9 532.2h0M137.0 531.9h0M133.3 534.8h0M148.1 499.0h0M122.7 528.9h0M121.3 523.0h0M145.7 520.5h0M128.9 535.0h0M136.9 529.1h0M138.9 532.1h0M122.5 491.1h0M137.5 528.8h0M135.9 524.2h0M144.7 530.4h0M134.2 534.5h0M140.2 534.1h0M108.3 523.8h0M136.5 534.0h0M139.8 526.1h0M141.7 532.5h0M143.2 511.2h0M135.0 533.7h0M124.5 525.6h0M136.9 527.7h0M130.0 533.9h0M137.2 527.5h0M127.4 533.6h0M156.9 527.8h0M99.5 518.2h0M122.2 528.0h0M145.5 527.5h0M116.2 523.0h0M134.5 534.0h0M115.7 526.5h0M119.3 531.7h0M174.4 526.0h0M127.9 532.1h0M130.0 535.1h0M136.9 531.4h0M104.6 519.1h0M146.5 517.9h0M129.8 533.5h0M112.5 526.2h0M120.5 532.2h0M134.6 534.7h0M139.0 529.1h0M127.8 532.6h0M126.2 528.2h0M113.9 528.0h0M146.6 526.6h0M131.8 533.7h0M123.1 532.5h0M156.3 531.6h0M130.0 534.1h0M118.2 524.6h0M126.3 533.0h0M142.2 526.6h0M116.3 531.2h0M140.0 533.5h0M139.8 526.2h0M136.5 527.6h0M130.7 534.6h0M141.3 523.9h0M101.6 518.1h0M141.3 532.0h0M133.1 533.6h0M116.7 525.8h0M98.1 519.0h0M146.7 532.1h0M118.3 534.5h0M113.4 531.8h0M149.3 516.7h0M132.2 533.9h0M143.0 531.0h0M130.9 535.2h0M134.3 534.8h0M108.4 533.0h0M121.9 535.1h0M127.6 519.0h0M131.9 533.8h0M128.0 529.7h0M144.6 529.8h0M149.8 528.2h0M131.5 535.2h0M124.9 515.9h0M118.0 533.1h0M152.0 519.0h0M123.4 515.4h0M138.4 533.3h0M141.8 522.5h0M147.3 533.5h0M108.0 529.0h0M130.3 535.2h0M129.4 513.8h0M122.6 521.1h0M117.3 509.5h0M129.8 533.3h0M129.8 533.1h0M124.1 516.4h0M134.0 530.9h0M113.7 527.9h0M130.0 534.5h0M130.1 534.6h0M138.6 534.1h0M110.7 462.2h0M122.7 530.6h0M138.3 532.7h0M111.1 510.6h0M117.3 527.2h0M139.7 534.9h0M150.0 466.0h0M134.1 532.7h0M150.9 531.9h0M126.9 532.9h0M130.1 534.8h0M137.3 534.6h0M130.2 532.4h0M120.1 487.9h0M137.7 531.4h0M114.9 528.1h0M134.3 530.3h0M137.9 533.1h0M127.7 524.5h0M152.3 501.8h0M134.5 529.6h0M140.8 534.4h0M125.8 532.8h0M139.1 533.3h0M136.0 534.6h0M123.7 534.2h0M121.4 532.1h0M138.2 532.4h0M138.8 531.9h0M123.7 533.5h0M145.4 501.4h0M118.2 529.0h0M148.1 527.4h0M124.8 530.8h0M117.4 530.8h0M115.3 533.2h0M120.1 528.9h0M128.7 535.1h0M116.2 530.5h0M135.5 533.9h0M139.1 534.5h0M135.5 531.4h0M114.4 532.9h0M102.1 532.7h0M118.8 530.3h0M115.8 529.9h0M122.9 533.0h0M129.6 531.2h0M133.1 533.6h0M109.4 522.5h0M146.8 533.5h0M145.5 526.6h0M126.1 534.8h0M123.1 519.3h0M130.8 533.6h0M151.6 509.5h0M157.6 520.7h0M132.0 534.1h0M154.7 526.6h0M128.3 535.2h0M146.9 530.8h0M160.6 492.0h0M130.8 533.1h0M124.9 534.0h0M135.1 533.1h0M122.8 514.1h0M132.2 533.5h0M116.6 530.5h0M133.2 535.3h0M142.3 533.0h0M163.0 522.3h0M149.0 533.6h0M129.2 531.5h0M145.6 524.2h0M139.2 532.5h0M137.7 533.1h0M148.9 528.3h0M134.4 534.1h0M125.3 534.8h0M137.8 533.5h0M122.4 531.8h0M153.9 512.2h0M143.2 530.9h0M134.7 533.0h0M144.9 532.6h0M133.3 534.2h0M144.3 527.4h0M126.2 532.7h0M134.7 533.7h0M125.9 532.6h0M102.8 515.6h0M149.1 521.4h0M117.9 523.0h0M135.9 532.4h0M138.0 522.0h0M117.1 534.4h0M122.1 532.9h0M141.9 532.6h0M127.8 534.3h0M132.4 533.6h0M134.5 534.3h0M123.5 525.1h0M134.1 528.5h0M121.8 532.6h0M128.9 535.1h0M110.1 514.0h0M138.9 533.9h0M119.4 528.1h0M123.5 534.1h0M131.9 534.2h0M145.2 533.6h0M132.0 534.6h0M133.0 534.7h0M136.8 535.2h0M119.9 533.3h0M128.2 534.6h0M124.9 501.6h0M129.0 532.7h0M130.0 534.8h0M143.5 530.5h0M153.8 515.5h0M145.2 516.5h0M133.4 532.6h0M118.9 524.7h0M133.7 529.1h0M142.7 516.1h0M151.3 495.2h0M121.7 524.5h0M118.4 527.4h0M125.6 531.0h0M127.5 535.2h0M141.6 530.3h0M128.7 529.4h0M129.7 530.9h0M144.0 527.1h0M135.8 534.5h0M136.7 528.5h0M133.0 530.1h0M141.3 527.4h0M126.7 532.0h0M125.3 522.4h0M128.3 527.0h0M122.3 529.6h0M131.7 533.5h0M127.6 529.3h0M140.0 530.9h0M121.2 514.3h0M120.1 531.5h0M149.2 529.8h0M150.6 524.2h0M144.5 503.0h0M146.0 529.6h0M130.5 534.8h0M131.2 531.3h0M131.7 534.1h0M154.4 511.2h0M101.5 520.2h0M153.8 508.8h0M133.7 534.6h0M129.8 532.8h0M147.5 523.9h0M121.6 532.8h0M105.6 520.3h0M112.6 520.8h0M130.7 534.7h0M152.3 526.9h0M138.8 521.1h0M143.7 531.8h0M134.5 534.3h0M131.6 535.3h0M148.2 529.4h0M109.0 531.1h0M159.4 526.2h0M115.8 529.3h0M131.1 533.1h0M140.1 530.4h0M130.5 534.6h0M142.2 520.6h0M132.1 535.0h0M133.2 528.8h0M126.2 532.3h0M131.3 535.4h0M125.9 532.8h0M146.8 521.3h0M138.5 532.5h0M125.1 534.5h0M115.1 525.8h0M118.2 532.6h0M126.9 533.6h0M94.5 375.0h0M130.8 534.1h0M118.4 521.7h0M120.0 532.1h0M135.9 528.8h0M132.1 533.1h0M143.0 534.3h0M137.7 531.5h0M128.8 533.6h0M139.6 531.9h0M118.6 530.4h0M129.4 533.3h0M137.8 533.3h0M131.0 535.2h0M121.4 532.2h0M140.3 533.2h0M151.9 524.1h0M115.7 529.3h0M151.9 522.1h0M126.7 533.0h0M138.6 533.9h0M135.3 531.0h0M118.9 532.6h0M147.7 529.2h0M120.5 522.1h0M125.2 531.3h0M140.1 531.8h0M145.6 531.3h0M127.1 530.8h0M140.2 530.8h0M92.6 520.2h0M131.2 534.8h0M142.1 527.2h0M147.9 487.3h0M129.0 531.5h0M140.6 527.1h0M127.6 530.7h0M136.6 533.8h0M147.2 532.4h0M130.1 534.8h0M127.6 530.4h0M126.2 530.3h0M117.6 516.4h0M141.0 528.5h0M133.2 534.2h0M159.4 469.5h0M139.3 523.7h0M132.2 534.0h0M146.4 515.8h0M158.2 518.8h0M138.8 532.8h0M131.7 535.3h0M117.3 530.3h0M144.8 532.6h0M133.2 534.3h0M135.6 533.1h0M139.2 531.8h0M144.5 515.5h0M153.4 528.8h0M150.1 532.0h0M122.1 517.4h0M124.0 532.0h0M125.8 533.6h0M138.7 533.2h0M128.0 534.8h0M136.3 530.4h0M120.5 533.9h0M125.9 529.7h0M147.5 505.3h0M138.5 535.0h0M129.5 533.2h0M116.4 524.4h0M138.7 529.3h0M117.8 530.8h0M123.3 533.2h0M137.8 532.1h0M160.3 405.7h0M149.6 525.4h0M151.9 468.3h0M135.0 533.8h0M114.0 519.0h0M128.6 522.4h0M145.0 530.5h0M142.9 530.3h0M115.9 514.9h0M138.6 528.9h0M131.2 533.5h0M135.2 533.9h0M130.2 534.6h0M108.9 439.4h0M136.2 531.0h0M124.9 534.4h0M148.7 522.5h0M105.2 450.1h0M118.1 519.3h0M142.1 519.6h0M144.3 532.1h0M140.8 531.9h0M141.0 519.4h0M137.6 533.1h0M162.6 456.5h0M126.4 534.2h0M119.6 511.4h0M131.5 535.1h0M138.2 533.9h0M144.3 533.5h0M117.4 531.4h0M125.9 533.5h0M136.8 534.1h0M144.6 524.3h0M137.9 532.8h0M185.1 519.1h0M136.8 529.0h0M143.7 518.9h0M123.1 532.9h0M108.6 525.4h0M118.6 521.7h0M125.7 534.8h0M124.2 532.1h0M128.9 524.0h0M136.0 532.6h0M136.4 533.5h0M107.7 517.6h0M125.5 499.9h0M144.3 522.0h0M140.9 522.3h0M117.4 512.3h0M123.7 533.5h0M133.0 534.5h0M124.6 533.9h0M153.7 504.8h0M129.1 534.0h0M146.6 518.1h0M135.7 534.5h0M117.4 527.9h0M119.9 532.7h0M161.4 529.6h0M135.5 533.4h0M139.0 532.4h0M123.3 533.1h0M128.6 534.0h0M120.0 525.1h0M128.5 535.3h0M147.1 530.3h0M134.7 532.5h0M120.0 533.6h0M130.3 534.0h0M127.5 531.0h0M121.1 533.6h0M127.6 533.6h0M127.3 526.7h0M116.1 532.0h0M115.9 531.0h0M143.3 500.4h0M148.8 526.4h0M136.2 533.7h0M134.2 534.9h0M134.7 533.0h0M161.8 503.7h0M118.9 527.1h0M138.4 488.6h0M127.4 533.6h0M119.6 529.3h0M128.0 535.0h0M141.3 497.3h0M138.1 480.6h0M127.8 523.3h0M138.0 526.4h0M137.1 531.0h0M137.3 527.4h0M120.4 532.3h0M107.2 523.2h0M123.4 521.8h0M127.2 532.6h0M130.8 533.8h0M148.2 534.4h0M117.9 527.2h0M125.1 533.7h0M126.0 531.8h0M107.6 530.3h0M112.2 533.4h0M117.1 531.4h0M134.4 533.1h0M140.8 518.5h0M119.5 518.4h0M129.0 534.9h0M139.1 532.4h0M137.6 517.7h0M123.5 533.6h0M131.4 535.3h0M118.0 530.3h0M133.0 534.7h0M119.4 517.0h0M134.4 534.3h0M142.2 530.8h0M132.6 534.3h0M151.4 487.1h0M132.4 533.0h0M133.5 530.7h0M143.8 527.6h0M138.5 516.7h0M102.7 528.0h0M137.7 528.3h0M125.1 533.2h0M142.3 509.5h0M130.1 530.3h0M123.9 533.9h0M133.9 535.1h0M132.9 532.7h0M131.3 534.8h0M123.1 530.6h0M138.1 528.2h0M126.8 529.5h0M134.4 531.7h0M130.3 532.6h0M142.0 532.3h0M106.0 531.3h0M132.3 534.6h0M110.0 530.3h0M124.7 500.1h0M142.0 515.9h0M128.2 534.2h0M140.5 515.0h0M94.6 443.0h0M136.2 527.4h0M128.3 533.8h0M122.4 519.3h0M102.4 501.6h0M155.8 495.6h0M133.5 535.0h0M136.7 527.5h0M108.4 528.3h0M134.1 531.7h0M134.8 534.4h0M127.1 532.3h0M132.6 534.2h0M128.7 534.7h0M130.5 535.1h0M143.0 530.6h0M126.3 530.1h0M137.5 533.2h0M145.7 518.3h0M105.7 533.2h0M131.9 533.8h0M134.1 532.2h0M113.2 523.2h0M114.1 532.9h0M135.2 531.3h0M136.2 534.1h0M153.5 525.0h0M130.0 532.1h0M136.9 532.2h0M146.8 531.9h0M150.9 533.3h0M130.1 533.9h0M145.0 526.5h0M133.9 532.9h0M139.2 532.3h0M106.2 528.5h0M136.6 534.0h0M138.6 530.8h0M123.2 533.3h0M121.9 528.9h0M131.3 534.7h0M131.9 533.3h0M142.1 527.1h0M133.3 534.8h0M126.1 527.6h0M109.0 501.6h0M129.7 528.6h0M131.7 535.4h0M143.7 518.0h0M127.3 533.6h0M121.1 527.6h0M133.0 533.8h0M151.9 531.7h0M135.6 532.8h0M125.0 520.2h0M130.9 535.0h0M137.9 533.3h0M117.0 523.1h0M131.2 534.9h0M121.0 528.7h0M128.7 534.5h0M127.5 534.9h0M88.5 531.0h0M139.0 532.3h0M133.3 535.2h0M122.6 533.3h0M124.0 533.3h0M127.3 534.2h0M139.1 529.1h0M141.5 465.1h0M119.0 525.9h0M143.2 519.8h0M123.0 531.5h0M139.0 530.2h0M121.5 527.6h0M142.8 524.2h0M146.9 533.5h0M147.0 531.9h0M128.7 534.7h0M146.4 523.0h0M127.4 534.1h0M133.6 532.5h0M128.2 533.1h0M133.5 532.9h0M108.0 511.2h0M126.6 533.7h0M137.9 534.6h0M138.2 532.8h0M146.6 516.0h0M127.7 534.5h0M150.5 532.4h0M124.3 534.9h0M105.2 511.1h0M135.7 534.1h0M125.0 532.4h0M121.5 515.9h0M119.8 502.6h0M138.7 533.1h0M131.5 535.0h0M136.4 530.6h0M126.1 528.7h0M141.4 530.9h0M148.7 506.6h0M132.1 534.8h0M134.8 517.5h0M135.7 533.0h0M100.9 495.3h0M131.4 535.1h0M149.2 506.9h0M157.0 528.8h0M121.0 519.4h0M132.9 534.2h0M131.9 535.1h0M150.6 513.0h0M151.2 527.6h0M130.6 533.8h0M138.9 531.4h0M128.9 533.4h0M145.5 512.7h0M118.7 529.2h0M120.3 532.2h0M124.4 529.9h0M119.3 516.9h0M137.1 534.1h0M132.9 534.9h0M128.8 533.1h0M115.6 525.9h0M130.1 534.7h0M134.0 531.7h0M124.2 534.4h0M146.7 530.4h0M129.2 532.9h0M120.8 516.4h0M141.7 530.6h0M157.4 509.3h0M133.2 534.8h0M125.1 529.6h0M121.1 530.5h0M148.7 505.9h0M142.9 534.6h0M130.3 534.2h0M118.9 518.0h0M138.2 533.9h0M132.2 535.4h0M126.5 527.8h0M127.6 533.9h0M143.8 502.1h0M94.9 526.8h0M119.0 534.8h0M130.9 535.2h0M124.9 533.1h0M114.6 529.8h0M129.6 532.7h0M148.6 512.6h0M119.7 521.5h0M128.3 532.3h0M131.7 535.4h0M153.3 528.2h0M130.4 533.6h0M141.1 534.2h0M125.5 532.1h0M140.2 518.9h0M133.3 527.3h0M149.0 517.6h0M138.6 533.3h0M135.1 533.7h0M116.0 492.8h0M117.5 530.5h0M126.0 534.5h0M117.2 528.2h0M137.6 531.9h0M140.9 534.6h0M131.9 532.4h0M128.4 530.6h0M128.2 529.8h0M135.9 531.9h0M119.3 509.8h0M127.7 531.6h0M140.0 528.1h0M135.3 534.0h0M151.0 512.5h0M127.2 534.6h0M145.2 522.5h0M108.2 523.5h0M139.5 530.8h0M150.1 533.5h0M129.5 532.5h0M127.0 533.7h0M134.9 533.4h0M136.4 521.7h0M137.7 532.8h0M132.8 534.7h0M129.0 533.5h0M138.0 530.4h0M142.7 529.0h0M128.8 531.7h0M138.1 499.3h0M118.0 530.7h0M122.4 531.4h0M124.3 533.9h0M129.9 534.1h0M116.9 528.3h0M149.8 528.1h0M141.1 511.3h0M137.1 529.4h0M132.1 533.8h0M137.6 533.7h0M140.0 531.5h0M130.2 534.1h0M139.7 533.2h0M151.3 533.4h0M136.1 527.0h0M124.9 532.5h0M119.6 512.4h0M114.0 533.2h0M121.0 522.7h0M141.7 522.0h0M125.1 525.9h0M140.6 532.7h0M101.9 508.5h0M122.3 526.3h0M127.6 531.4h0M138.3 534.5h0M135.6 531.1h0M131.1 530.3h0M106.3 473.5h0M144.4 531.8h0M143.9 503.5h0M117.1 531.8h0M121.6 519.9h0M105.6 514.9h0M120.4 531.8h0M132.8 527.4h0M136.0 534.7h0M114.1 532.6h0M118.9 532.9h0M141.5 532.8h0M164.6 476.6h0M114.7 524.3h0M139.6 531.6h0M124.4 533.1h0M123.4 533.6h0M144.9 529.6h0M134.0 533.9h0M121.1 527.4h0M122.5 521.9h0M140.3 532.5h0M120.3 529.2h0M128.1 531.5h0M119.2 529.6h0M123.1 525.3h0M115.5 518.7h0M106.9 532.2h0M115.0 523.9h0M139.9 532.0h0M146.5 529.8h0M140.8 532.3h0M114.6 532.7h0M121.7 529.7h0M130.9 534.7h0M113.6 528.8h0M101.8 522.0h0M144.0 529.0h0M133.2 534.7h0M122.9 518.2h0M145.7 526.1h0M122.9 530.7h0M127.5 532.2h0M135.7 525.4h0M123.6 527.8h0M152.4 530.3h0M131.5 534.7h0M113.9 531.4h0M121.7 530.7h0M127.8 533.6h0M142.8 530.9h0M139.3 532.0h0M114.3 528.6h0M130.9 534.9h0M127.1 526.6h0M134.2 534.1h0M109.6 434.5h0M146.0 532.6h0M136.5 534.4h0M136.5 528.9h0M115.0 532.4h0M126.8 531.7h0M122.4 523.0h0M138.3 527.9h0M129.6 534.3h0M126.3 523.4h0M143.3 531.7h0M120.5 525.1h0M144.7 528.4h0M118.8 532.6h0M133.4 532.1h0M112.5 505.6h0M119.0 521.1h0M141.9 488.2h0M138.8 531.4h0M123.2 488.6h0M119.2 514.8h0M121.1 533.6h0M134.6 533.6h0M135.2 533.2h0M121.1 531.7h0M152.9 491.2h0M141.9 531.0h0M135.9 534.7h0M116.4 521.7h0M125.3 531.7h0M127.4 534.6h0M137.4 532.1h0M150.5 528.6h0M141.2 532.1h0M144.1 527.8h0M116.5 532.3h0M107.5 514.4h0M128.7 524.6h0M137.8 531.5h0M137.8 475.2h0M129.2 533.3h0M150.2 526.5h0M156.3 425.1h0M138.7 533.3h0M133.4 534.7h0M116.5 529.9h0M147.7 533.7h0M152.2 516.5h0M165.7 525.8h0M140.1 509.6h0M133.3 534.2h0M147.5 532.6h0M155.7 520.3h0M127.4 535.0h0M125.1 524.3h0M119.5 520.9h0M119.4 527.0h0M153.6 532.9h0M133.2 532.0h0M129.2 533.5h0M146.2 529.0h0M133.2 534.6h0M140.4 525.2h0M144.7 531.4h0M128.8 532.7h0M117.5 531.3h0M139.9 522.0h0M135.7 533.8h0M133.7 535.0h0M137.9 533.4h0M137.1 515.4h0M148.6 524.4h0M146.5 532.6h0M137.3 531.7h0M117.8 526.4h0M152.6 516.7h0M122.7 531.4h0M135.5 534.7h0M130.5 534.5h0M131.2 534.3h0M112.7 516.5h0M110.0 528.0h0M172.3 521.7h0M129.7 530.0h0M130.0 532.7h0M134.8 533.7h0M143.8 516.4h0M125.4 525.3h0M141.9 533.0h0M130.7 534.5h0M128.1 523.5h0M145.5 527.0h0M115.9 527.9h0M122.4 532.7h0M144.8 528.9h0M117.5 523.4h0M135.1 530.6h0M131.1 534.6h0M134.2 535.3h0M131.5 534.4h0M134.8 534.5h0M132.7 530.5h0M159.4 408.7h0M134.3 529.5h0M127.3 528.1h0M135.6 534.2h0M93.8 522.1h0M130.4 533.0h0M124.4 533.7h0M136.0 535.3h0M132.5 535.3h0M136.5 533.6h0M122.6 533.5h0M120.3 531.6h0M122.7 533.0h0M137.9 527.3h0M118.5 531.2h0M123.5 513.9h0M143.5 516.8h0M127.1 531.4h0M133.4 533.1h0M137.9 531.2h0M119.4 532.9h0M117.2 530.6h0M126.2 521.3h0M116.2 530.8h0M138.6 533.9h0M118.5 531.7h0M144.6 534.2h0M147.2 526.4h0M126.1 533.4h0M136.8 533.5h0M128.5 529.8h0M127.6 534.0h0M139.8 533.4h0M135.5 532.7h0M156.9 508.4h0M139.1 530.2h0M135.0 531.0h0M133.9 532.9h0M108.5 521.3h0M117.3 530.7h0M139.8 533.0h0M124.0 534.4h0M146.5 523.3h0M127.3 533.2h0M136.3 528.3h0M149.5 484.1h0M113.1 533.2h0M116.2 504.4h0M133.2 532.4h0M144.0 526.2h0M147.3 526.8h0M116.3 532.4h0M136.0 530.7h0M125.7 530.6h0M145.6 531.5h0M101.6 490.3h0M131.8 535.2h0M126.0 533.1h0M128.7 534.0h0M114.9 531.3h0M121.3 528.4h0M155.0 525.9h0M136.2 530.4h0M121.9 522.2h0M131.9 534.4h0M135.4 531.8h0M110.6 451.4h0M120.4 521.0h0M112.8 530.9h0M139.2 526.1h0M133.9 533.8h0M141.7 522.2h0M107.4 465.0h0M137.2 515.8h0M108.5 519.2h0M146.6 527.0h0M135.0 535.0h0M132.0 533.9h0M151.0 529.9h0M143.4 528.4h0M117.3 524.7h0M134.0 533.0h0M144.1 532.9h0M142.5 526.2h0M133.8 519.2h0M127.3 529.9h0M137.9 519.5h0M140.5 534.3h0M134.5 524.8h0M168.7 504.5h0M140.8 509.2h0M115.2 490.5h0M54.1 522.5h0M131.5 533.9h0M127.9 534.9h0M140.8 503.7h0M105.7 507.9h0M135.3 528.9h0M126.8 532.1h0M132.0 534.3h0M132.2 535.2h0M132.3 533.9h0M147.0 520.7h0M145.6 489.6h0M118.6 502.9h0M140.3 534.9h0M125.4 532.2h0M130.7 534.3h0M123.5 530.1h0M134.4 532.3h0M126.9 532.5h0M147.7 526.5h0M131.5 534.0h0M121.7 525.0h0M125.6 530.0h0M153.1 528.8h0M110.2 517.2h0M123.4 534.4h0M160.0 521.4h0M153.3 530.5h0M137.1 532.2h0M113.3 510.1h0M137.1 531.7h0M138.1 533.0h0M133.7 532.6h0M122.0 523.7h0M136.6 532.2h0M117.3 532.4h0M131.2 535.2h0M132.6 531.9h0M145.3 530.7h0M127.0 531.3h0M139.5 534.2h0M120.4 532.8h0M138.0 532.4h0M139.3 534.8h0M147.1 533.8h0M130.7 534.3h0M125.3 529.9h0M123.9 533.7h0M136.7 533.2h0M127.7 532.8h0M131.4 534.5h0M141.6 530.9h0M155.9 525.3h0M124.4 533.5h0M147.2 502.0h0M137.9 525.4h0M131.4 533.9h0M140.4 524.0h0M136.5 529.3h0M121.7 530.7h0M139.8 528.0h0M140.7 533.1h0M132.3 534.3h0M142.3 534.8h0M124.3 532.2h0M139.4 531.0h0M125.1 532.5h0M130.7 535.4h0M127.9 533.5h0M146.7 529.9h0M105.5 526.4h0M142.4 520.7h0M129.0 534.3h0M129.6 533.6h0M129.1 534.7h0M101.0 532.2h0M135.4 532.9h0M137.6 533.1h0M124.4 515.0h0M120.4 517.0h0M114.0 528.5h0M133.6 532.7h0M131.2 535.1h0M127.8 534.1h0M132.6 534.3h0M138.6 533.2h0M126.6 533.2h0M130.6 532.7h0M131.1 535.0h0M120.5 533.7h0M129.1 533.9h0M136.2 533.3h0M133.6 534.0h0M130.9 534.2h0M134.2 534.8h0M122.2 530.6h0M115.2 520.9h0M133.2 535.3h0M138.7 535.1h0M154.3 496.4h0M133.1 534.8h0M138.5 532.9h0M138.7 509.9h0M138.8 526.5h0M134.0 534.0h0M134.7 533.7h0M128.7 532.3h0M125.4 528.7h0M108.7 530.8h0M123.0 530.8h0M120.6 531.4h0M130.3 534.7h0M116.6 513.9h0M135.4 526.9h0M111.2 505.8h0M155.2 532.7h0M144.4 531.9h0M115.2 525.9h0M135.5 516.5h0M136.9 532.6h0M134.3 531.4h0M130.3 533.5h0M110.7 514.4h0M130.5 535.1h0M135.2 531.1h0M110.1 531.5h0M140.2 528.9h0M127.1 531.6h0M159.5 481.1h0M115.4 521.9h0M129.3 533.9h0M119.2 534.0h0M141.7 533.8h0M136.0 533.3h0M133.4 534.5h0M143.1 489.3h0M157.4 531.5h0M130.4 534.2h0M149.8 528.4h0M119.3 418.6h0M132.6 534.5h0M112.7 528.2h0M138.7 532.9h0M137.6 532.1h0M125.9 534.1h0M132.1 532.1h0M164.1 493.9h0M132.6 535.2h0M127.9 526.8h0M128.1 509.8h0M137.9 531.1h0M123.1 532.0h0M137.3 534.1h0M135.6 532.9h0M153.3 457.6h0M144.3 526.6h0M148.2 530.7h0M144.2 527.9h0M162.9 493.4h0M119.0 528.4h0M154.3 530.9h0M119.7 534.2h0M153.3 510.1h0M129.7 534.3h0M128.8 533.6h0M148.7 490.0h0M134.4 533.5h0M136.2 532.2h0M143.7 529.0h0M147.4 532.0h0M136.7 530.1h0M115.2 531.7h0M121.4 528.5h0M113.5 520.8h0M94.9 527.5h0M139.3 523.2h0M125.2 533.5h0M127.4 531.6h0M120.0 533.0h0M143.8 500.6h0M127.7 505.4h0M131.5 534.5h0M123.3 531.4h0M114.9 527.5h0M115.4 458.2h0M129.0 527.4h0M132.2 533.7h0M110.6 531.8h0M139.9 533.7h0M160.5 518.1h0M132.9 533.6h0M119.4 525.3h0M149.5 532.0h0M144.5 533.7h0M142.2 534.1h0M129.2 533.6h0M125.0 530.4h0M134.1 533.5h0M143.2 530.6h0M126.7 534.2h0M125.3 516.8h0M112.8 531.7h0M135.3 532.3h0M139.5 533.7h0M144.1 533.8h0M123.7 531.9h0M130.2 534.4h0M136.5 524.6h0M137.4 534.2h0M143.3 532.9h0M125.6 530.1h0M132.1 534.4h0M123.4 530.4h0M135.6 530.6h0M137.0 528.6h0M119.2 529.0h0M123.6 520.1h0M149.7 523.1h0M134.2 534.8h0M117.8 512.7h0M139.2 534.3h0M120.0 533.5h0M115.7 510.1h0M126.9 530.3h0M164.0 527.4h0M116.5 508.7h0M160.0 508.6h0M142.0 524.1h0M121.2 531.1h0M107.3 530.9h0M129.3 533.2h0M139.2 528.9h0M116.2 527.9h0M130.7 534.3h0M120.9 524.9h0M96.7 504.0h0M126.1 529.0h0M149.1 531.0h0M119.8 530.7h0M170.6 504.9h0M121.2 534.1h0M130.8 533.6h0M140.5 525.9h0M144.1 522.2h0M137.5 531.9h0M123.0 529.9h0M124.6 525.8h0M135.7 534.1h0M106.7 517.0h0M140.0 531.3h0M137.0 534.2h0M134.2 534.8h0M141.1 533.6h0M121.8 531.5h0M125.3 533.5h0M99.8 506.2h0M126.4 530.8h0M126.2 532.5h0M134.6 532.7h0M142.2 506.7h0M117.8 526.1h0M145.9 529.6h0M120.0 532.8h0M138.1 525.7h0M168.2 455.1h0M122.7 485.6h0M153.9 495.5h0M132.1 535.0h0M131.2 533.7h0M134.7 534.2h0M138.3 533.7h0M132.0 534.0h0M131.7 534.8h0M139.3 528.6h0M133.7 533.9h0M130.1 531.5h0M157.3 524.6h0M132.0 535.0h0M163.6 519.9h0M113.2 476.8h0M125.5 533.6h0M128.8 533.6h0M137.1 522.1h0M131.1 533.5h0M117.2 531.9h0M147.4 524.0h0M115.7 517.4h0M140.7 534.5h0M116.9 525.0h0M147.7 530.1h0M131.9 533.4h0M147.6 523.6h0M125.0 532.6h0M119.5 522.8h0M123.6 532.0h0M124.7 534.0h0M136.7 531.1h0M101.0 532.2h0M123.8 533.4h0M124.4 532.2h0M137.2 533.3h0M129.3 532.9h0M119.3 517.9h0M141.3 532.1h0M138.3 535.0h0M131.7 533.6h0M118.8 528.8h0M128.5 533.4h0M146.8 526.8h0M137.3 534.4h0M102.9 518.4h0M148.7 530.3h0M136.9 531.8h0M134.4 534.3h0M127.6 534.7h0M132.2 534.5h0M131.2 534.4h0M122.7 531.9h0M143.9 497.3h0M161.2 507.3h0M144.3 533.7h0M143.5 532.8h0M134.0 533.7h0M131.1 534.4h0M131.2 533.7h0M128.2 535.2h0M137.4 521.2h0M134.4 534.6h0M132.5 533.8h0M124.6 533.4h0M135.5 532.6h0M148.1 531.6h0M128.8 535.4h0M117.7 532.1h0M136.4 533.6h0M146.7 527.5h0M138.2 534.6h0M129.1 534.8h0M139.1 526.4h0M127.1 532.3h0M108.5 494.7h0M131.3 535.3h0M140.8 533.0h0M126.1 533.9h0M122.3 522.8h0M103.3 524.4h0M135.1 533.5h0M126.6 534.6h0M143.8 532.8h0M136.0 532.5h0M114.5 526.2h0M132.6 534.1h0M132.5 533.6h0M128.0 533.2h0M132.1 534.4h0M136.4 531.4h0M122.8 521.6h0M121.2 531.3h0M134.2 532.8h0M138.6 521.8h0M137.7 533.9h0M126.2 534.4h0M144.7 517.0h0M126.7 532.4h0M100.5 529.4h0M139.4 520.2h0M119.2 531.6h0M134.7 532.0h0M145.9 529.6h0M133.0 530.3h0M124.4 532.3h0M130.5 534.9h0M122.9 529.7h0M124.1 532.5h0M111.4 521.8h0M151.0 524.9h0M133.0 533.8h0M124.3 534.7h0M137.0 533.1h0M146.7 529.3h0M135.7 534.3h0M132.2 533.6h0M137.3 533.5h0M146.9 528.0h0M143.7 535.0h0M123.0 533.9h0M132.5 534.0h0M126.5 532.5h0M117.9 533.9h0M125.3 531.8h0M122.9 524.7h0M175.0 482.9h0M151.0 531.4h0M149.9 528.5h0M107.8 525.7h0M133.9 533.1h0M121.2 534.5h0M126.7 532.2h0M130.0 534.2h0M130.8 533.8h0M137.7 533.0h0M107.1 521.4h0M128.1 534.9h0M128.9 533.1h0M108.4 530.2h0M134.6 532.2h0M135.7 531.7h0M136.4 528.2h0M131.3 533.9h0M151.5 523.1h0M142.6 532.6h0M144.2 494.9h0M129.1 532.6h0M117.2 355.9h0M131.8 534.6h0M138.1 531.7h0M130.6 534.2h0M113.2 524.0h0M137.9 530.1h0M158.9 528.4h0M131.7 534.0h0M129.9 535.2h0M118.5 534.1h0M127.1 532.0h0M135.3 532.1h0M116.0 470.8h0M149.4 532.3h0M132.2 534.1h0M127.3 531.5h0M121.5 534.2h0M130.5 532.3h0M119.9 516.1h0M140.3 534.2h0M145.9 502.0h0M141.0 524.9h0M136.5 498.0h0M134.1 531.1h0M127.9 528.4h0M124.8 519.9h0M125.3 528.9h0M133.5 529.1h0M111.8 530.6h0M120.0 532.8h0M116.9 522.4h0M143.7 528.3h0M138.6 531.4h0M130.2 533.9h0M116.8 533.3h0M137.0 528.8h0M136.6 533.2h0M149.6 521.8h0M129.7 516.8h0M134.8 531.0h0M117.9 474.1h0M119.6 533.1h0M139.8 532.6h0M122.6 533.7h0M151.1 514.7h0M135.3 525.6h0M128.7 528.6h0M123.5 523.6h0M135.8 529.7h0M139.8 523.8h0M103.3 528.6h0M115.3 517.7h0M131.6 534.8h0M130.4 532.7h0M142.2 514.7h0M133.5 534.2h0M139.1 533.0h0M145.0 524.3h0M128.4 527.4h0M130.4 533.8h0M140.5 529.9h0M126.0 529.8h0M120.5 527.7h0M115.3 528.9h0M162.8 531.8h0M129.3 534.3h0M116.3 509.2h0M123.3 507.2h0M138.6 530.8h0M120.5 518.8h0M134.7 532.8h0M133.3 526.6h0M125.3 534.4h0M136.5 526.6h0M124.7 526.2h0M136.6 532.9h0M134.3 533.8h0M128.1 532.0h0M141.7 534.1h0M127.2 532.9h0M126.8 532.9h0M132.3 535.0h0M151.1 531.1h0M154.2 527.2h0M137.1 534.2h0M128.0 533.9h0M124.5 531.1h0M145.4 521.8h0M130.2 534.6h0M129.6 534.7h0M134.2 534.3h0M117.4 530.3h0M122.4 527.9h0M125.3 524.5h0M142.0 533.4h0M153.7 512.9h0M140.0 535.1h0M139.3 529.5h0M122.4 516.8h0M137.5 533.0h0M117.0 524.9h0M136.3 502.4h0M140.1 533.6h0M119.5 532.7h0M124.4 533.2h0M135.3 534.5h0M125.0 524.3h0M125.8 531.4h0M119.8 532.7h0M132.9 531.2h0M123.3 528.5h0M152.8 513.9h0M135.2 522.6h0M150.4 528.1h0M141.0 533.2h0M75.8 438.9h0M129.7 533.5h0M137.8 531.5h0M114.7 506.1h0M125.3 532.3h0M135.6 533.8h0M125.2 532.6h0M92.0 530.3h0M121.9 534.5h0M145.4 525.2h0M141.1 528.8h0M135.9 533.7h0M127.2 533.7h0M108.1 513.4h0M135.6 531.5h0M136.9 534.0h0M130.7 533.9h0M109.5 515.9h0M131.7 535.4h0M123.0 532.8h0M107.1 527.0h0M131.1 534.7h0M145.4 534.0h0M128.9 533.6h0M130.1 534.6h0M116.1 532.2h0M134.6 534.4h0M157.7 499.9h0M140.3 526.7h0M118.1 531.8h0M130.3 535.2h0M140.1 533.5h0M131.4 534.8h0M98.7 445.1h0M150.1 520.7h0M116.5 533.8h0M161.7 439.1h0M123.0 533.2h0M138.9 527.4h0M148.0 529.7h0M122.7 534.3h0M143.0 523.2h0M121.6 524.3h0M138.9 532.9h0M118.4 529.7h0M150.7 526.8h0M133.8 534.9h0M133.5 534.7h0M128.9 533.9h0M126.9 532.0h0M120.9 485.0h0M127.7 534.3h0M111.3 518.6h0M145.3 484.8h0M130.2 533.4h0M149.3 522.6h0M104.2 527.2h0M140.3 534.6h0M122.5 534.5h0M117.0 511.4h0M133.9 533.1h0M138.4 525.0h0M140.9 534.1h0M120.3 533.2h0M141.3 534.5h0M149.4 506.2h0M133.2 534.2h0M154.2 530.0h0M120.3 532.2h0M132.0 534.0h0M147.7 527.7h0M129.8 534.0h0M158.4 529.5h0M134.8 534.0h0M129.7 532.5h0M141.8 488.5h0M171.5 511.5h0M126.9 532.1h0M160.0 526.3h0M139.8 533.7h0M117.7 529.7h0M103.5 507.1h0M135.9 530.4h0M124.9 528.5h0M130.7 532.3h0M123.2 531.1h0M138.1 506.6h0M137.9 520.4h0M140.0 531.6h0M131.7 534.9h0M135.6 530.0h0M120.4 499.6h0M140.3 534.4h0M134.9 533.3h0M159.6 494.5h0M123.6 500.2h0M137.5 533.8h0M132.5 535.3h0M137.8 529.4h0M143.0 528.8h0M108.9 531.9h0M147.2 531.6h0M150.0 528.0h0M136.7 533.1h0M112.8 502.8h0M135.2 532.3h0M142.8 528.3h0M127.0 531.1h0M124.0 529.5h0M135.7 534.4h0M131.8 534.5h0M132.5 534.9h0M132.5 529.0h0M115.4 534.3h0M132.5 534.6h0M147.7 517.4h0M133.9 535.0h0M124.6 529.7h0M120.2 513.9h0M130.4 532.8h0M141.9 524.4h0M137.3 525.8h0M157.7 513.5h0M119.0 531.5h0M141.7 533.1h0M127.0 530.8h0M143.0 531.9h0M154.0 527.0h0M128.4 530.1h0M126.4 533.2h0M121.4 534.3h0M148.0 524.2h0M111.9 530.2h0M132.8 533.4h0M135.1 534.0h0M120.4 528.0h0M118.2 530.0h0M128.8 531.9h0M147.1 520.4h0M138.7 532.7h0M121.9 530.7h0M134.3 530.7h0M135.3 533.0h0M124.0 528.7h0M131.0 534.3h0M146.5 521.7h0M142.1 533.2h0M127.4 532.0h0M118.3 524.7h0M133.4 532.9h0M139.6 529.5h0M131.7 535.3h0M148.4 466.2h0M145.8 526.2h0M141.3 503.3h0M142.8 532.7h0M148.1 531.1h0M134.1 535.1h0M129.3 534.6h0M131.5 534.2h0M127.6 531.1h0M132.7 534.5h0M138.4 534.2h0M148.5 533.5h0M152.2 505.8h0M131.2 534.8h0M125.7 529.9h0M136.4 533.7h0M115.9 430.8h0M139.1 534.8h0M133.2 528.3h0M130.1 534.2h0M139.6 531.1h0M148.6 523.3h0M136.8 533.9h0M129.3 534.9h0M126.4 533.2h0M129.4 531.4h0M117.2 486.7h0M125.7 525.5h0M142.4 525.7h0M139.9 532.5h0M141.4 531.7h0M120.9 533.0h0M155.3 515.1h0M148.3 519.3h0M135.3 534.2h0M132.9 534.1h0M138.1 529.9h0M124.1 530.6h0M140.9 528.6h0M129.9 535.1h0M133.6 534.1h0M132.0 534.9h0M135.9 533.5h0M132.5 534.6h0M129.9 534.4h0M145.1 528.1h0M146.1 531.4h0M147.3 530.5h0M139.5 526.2h0M122.8 531.5h0M127.9 534.1h0M131.8 535.1h0M145.3 497.0h0M126.0 534.9h0M143.1 505.7h0M145.3 529.1h0M131.3 535.0h0M123.7 531.3h0M107.2 506.3h0M133.7 533.1h0M143.2 530.5h0M133.9 532.8h0M131.2 533.6h0M129.8 534.2h0M121.9 531.7h0M121.6 522.4h0M110.0 531.1h0M133.8 534.9h0M172.9 532.5h0M125.9 523.9h0M138.3 530.9h0M146.1 496.1h0M123.8 517.8h0M137.0 532.0h0M123.7 532.7h0M136.9 533.7h0M127.7 534.3h0M126.6 534.2h0M123.4 532.3h0M149.0 512.2h0M136.1 533.6h0M129.1 534.0h0M136.4 530.2h0M125.1 516.6h0M141.9 533.8h0M105.5 528.4h0M114.5 440.8h0M141.4 527.3h0M127.4 532.6h0M142.4 520.7h0M140.7 532.2h0M138.0 534.2h0M120.2 533.1h0M142.1 529.9h0M128.8 533.9h0M92.2 491.8h0M120.3 532.2h0M130.2 534.6h0M130.8 535.0h0M128.8 533.5h0M142.8 519.5h0M134.7 533.3h0M123.0 517.9h0M146.5 488.7h0M126.3 530.2h0M125.6 533.9h0M135.5 531.2h0M118.2 517.5h0M135.9 534.5h0M122.9 531.8h0M123.0 530.1h0M139.6 534.4h0M133.4 533.6h0M122.7 529.0h0M106.0 523.2h0M108.8 515.2h0M137.1 534.6h0M128.8 532.2h0M128.5 532.2h0M145.2 526.4h0M114.6 527.9h0M97.5 508.9h0M107.5 470.1h0M137.6 525.4h0M139.4 516.0h0M125.9 530.8h0M114.9 527.7h0M140.9 466.2h0M121.4 533.5h0M114.6 533.0h0M121.0 531.4h0M113.5 527.7h0M126.6 532.2h0M133.4 533.1h0M132.8 533.1h0M143.6 531.3h0M130.4 535.0h0M144.0 532.1h0M126.0 533.5h0M147.2 530.6h0M112.6 504.5h0M156.5 532.9h0M134.4 534.9h0M134.9 533.8h0M133.4 530.5h0M141.0 528.7h0M133.8 534.5h0M135.4 534.3h0M113.7 521.1h0M131.8 535.3h0M166.6 519.2h0M132.5 532.8h0M130.0 535.3h0M119.6 528.7h0M129.6 533.5h0M143.4 521.7h0M137.6 528.8h0M113.1 509.2h0M141.5 528.8h0M141.1 528.1h0M123.6 533.0h0M121.6 531.6h0M112.6 533.5h0M140.4 534.6h0M132.8 532.9h0M111.4 532.3h0M142.4 533.1h0M136.2 533.2h0M124.7 522.6h0M126.4 532.5h0M118.6 532.8h0M151.8 493.5h0M134.2 532.4h0M133.2 534.1h0M139.4 514.8h0M117.4 490.1h0M131.5 535.3h0M143.9 523.6h0M136.1 530.6h0M146.4 526.0h0M136.4 534.7h0M138.7 533.4h0M146.8 530.8h0M140.4 529.7h0M130.7 533.7h0M156.3 502.5h0M144.9 533.5h0M135.9 534.8h0M142.4 534.4h0M123.3 533.8h0M123.8 491.8h0M115.9 531.8h0M123.8 529.9h0M132.9 531.2h0M117.4 527.0h0M140.9 528.8h0M129.4 534.5h0M160.4 495.5h0M138.5 533.7h0M143.4 530.7h0M138.9 533.7h0M162.2 511.2h0M121.5 522.9h0M132.4 535.0h0M126.7 534.4h0M134.8 533.8h0M143.9 531.5h0M129.7 533.9h0M138.6 531.9h0M125.7 531.2h0M128.7 534.9h0M129.0 534.1h0M123.9 527.9h0M129.1 533.7h0M140.3 532.0h0M127.3 530.5h0M113.7 532.2h0M127.1 531.0h0M140.2 532.2h0M131.4 534.5h0M110.4 530.2h0M119.5 526.7h0M126.7 534.6h0M144.9 511.4h0M148.2 530.7h0M141.3 523.5h0M149.6 533.2h0M119.7 466.9h0M144.3 534.0h0M143.2 508.1h0M130.4 533.5h0M141.0 532.1h0M107.3 519.7h0M126.9 533.2h0M121.9 533.9h0M140.4 533.9h0M142.1 518.6h0M125.6 533.8h0M129.0 534.4h0M117.0 529.4h0M137.1 531.5h0M133.2 533.9h0M138.9 525.3h0M127.3 528.9h0M139.9 534.2h0M135.7 530.1h0M129.7 534.4h0M124.2 532.0h0M133.1 534.8h0M123.7 530.6h0M127.0 534.9h0M137.0 532.7h0M150.5 530.0h0M130.5 534.5h0M130.4 535.2h0M107.2 477.7h0M146.1 510.6h0M128.3 532.3h0M135.8 531.6h0M142.7 532.9h0M130.2 534.2h0M128.9 530.2h0M121.0 528.2h0M122.5 533.7h0M135.0 534.4h0M127.0 533.9h0M106.0 520.9h0M125.3 521.3h0M129.0 534.7h0M108.9 512.0h0M137.4 521.5h0M139.2 528.3h0M114.4 533.3h0M141.4 524.7h0M128.3 533.7h0M136.3 532.5h0M112.2 533.0h0M146.4 522.7h0M146.1 534.5h0M121.1 527.6h0M119.6 523.5h0M130.9 534.9h0M109.2 528.1h0M134.7 533.1h0M127.6 533.3h0M125.8 531.6h0M133.4 534.0h0M142.9 531.5h0M140.9 530.9h0M112.3 528.7h0M148.7 526.7h0M131.4 535.4h0M124.3 530.5h0M92.1 474.9h0M142.2 523.9h0M99.1 521.3h0M142.4 530.0h0M141.5 531.1h0M125.4 532.8h0M130.8 535.1h0M129.3 534.6h0M124.9 503.4h0M127.8 533.7h0M141.8 526.9h0M118.1 519.8h0M122.8 528.0h0M166.6 486.0h0M121.2 529.6h0M138.8 517.7h0M124.6 532.8h0M148.3 522.7h0M120.5 533.2h0M129.2 533.6h0M129.2 533.6h0M136.1 530.9h0M141.7 521.2h0M113.4 525.8h0M120.0 531.2h0M135.9 533.0h0M148.2 524.5h0M124.3 529.3h0M134.4 533.1h0M139.0 522.4h0M141.2 528.8h0M126.5 531.7h0M139.2 533.0h0M128.2 533.3h0M130.8 534.5h0M117.9 526.9h0M133.9 533.3h0M122.5 511.6h0M130.7 533.9h0M128.9 534.9h0M131.9 534.5h0M134.4 527.1h0M125.2 523.5h0M139.2 516.2h0M141.9 531.9h0M136.8 533.9h0M125.2 533.4h0M119.3 530.2h0M150.1 533.4h0M117.0 534.3h0M123.1 521.6h0M143.4 522.8h0M117.9 533.8h0M140.4 516.1h0M127.9 530.1h0M126.4 524.1h0M139.9 533.6h0M132.2 534.5h0M127.8 532.7h0M130.0 532.8h0M144.9 524.3h0M119.7 530.1h0M139.6 531.0h0M143.2 532.6h0M141.4 532.6h0M139.0 530.1h0M117.5 530.9h0M137.4 529.1h0M136.8 532.9h0M151.1 527.2h0M143.6 526.4h0M159.0 527.0h0M113.1 530.6h0M126.7 534.7h0M147.9 489.4h0M140.3 532.8h0M113.4 533.2h0M129.1 533.2h0M128.4 534.4h0M132.9 530.0h0M134.9 533.2h0M129.4 535.1h0M124.9 531.0h0M106.2 364.9h0M123.1 522.6h0M122.2 533.3h0M117.9 524.7h0M109.5 459.8h0M167.0 497.6h0M114.3 517.1h0M141.8 526.6h0M126.0 534.1h0M142.6 531.1h0M123.8 526.2h0M122.6 531.4h0M118.9 507.9h0M125.9 534.8h0M133.2 533.4h0M129.7 534.3h0M132.4 534.9h0M137.1 534.9h0M141.4 531.2h0M114.4 490.6h0M141.1 533.4h0M124.0 532.6h0M144.6 524.2h0M121.2 532.3h0M126.3 534.7h0M129.0 528.3h0M123.8 534.8h0M125.8 532.8h0M113.9 528.0h0M143.8 531.5h0M121.8 522.8h0M124.6 529.4h0M130.1 533.0h0M131.7 535.1h0M146.9 530.5h0M117.9 530.6h0M122.9 509.4h0M116.6 530.2h0M123.5 533.2h0M129.1 532.0h0M114.1 512.4h0M132.4 534.1h0M147.1 527.2h0M125.7 532.5h0M144.2 511.2h0M126.5 531.8h0M156.8 531.1h0M146.0 531.7h0M128.3 533.4h0M140.6 533.3h0M118.2 530.2h0M117.0 405.4h0M139.6 533.6h0M148.1 534.0h0M119.2 533.1h0M138.9 524.9h0M113.1 534.0h0M113.1 492.7h0M122.8 530.4h0M119.1 533.1h0M151.5 505.2h0M146.1 533.7h0M125.4 529.5h0M141.1 530.5h0M128.4 528.6h0M129.5 535.0h0M129.1 533.9h0M136.9 532.6h0M143.2 522.3h0M124.1 533.7h0M103.3 489.1h0M142.0 530.1h0M135.0 532.8h0M134.5 533.1h0M134.3 524.1h0M113.7 533.7h0M117.2 531.3h0M130.6 534.7h0M150.8 516.9h0M131.4 534.8h0M142.2 530.5h0M132.3 534.2h0M117.4 530.9h0M124.8 531.2h0M115.2 519.3h0M108.2 515.0h0M123.0 532.0h0M125.1 530.5h0M148.7 534.2h0M123.0 533.6h0M155.5 525.1h0M126.2 530.7h0M117.2 529.4h0M144.8 525.3h0M141.7 501.7h0M120.9 516.0h0M129.8 533.2h0M138.3 507.8h0M124.1 529.4h0M133.8 533.9h0M128.0 532.8h0M123.2 532.4h0M141.3 531.7h0M96.9 519.7h0M131.2 533.4h0M138.9 527.7h0M129.4 534.7h0M147.5 527.5h0M143.3 520.9h0M140.3 526.4h0M132.6 529.0h0M144.3 531.7h0M132.6 535.0h0M109.7 469.1h0M137.8 532.9h0M125.1 529.9h0M113.0 523.8h0M111.1 528.1h0M146.0 530.7h0M129.9 531.8h0M137.1 531.4h0M132.9 533.1h0M125.5 530.5h0M114.5 490.5h0M117.1 530.7h0M140.1 532.5h0M153.6 531.1h0M147.0 499.8h0M142.5 533.8h0M112.1 500.6h0M155.4 521.2h0M130.6 533.8h0M145.0 528.7h0M144.7 529.9h0M119.8 525.4h0M151.3 509.4h0M145.2 532.4h0M154.1 524.6h0M139.7 534.0h0M125.3 533.5h0M144.7 531.0h0M154.1 523.7h0M119.0 525.2h0M122.3 525.7h0M129.2 532.1h0M143.6 532.2h0M138.8 531.1h0M121.8 529.6h0M105.3 513.1h0M122.9 533.0h0M136.7 531.9h0M146.1 533.0h0M137.5 531.8h0M128.8 525.4h0M129.9 533.0h0M134.8 535.2h0M131.3 533.2h0M143.1 528.7h0M148.0 530.7h0M119.7 529.6h0M123.4 528.3h0M92.2 509.8h0M135.7 534.5h0M143.3 529.3h0M154.6 530.5h0M117.7 520.7h0M123.1 531.6h0M149.3 530.5h0M133.1 534.6h0M140.2 532.9h0M124.5 521.2h0M136.5 535.0h0M130.7 533.6h0M113.2 531.6h0M142.6 529.5h0M121.7 532.7h0M126.3 532.8h0M153.0 524.6h0M135.5 525.8h0M126.2 533.9h0M112.4 496.7h0M137.5 532.6h0M121.9 521.2h0M114.5 528.3h0M122.8 532.7h0M108.6 532.1h0M136.3 529.0h0M152.7 531.7h0M135.6 532.2h0M131.8 533.9h0M125.7 525.4h0M125.4 531.8h0M140.9 530.3h0M136.1 531.8h0M135.7 534.7h0M138.4 524.6h0M139.6 533.3h0M139.5 529.4h0M132.2 533.8h0M115.2 512.2h0M115.3 527.7h0M133.9 531.3h0M130.8 535.3h0M151.9 523.9h0M140.6 527.8h0M124.6 533.7h0M129.3 534.8h0M138.5 534.3h0M134.5 530.6h0M133.4 532.2h0M128.1 527.4h0M143.9 533.8h0M132.0 534.0h0M158.8 531.8h0M124.7 526.9h0M116.5 519.9h0M113.2 522.4h0M117.4 528.0h0M128.8 532.1h0M132.3 531.9h0M122.5 529.7h0M121.8 534.2h0M142.5 524.0h0M125.1 533.6h0M122.9 534.9h0M131.9 535.2h0M148.0 523.3h0M131.7 534.8h0M138.7 533.9h0M151.4 526.4h0M136.3 526.9h0M124.0 530.8h0M110.0 530.2h0M131.3 534.9h0M134.9 533.5h0M132.1 534.9h0M120.9 532.2h0M145.0 527.5h0M124.6 533.7h0M130.0 535.2h0M126.0 534.6h0M134.5 530.8h0M118.7 525.7h0M128.8 533.3h0M93.4 525.0h0M144.1 534.4h0M125.4 533.6h0M123.5 530.6h0M155.9 533.6h0M113.1 532.4h0M134.0 533.2h0M135.3 534.5h0M129.3 534.1h0M144.2 527.2h0M118.5 512.8h0M127.0 526.9h0M139.0 530.4h0M139.1 515.5h0M158.8 510.2h0M126.3 532.7h0M140.6 527.9h0M131.8 533.0h0M120.1 509.0h0M100.7 521.0h0M137.9 532.6h0M137.1 532.2h0M152.2 527.5h0M146.3 527.2h0M147.7 529.4h0M117.6 515.3h0M132.7 534.3h0M138.9 525.3h0M134.3 534.7h0M131.3 534.8h0M116.9 454.4h0M118.2 533.5h0M146.0 530.3h0M132.7 531.7h0M128.4 532.1h0M144.4 522.8h0M142.3 527.9h0M145.9 530.3h0M124.7 530.2h0M125.2 527.8h0M132.6 534.3h0M114.5 531.6h0M155.1 530.8h0M138.6 534.8h0M139.3 533.1h0M121.1 511.6h0M128.6 534.4h0M120.8 533.9h0M135.9 529.7h0M111.3 531.4h0M142.4 531.8h0M126.4 525.2h0M143.7 529.3h0M134.5 534.7h0M128.9 535.2h0M141.6 528.0h0M130.3 533.1h0M138.1 529.5h0M139.4 533.1h0M137.1 527.7h0M132.2 535.0h0M148.7 531.3h0M140.4 525.6h0M102.3 530.3h0M128.1 531.1h0M113.1 529.1h0M122.2 524.0h0M150.3 530.9h0M141.2 530.1h0M153.6 501.6h0M124.5 528.8h0M106.8 499.3h0M127.3 533.6h0M144.5 521.4h0M127.8 534.2h0M121.4 531.8h0M133.1 534.3h0M145.2 518.5h0M95.2 523.2h0M131.4 535.0h0M154.2 530.7h0M128.9 534.9h0M152.2 520.2h0M118.5 532.0h0M165.9 530.2h0M131.8 535.2h0M153.5 528.6h0M115.6 530.0h0M137.6 533.0h0M107.1 512.6h0M153.7 491.0h0M129.7 534.0h0M132.6 534.0h0M119.6 531.4h0M93.6 523.3h0M133.6 530.2h0M139.8 528.3h0M136.7 534.1h0M127.1 530.9h0M135.6 533.7h0M131.3 533.6h0M122.0 528.8h0M144.1 529.7h0M121.2 530.8h0M130.0 534.9h0M115.6 530.0h0M141.7 529.4h0M137.7 534.1h0M140.2 530.5h0M136.0 534.1h0M137.9 533.6h0M133.2 534.6h0M105.6 525.5h0M150.2 528.1h0M131.0 535.1h0M122.2 529.8h0M137.5 529.3h0M129.7 534.7h0M119.8 515.1h0M133.2 535.3h0M144.4 521.6h0M136.4 533.6h0M122.3 533.8h0M112.4 535.1h0M121.8 512.5h0M154.6 480.9h0M136.5 531.4h0M136.8 532.1h0M134.5 533.0h0M138.6 532.9h0M142.4 508.3h0M121.5 524.0h0M134.1 530.8h0M152.3 498.0h0M141.8 526.1h0M119.8 533.2h0M154.7 529.1h0M123.2 530.1h0M135.2 534.8h0M132.6 534.7h0M124.1 484.1h0M126.6 531.9h0M115.2 528.9h0M124.4 531.1h0M139.0 528.7h0M138.2 519.0h0M130.4 533.2h0M107.2 492.1h0M144.1 530.5h0M140.3 527.6h0M126.0 529.3h0M142.5 533.3h0M116.6 508.8h0M106.5 530.7h0M134.2 532.0h0M147.2 513.6h0M137.4 534.9h0M134.0 534.7h0M129.7 530.6h0M132.6 531.2h0M126.6 534.4h0M95.1 357.8h0M139.5 525.8h0M114.2 533.3h0M125.6 531.0h0M142.5 515.0h0M112.5 522.4h0M139.9 534.8h0M122.5 532.2h0M140.6 526.6h0M129.9 533.3h0M138.3 533.4h0M157.2 530.6h0M115.5 530.2h0M146.1 520.2h0M123.2 532.3h0M138.9 531.5h0M148.0 531.3h0M135.0 533.1h0M145.6 533.1h0M158.9 465.1h0M126.0 533.9h0M129.5 534.5h0M128.7 534.3h0M139.1 533.1h0M135.8 530.7h0M135.0 533.7h0M126.0 514.6h0M131.8 534.6h0M154.8 530.8h0M139.4 533.8h0M120.9 535.0h0M113.6 512.7h0M138.3 528.0h0M131.8 534.5h0M124.2 532.5h0M133.1 533.8h0M139.2 527.7h0M124.1 534.1h0M132.5 535.5h0M122.8 531.7h0M121.1 531.0h0M150.5 531.6h0M124.4 533.4h0M127.6 533.7h0M101.1 525.3h0M141.5 533.2h0M149.8 530.7h0M130.6 534.7h0M124.6 522.4h0M115.6 531.6h0M118.3 523.8h0M135.4 531.5h0M128.7 534.3h0M140.5 530.0h0M140.6 529.8h0M108.1 529.2h0M137.6 520.2h0M147.3 519.8h0M159.5 530.2h0M140.5 518.1h0M114.2 477.2h0M109.4 523.9h0M111.4 493.2h0M131.0 535.3h0M149.1 460.2h0M132.2 535.2h0M125.4 529.0h0M141.6 532.5h0M119.5 529.9h0M100.5 438.1h0M121.9 532.5h0M131.9 532.8h0M107.1 529.6h0M124.5 515.8h0M140.3 534.0h0M140.7 517.9h0M123.0 533.7h0M144.4 515.3h0M125.9 534.4h0M114.0 523.7h0M131.3 534.4h0M93.4 507.4h0M138.5 532.9h0M135.5 533.7h0M125.6 533.7h0M119.6 532.7h0M115.9 494.8h0M138.8 532.4h0M81.7 356.8h0M144.5 523.8h0M131.3 533.5h0M127.2 515.4h0M120.7 522.5h0M130.8 533.0h0M112.2 529.1h0M107.2 525.5h0M144.0 503.1h0M124.6 531.6h0M120.8 531.9h0M134.8 534.6h0M118.7 527.7h0M131.6 534.3h0M108.9 522.4h0M130.4 533.8h0M129.5 533.8h0M128.6 533.5h0M112.6 532.5h0M127.1 534.9h0M140.2 529.6h0M157.6 497.0h0M137.2 534.9h0M143.4 525.9h0M145.8 525.8h0M146.2 506.8h0M126.6 534.1h0M127.2 532.5h0M133.3 534.3h0M147.9 492.0h0M96.6 519.4h0M142.6 520.2h0M132.6 532.9h0M130.1 533.4h0M137.7 533.2h0M124.1 518.2h0M116.3 517.6h0M97.2 521.4h0M116.7 533.5h0M119.9 530.1h0M138.9 532.2h0M125.3 529.6h0M134.9 531.2h0M127.3 523.5h0M127.2 520.0h0M125.1 526.8h0M136.0 528.2h0M145.8 523.9h0M140.5 527.6h0M126.0 524.9h0M98.0 518.0h0M162.2 530.8h0M122.3 529.0h0M106.9 521.3h0M135.9 533.7h0M137.0 532.8h0M132.1 535.4h0M142.7 530.9h0M144.1 531.2h0M160.8 506.2h0M118.4 531.3h0M122.9 529.1h0M121.1 531.3h0M158.2 524.3h0M141.0 531.1h0M108.9 516.5h0M125.2 532.4h0M125.8 534.5h0M133.7 534.8h0M158.0 513.4h0M133.5 535.0h0M114.2 520.3h0M109.8 527.3h0M139.2 512.6h0M140.6 533.8h0M126.5 531.7h0M120.8 529.3h0M131.4 535.1h0M129.8 533.6h0M139.9 530.1h0M137.6 531.7h0M140.7 522.4h0M131.8 531.8h0M132.5 532.9h0M115.0 532.6h0M117.4 531.6h0M133.0 532.5h0M121.1 531.9h0M127.3 534.0h0M136.0 532.8h0M148.6 505.1h0M114.1 527.4h0M115.2 504.6h0M128.7 532.7h0M121.4 525.4h0M134.5 533.3h0M120.7 533.7h0M124.3 533.9h0M133.1 532.9h0M136.1 530.1h0M139.3 522.2h0M127.9 533.2h0M119.8 519.4h0M134.8 533.5h0M122.6 532.6h0M135.0 530.4h0M150.8 468.3h0M113.0 518.6h0M104.6 530.2h0M135.6 535.1h0M133.9 530.5h0M127.6 535.0h0M141.8 532.9h0M131.0 534.9h0M139.9 532.7h0M145.8 531.9h0M120.3 531.6h0M123.9 532.2h0M125.0 524.1h0M93.9 499.1h0M122.1 533.7h0M154.8 521.9h0M135.7 530.1h0M136.7 534.7h0M138.2 529.4h0M137.1 530.6h0M133.9 526.7h0M99.6 526.5h0M124.8 533.7h0M153.9 417.2h0M123.3 534.2h0M132.1 535.3h0M124.3 528.2h0M139.7 528.3h0M129.9 533.5h0M137.5 533.9h0M128.9 534.8h0M115.0 532.1h0M134.5 533.3h0M130.3 532.0h0M129.5 533.2h0M132.0 534.6h0M130.4 533.1h0M137.0 480.1h0M136.0 533.4h0M123.4 523.8h0M149.1 526.9h0M133.5 534.8h0M139.8 532.6h0M158.6 483.8h0M137.3 526.9h0M123.8 530.4h0M165.0 488.3h0M131.3 535.4h0M124.1 534.0h0M115.3 495.3h0M152.7 516.8h0M142.8 526.4h0M126.1 532.6h0M145.9 533.5h0M127.7 534.2h0M119.2 532.4h0M132.7 533.9h0M120.3 522.2h0M140.0 532.3h0M125.6 529.8h0M142.0 534.0h0M129.6 533.7h0M121.2 524.4h0M137.6 526.3h0M105.7 510.2h0M126.4 529.5h0M113.2 512.9h0M146.5 529.3h0M132.9 533.0h0M141.1 530.7h0M124.8 529.9h0M123.5 525.9h0M141.1 533.6h0M133.1 535.4h0M123.3 533.9h0M101.8 495.9h0M142.5 523.4h0M115.3 531.5h0M104.8 496.9h0M131.7 535.2h0M112.7 521.5h0M121.1 529.0h0M133.0 535.3h0M131.0 534.7h0M102.5 531.0h0M119.0 507.2h0M85.7 446.8h0M134.3 532.8h0M134.2 534.7h0M136.0 513.3h0M128.2 523.4h0M130.6 533.8h0M106.7 486.4h0M133.9 526.8h0M153.1 529.5h0M137.4 530.7h0M132.7 533.7h0M125.4 530.5h0M145.1 502.8h0M132.5 532.2h0M127.0 534.0h0M139.4 514.9h0M128.5 532.7h0M99.7 483.2h0M133.7 531.4h0M135.5 533.6h0M128.0 533.6h0M140.6 535.2h0M147.6 520.9h0M164.5 528.3h0M150.9 521.2h0M134.4 533.4h0M125.6 533.1h0M147.4 533.4h0M129.2 531.8h0M125.2 524.7h0M116.3 504.6h0M146.1 521.0h0M133.8 534.6h0M127.0 527.2h0M138.2 532.2h0M131.8 534.9h0M125.9 533.9h0M136.2 533.1h0M134.9 535.2h0M126.2 534.2h0M148.3 497.9h0M114.8 527.3h0M106.0 505.9h0M135.9 533.0h0M125.3 531.4h0M123.7 509.2h0M151.1 524.1h0M127.9 533.4h0M106.2 378.5h0M144.2 525.3h0M131.3 535.2h0M113.3 533.1h0M140.7 532.4h0M124.3 532.2h0M136.2 528.7h0M133.8 532.0h0M156.2 528.3h0M125.6 521.4h0M137.8 531.6h0M126.3 533.5h0M145.2 524.5h0M132.3 534.0h0M126.1 534.1h0M180.7 523.4h0M135.8 533.7h0M139.0 533.1h0M143.0 532.6h0M129.3 517.1h0M121.0 524.0h0M125.8 532.3h0M128.8 534.7h0M141.1 533.7h0M157.7 502.9h0M110.4 532.5h0M146.0 420.6h0M144.4 525.0h0M158.1 511.1h0M136.7 522.9h0M137.0 532.0h0M117.8 528.0h0M134.8 533.3h0M132.6 534.4h0M131.7 534.5h0M134.9 520.0h0M129.8 535.2h0M132.8 534.4h0M116.1 534.4h0M135.0 532.7h0M137.2 520.5h0M141.4 524.0h0M128.7 529.3h0M144.1 531.8h0M111.8 508.2h0M133.7 532.2h0M134.1 531.8h0M122.9 531.2h0M139.1 533.7h0M128.3 532.2h0M137.5 529.6h0M107.2 532.1h0M125.2 531.7h0M149.1 519.1h0M126.4 534.0h0M123.1 523.1h0M121.6 533.2h0M139.1 534.2h0M127.8 532.2h0M125.1 526.9h0M139.2 532.1h0M149.2 495.1h0M135.7 533.2h0M114.9 532.3h0M125.9 532.4h0M124.9 528.4h0M135.0 532.4h0M141.5 533.0h0M139.7 527.5h0M129.6 532.8h0M121.0 517.8h0M148.0 511.7h0M120.3 504.6h0M150.4 520.9h0M138.1 528.1h0M127.6 533.3h0M116.9 511.5h0M138.1 518.7h0M130.3 532.6h0M143.2 530.7h0M90.5 524.2h0M148.5 528.1h0M117.9 525.2h0M127.5 529.5h0M106.8 524.7h0M134.5 532.7h0M125.2 532.2h0M108.1 517.0h0M106.5 466.8h0M140.0 530.0h0M141.8 533.9h0M114.0 513.3h0M130.4 533.0h0M155.6 532.4h0M115.3 531.2h0M118.4 527.2h0M132.1 535.2h0M134.2 533.6h0M112.7 518.6h0M128.8 533.8h0M138.4 533.0h0M128.5 532.2h0M140.9 531.3h0M178.0 509.9h0M124.2 532.9h0M137.6 527.9h0M131.1 534.5h0M123.6 533.6h0M126.6 533.3h0M118.7 530.2h0M123.6 529.5h0M135.1 529.9h0M111.7 529.9h0M108.6 528.4h0M129.2 530.0h0M131.7 534.6h0M132.9 528.0h0M141.4 533.4h0M132.4 534.0h0M134.2 531.9h0M131.5 533.9h0M135.8 530.9h0M128.0 535.0h0M139.1 532.6h0M112.9 490.7h0M140.4 531.4h0M159.3 529.1h0M140.5 526.8h0M119.7 530.7h0M122.8 523.7h0M115.9 531.4h0M122.7 530.3h0M131.8 535.2h0M134.4 534.4h0M144.8 531.0h0M132.8 532.3h0M135.9 534.7h0M120.9 507.9h0M117.0 523.0h0M132.4 533.7h0M123.9 533.6h0M138.9 512.8h0M113.5 528.9h0M146.5 528.7h0M119.9 529.1h0M154.6 528.1h0M104.7 524.1h0M129.1 532.3h0M133.9 534.2h0M132.0 535.6h0M121.8 518.7h0M121.8 530.4h0M136.5 530.6h0M140.3 529.0h0M106.5 526.5h0M147.9 532.8h0M128.3 531.4h0M103.8 512.4h0M145.4 521.5h0M131.6 532.3h0M136.6 532.9h0M139.2 502.2h0M114.0 490.0h0M123.7 528.1h0M140.4 519.1h0M105.8 532.7h0M124.7 532.7h0M137.7 533.5h0M131.7 534.8h0M119.6 532.4h0M147.4 525.1h0M108.3 529.6h0M105.0 532.4h0M131.7 535.2h0M142.7 529.4h0M136.6 532.0h0M112.4 525.4h0M136.2 534.3h0M140.9 534.2h0M131.0 534.6h0M128.3 530.3h0M126.0 532.2h0M143.0 487.5h0M111.0 499.3h0M140.0 531.8h0M132.4 535.0h0M125.7 534.6h0M109.7 504.9h0M120.3 533.4h0M107.8 532.8h0M134.6 534.6h0M128.6 534.9h0M156.0 501.1h0M110.5 523.2h0M156.0 527.2h0M138.8 532.8h0M155.7 522.5h0M130.4 534.4h0M128.5 533.9h0M107.0 516.9h0M121.9 531.9h0M122.8 524.3h0M148.5 530.8h0M141.3 524.6h0M98.5 494.9h0M120.5 531.2h0M144.9 533.6h0M157.4 533.3h0M130.3 533.7h0M121.6 526.6h0M106.6 528.6h0M141.4 532.0h0M127.2 533.6h0M143.1 530.8h0M133.4 533.4h0M137.7 533.9h0M127.6 534.2h0M124.4 531.5h0M125.2 533.0h0M138.6 532.5h0M141.5 533.0h0M148.1 532.4h0M129.5 534.7h0M150.3 525.8h0M126.3 530.1h0M127.2 529.9h0M136.9 524.9h0M122.2 520.4h0M125.8 532.8h0M133.9 527.5h0M135.8 533.7h0M121.3 533.1h0M139.0 533.8h0M131.3 535.3h0M129.6 534.4h0M147.3 526.6h0M125.2 521.1h0M120.6 531.5h0M123.8 522.2h0M121.6 524.7h0M125.7 502.8h0M135.9 531.1h0M118.1 518.7h0M115.4 529.2h0M117.0 509.2h0M139.6 488.5h0M141.3 517.8h0M136.7 534.2h0M146.0 531.9h0M129.3 533.9h0M129.9 534.8h0M127.5 525.1h0M102.9 521.1h0M126.5 522.1h0M117.4 528.7h0M122.5 528.0h0M121.1 528.8h0M127.0 532.5h0M146.4 462.9h0M132.8 535.5h0M133.3 534.6h0M128.7 530.6h0M131.6 534.3h0M121.9 531.6h0M133.5 534.5h0M135.7 534.4h0M121.3 530.3h0M122.0 524.6h0M125.5 531.4h0M119.2 502.9h0M122.1 534.4h0M149.3 529.1h0M121.4 505.0h0M133.5 534.4h0M143.9 528.4h0M119.0 517.6h0M108.3 520.6h0M128.1 532.8h0M167.8 389.8h0M147.1 513.2h0M137.3 532.4h0M130.9 534.5h0M122.2 534.4h0M123.7 533.9h0M119.8 533.2h0M141.0 532.6h0M144.2 527.0h0M135.9 533.8h0M126.4 533.3h0M134.5 533.2h0M137.5 531.9h0M157.0 444.8h0M140.6 531.8h0M125.7 532.7h0M133.4 533.6h0M125.3 532.5h0M116.4 530.8h0M138.8 510.8h0M101.8 493.9h0M136.7 532.5h0M164.0 513.4h0M133.5 534.5h0M112.4 466.3h0M165.9 520.7h0M115.2 524.8h0M133.3 534.7h0M131.6 535.1h0M140.1 501.0h0M127.1 533.9h0M125.0 532.5h0M129.4 533.7h0M131.8 533.2h0M138.2 534.5h0M127.8 531.9h0M140.1 529.7h0M125.4 534.7h0M143.3 531.2h0M126.8 535.0h0M124.9 526.9h0M126.3 534.4h0M141.8 522.1h0M135.9 534.4h0M143.3 532.9h0M143.4 524.7h0M85.9 424.6h0M144.1 533.5h0M118.1 533.5h0M120.7 530.0h0M109.5 524.0h0M137.0 521.1h0M135.4 533.9h0M128.0 534.0h0M134.6 520.2h0M142.2 533.2h0M150.5 531.5h0M135.3 533.8h0M140.6 529.2h0M136.7 534.0h0M130.1 533.5h0M125.1 527.7h0M133.7 533.0h0M143.5 532.1h0M126.2 531.9h0M127.0 530.9h0M126.0 532.9h0M134.1 531.6h0M143.5 531.5h0M129.4 533.0h0M128.7 531.9h0M140.5 521.4h0M143.6 533.3h0M111.8 529.8h0M138.1 531.9h0M133.6 533.4h0M130.3 534.1h0M125.2 533.4h0M139.8 530.5h0M120.4 518.8h0M119.8 531.0h0M133.4 534.5h0M146.3 489.0h0M128.3 525.8h0M136.8 530.6h0M132.7 534.0h0M133.1 533.3h0M126.3 533.6h0M140.5 531.2h0M155.3 528.8h0M124.3 534.5h0M145.0 493.7h0M122.4 530.1h0M127.2 532.5h0M141.8 532.7h0M128.2 534.2h0M124.3 530.0h0M129.7 532.7h0M136.6 528.3h0M135.4 532.1h0M113.5 501.3h0M136.6 532.9h0M131.1 535.3h0M115.6 512.3h0M126.7 534.8h0M125.5 533.6h0M141.2 521.0h0M130.2 532.6h0M128.8 532.6h0M137.0 533.0h0M122.2 516.7h0M138.7 533.0h0M150.1 530.5h0M136.4 533.4h0M131.6 535.4h0M141.5 533.7h0M115.4 529.5h0M141.3 531.6h0M145.3 526.7h0M120.6 531.6h0M101.5 529.1h0M130.1 534.7h0M104.6 524.7h0M118.2 524.7h0M114.9 524.0h0M135.2 534.9h0M137.6 534.1h0M141.4 531.2h0M119.6 530.0h0M157.1 513.0h0M118.5 532.7h0M110.4 521.3h0M153.0 523.3h0M127.8 532.8h0M148.7 527.2h0M133.9 535.0h0M122.8 519.7h0M114.5 497.2h0M142.9 529.2h0M136.8 533.2h0M127.9 535.1h0M136.0 527.3h0M142.0 531.1h0M144.3 533.3h0M128.1 526.2h0M127.3 519.2h0M119.6 532.3h0M125.5 533.4h0M111.6 533.9h0M139.1 525.3h0M137.3 533.5h0M139.5 530.0h0M129.2 535.1h0M147.1 533.3h0M128.7 534.3h0M129.4 530.1h0M125.9 527.7h0M133.9 532.2h0M134.5 532.9h0M110.4 526.0h0M149.2 493.2h0M136.2 532.2h0M153.1 527.9h0M127.9 532.0h0M131.0 534.3h0M132.9 534.3h0M130.5 534.6h0M122.7 522.2h0M115.2 500.6h0M142.3 527.5h0M130.8 534.7h0M129.8 534.7h0M141.9 533.7h0M130.8 533.2h0M129.5 534.3h0M124.6 533.7h0M126.6 532.3h0M127.0 532.5h0M128.7 534.3h0M125.3 533.0h0M129.7 534.5h0M138.6 533.7h0M142.3 532.6h0M130.8 534.5h0M143.1 531.3h0M140.1 532.4h0M132.2 533.4h0M132.3 533.6h0M135.8 532.3h0M117.7 529.4h0M137.1 515.4h0M142.5 527.7h0M121.7 525.1h0M129.3 534.0h0M132.5 534.7h0M116.2 530.1h0M132.8 533.4h0M135.5 533.5h0M137.5 531.6h0M136.5 534.5h0M121.0 525.5h0M120.0 531.0h0M138.9 526.9h0M127.4 529.4h0M133.5 533.7h0M138.5 534.0h0M129.1 516.8h0M146.9 530.7h0M130.7 534.3h0M133.4 534.2h0M113.0 509.8h0M120.7 532.2h0M118.1 521.1h0M152.3 521.5h0M133.3 532.3h0M133.8 534.3h0M128.1 533.5h0M129.6 534.4h0M158.8 519.6h0M121.9 514.2h0M158.1 525.5h0M140.1 529.9h0M122.8 479.0h0M122.4 533.2h0M133.2 532.2h0M106.2 518.3h0M129.9 534.4h0M128.7 534.1h0M128.8 532.7h0M134.3 532.4h0M140.9 521.9h0M134.3 531.7h0M106.5 519.1h0M135.2 529.8h0M132.3 532.2h0M142.7 534.4h0M131.9 533.7h0M131.8 534.1h0M137.5 532.9h0M133.7 533.8h0M132.1 533.7h0M149.5 524.4h0M143.7 532.0h0M128.5 532.1h0M122.2 528.8h0M146.5 530.9h0M118.2 534.5h0M155.9 517.8h0M112.7 532.5h0M158.0 498.0h0M146.1 533.5h0M127.4 535.1h0M117.2 524.9h0M132.5 534.0h0M142.8 530.7h0M120.6 528.6h0M139.7 524.8h0M124.7 532.2h0M128.0 534.2h0M126.9 534.3h0M106.2 526.0h0M129.1 532.7h0M117.4 505.3h0M129.3 534.3h0M135.4 526.7h0M119.0 533.5h0M136.8 473.1h0M120.5 483.4h0M153.2 523.9h0M125.1 533.2h0M126.3 527.0h0M123.7 534.0h0M126.7 533.5h0M128.1 533.4h0M119.9 513.8h0M125.6 527.5h0M130.6 534.8h0M133.3 533.8h0M123.8 520.6h0M142.3 530.4h0M136.1 531.7h0M123.3 522.5h0M128.7 532.6h0M159.6 497.9h0M129.2 534.4h0M132.7 533.0h0M145.4 530.5h0M131.0 535.5h0M124.1 531.2h0M125.2 493.9h0M132.9 534.0h0M130.5 533.6h0M135.6 533.2h0M134.2 532.4h0M125.3 532.1h0M141.3 528.3h0M131.1 533.8h0M111.5 518.9h0M130.5 533.5h0M156.6 531.2h0M132.1 534.6h0M131.7 532.3h0M130.9 534.1h0M118.3 529.5h0M119.1 530.6h0M126.6 529.6h0M125.4 533.2h0M132.9 535.0h0M144.9 531.4h0M105.9 518.5h0M143.7 533.5h0M144.6 532.9h0M144.1 521.0h0M156.7 486.4h0M170.3 497.3h0M130.2 533.4h0M122.1 523.7h0M119.0 500.9h0M116.7 518.9h0M137.5 530.4h0M113.0 533.7h0M136.3 534.2h0M142.9 516.0h0M138.7 534.0h0M133.8 533.9h0M132.0 535.1h0M131.8 535.2h0M109.0 525.6h0M140.8 523.7h0M129.1 532.2h0M144.3 530.7h0M115.6 533.6h0M102.1 531.6h0M124.9 532.5h0M129.3 532.3h0M148.3 532.1h0M140.8 531.4h0M114.5 530.7h0M135.9 534.1h0M127.0 532.5h0M121.4 534.3h0M138.1 533.6h0M128.9 534.5h0M123.7 531.7h0M123.9 532.8h0M119.5 531.5h0M135.5 529.3h0M98.2 523.4h0M145.3 533.1h0M131.8 533.8h0M122.9 515.2h0M138.9 531.7h0M130.4 533.8h0M127.2 531.1h0M118.5 527.5h0M116.0 530.9h0M117.6 526.8h0M135.6 533.1h0M147.6 492.8h0M147.4 496.8h0M126.6 533.2h0M135.8 532.5h0M123.5 533.4h0M130.2 535.1h0M142.3 534.8h0M135.9 527.3h0M146.6 533.7h0M108.3 490.5h0M155.9 453.0h0M144.2 492.9h0M112.6 524.1h0M133.2 534.7h0M140.2 531.3h0M140.6 533.6h0M147.7 532.4h0M142.1 530.8h0M131.9 533.7h0M129.4 532.1h0M142.8 531.1h0M117.5 532.7h0M142.4 533.6h0M112.8 534.1h0M127.4 527.6h0M117.2 531.3h0M122.3 530.7h0M119.9 514.1h0M124.5 529.3h0M149.1 526.4h0M131.2 535.0h0M131.1 533.4h0M117.3 533.0h0M129.1 531.3h0M129.5 533.6h0M129.2 530.8h0M136.2 535.0h0M117.5 517.8h0M104.1 510.2h0M116.2 496.6h0M139.7 532.0h0M130.5 534.7h0M146.2 510.4h0M120.9 527.6h0M135.0 534.4h0M123.0 529.1h0M125.1 530.4h0M147.2 531.3h0M130.6 534.1h0M134.8 532.5h0M127.9 534.2h0M98.9 528.2h0M137.0 530.9h0M102.2 527.9h0M127.3 529.7h0M137.1 529.3h0M122.7 533.2h0M132.8 534.8h0M141.7 534.3h0M118.8 502.7h0M131.7 533.5h0M160.9 530.3h0M136.9 525.9h0M130.8 533.3h0M124.9 530.9h0M143.8 530.0h0M108.8 525.9h0M112.8 522.7h0M125.0 531.6h0M116.8 528.2h0M132.3 535.0h0M125.2 534.2h0M138.9 527.0h0M142.4 526.6h0M127.9 534.8h0M112.8 525.3h0M138.9 524.3h0M137.3 534.2h0M141.3 531.9h0M128.2 529.7h0M129.0 534.6h0M119.2 524.8h0M138.0 533.9h0M122.8 526.3h0M139.4 516.8h0M123.8 531.1h0M117.1 505.4h0M121.8 534.3h0M128.1 533.9h0M141.5 532.8h0M137.4 529.5h0M127.4 533.0h0M136.2 534.0h0M116.7 512.8h0M114.6 529.9h0M144.2 532.3h0M138.5 533.2h0M122.8 530.2h0M132.3 534.5h0M142.3 530.4h0M113.5 441.5h0M144.3 528.5h0M135.3 528.9h0M134.0 532.9h0M139.0 527.4h0M124.8 533.7h0M95.8 511.6h0M122.7 533.0h0M125.2 533.4h0M123.4 524.7h0M138.5 531.8h0M127.2 531.7h0M143.8 531.6h0M154.8 516.3h0M107.9 526.0h0M120.7 517.1h0M145.1 510.3h0M118.1 531.9h0M94.6 526.9h0M154.1 513.6h0M144.2 531.8h0M131.3 535.0h0M118.1 532.8h0M124.6 534.6h0M149.3 530.5h0M117.9 469.8h0M113.0 533.2h0M128.2 534.4h0M117.1 495.3h0M121.7 531.1h0M144.0 532.9h0M118.0 532.1h0M120.3 532.4h0M145.1 525.4h0M136.4 532.4h0M157.5 531.7h0M134.0 534.5h0M116.4 528.5h0M139.9 529.7h0M148.6 529.7h0M139.9 530.0h0M125.9 533.6h0M137.6 534.1h0M115.4 534.8h0M132.2 533.5h0M146.6 533.5h0M115.2 526.3h0M105.5 470.8h0M126.7 534.7h0M105.7 470.7h0M139.0 525.6h0M132.1 535.3h0M150.8 524.8h0M115.9 514.8h0M129.9 532.8h0M135.4 533.7h0M127.5 531.5h0M112.2 528.9h0M136.6 532.8h0M123.8 526.1h0M122.7 533.2h0M108.8 530.8h0M142.9 528.1h0M142.1 529.9h0M106.2 526.0h0M119.5 527.8h0M125.0 531.7h0M127.0 525.9h0M130.2 534.9h0M133.5 533.9h0M145.6 531.8h0M131.6 534.5h0M132.6 533.8h0M148.8 519.4h0M139.2 533.4h0M124.8 531.7h0M126.1 533.6h0M130.2 532.5h0M117.1 531.5h0M123.4 419.9h0M126.8 527.1h0M139.6 529.3h0M150.5 522.4h0M128.7 534.3h0M113.0 530.8h0M124.0 534.6h0M144.6 531.7h0M145.5 531.7h0M111.4 528.9h0M147.2 534.4h0M125.8 533.0h0M148.4 533.9h0M132.1 534.5h0M126.7 533.6h0M115.9 507.1h0M142.6 533.1h0M145.7 532.2h0M120.4 533.5h0M119.2 529.1h0M125.1 533.4h0M123.9 533.1h0M110.4 527.6h0M129.1 532.4h0M149.0 531.2h0M130.6 534.9h0M137.2 522.5h0M133.2 534.8h0M143.3 531.2h0M93.2 533.5h0M157.9 529.2h0M115.4 531.6h0M137.6 535.2h0M103.0 506.6h0M119.3 532.1h0M138.0 530.0h0M137.6 532.7h0M124.8 529.5h0M133.3 534.8h0M129.2 535.4h0M134.4 533.1h0M132.8 535.4h0M125.5 534.7h0M122.2 534.2h0M127.4 532.2h0M133.2 533.1h0M140.7 533.0h0M134.4 535.0h0M148.1 532.8h0M128.9 532.4h0M131.1 535.2h0M123.4 530.8h0M134.1 532.8h0M118.2 533.8h0M114.3 533.6h0M122.2 529.0h0M151.6 526.2h0M123.7 514.9h0M131.9 535.0h0M134.3 531.5h0M133.3 535.3h0M141.4 529.4h0M141.2 531.6h0M150.8 530.4h0M140.2 531.6h0M135.9 534.8h0M119.5 528.4h0M128.3 530.2h0M125.8 531.7h0M132.6 535.3h0M132.2 533.5h0M123.4 530.9h0M123.3 531.4h0M131.8 533.9h0M150.8 440.2h0M87.1 344.4h0M92.1 344.4h0M97.2 344.4h0M104.8 344.4h0M109.1 344.4h0M113.2 344.4h0M118.8 344.4h0M120.1 344.4h0M121.3 344.4h0M122.6 344.4h0M123.9 344.4h0M135.3 344.4h0M139.1 344.4h0M145.5 344.4h0M149.3 344.4h0M153.1 344.4h0M189.9 344.4h0M239.4 344.4h0M56.6 378.4h0M52.8 430.8h0M50.2 445.0h0M75.6 358.1h0M84.5 400.0h0M90.9 398.8h0M102.3 400.0h0M111.2 372.3h0M118.8 404.9h0M142.9 360.0h0M146.7 375.4h0M162.0 392.6h0M170.9 362.4h0M181.0 427.1h0M184.8 456.7h0M202.6 425.9h0M159.4 403.1h0M150.6 409.3h0M101.0 427.7h0M108.6 474.0h0M167.1 424.7h0M174.7 443.2h0M68.0 467.8h0M62.9 480.1h0M80.7 470.9h0M93.4 455.5h0M178.5 461.6h0M189.9 474.0h0" stroke="#000" stroke-width="1.9" stroke-linecap="round" />
<circle cx="121.9" cy="489.0" r="1.3" fill="#ff3030" />
<circle cx="126.0" cy="533.5" r="1.3" fill="#ff3030" />
<circle cx="138.6" cy="512.4" r="1.3" fill="#ff3030" />
<line x1="105.6" y1="442.0" x2="121.9" y2="489.0" stroke="#ff5050" stroke-width="0.6" />
<line x1="60.0" y1="493.5" x2="126.0" y2="533.5" stroke="#ff5050" stroke-width="0.6" />
<line x1="186.0" y1="483.0" x2="138.6" y2="512.4" stroke="#ff5050" stroke-width="0.6" />
<text x="91.8" y="442.6" font-size="9" fill="#f06060" font-weight="bold" font-style="italic" textLength="25.6" lengthAdjust="spacingAndGlyphs">Notch1</text>
<text x="50.8" y="493.3" font-size="9" fill="#f06060" font-weight="bold" font-style="italic" textLength="13.8" lengthAdjust="spacingAndGlyphs">Dll1</text>
<text x="179.5" y="482.6" font-size="9" fill="#f06060" font-weight="bold" font-style="italic" textLength="18.0" lengthAdjust="spacingAndGlyphs">Hes1</text>
<rect x="231.0" y="425.1" width="11.8" height="55.8" fill="url(#viridis)"/>
<text x="237.0" y="423.2" font-size="9.5" text-anchor="middle" textLength="17.8" lengthAdjust="spacingAndGlyphs">High</text>
<text x="236.9" y="488.6" font-size="9.5" text-anchor="middle" textLength="16.8" lengthAdjust="spacingAndGlyphs">Low</text>
<text x="228.8" y="475.2" font-size="9.5" textLength="46.0" lengthAdjust="spacingAndGlyphs" transform="rotate(-90 228.8 475.2)">Expression</text>
<rect x="214.2" y="495.0" width="15.4" height="12.4" fill="#440154"/>
<rect x="229.5" y="495.0" width="15.4" height="12.4" fill="#d2e21b"/>
<rect x="214.2" y="507.3" width="15.4" height="12.4" fill="#fde725"/>
<rect x="229.5" y="507.3" width="15.4" height="12.4" fill="#46327e"/>
<rect x="214.2" y="519.7" width="15.4" height="12.4" fill="#35b779"/>
<rect x="229.5" y="519.7" width="15.4" height="12.4" fill="#21908d"/>
<line x1="212.0" y1="501.2" x2="214.2" y2="501.2" stroke="#000" stroke-width="0.6" />
<text x="211.3" y="504.9" font-size="10.3" text-anchor="end" font-style="italic">Hes1</text>
<line x1="212.0" y1="513.5" x2="214.2" y2="513.5" stroke="#000" stroke-width="0.6" />
<text x="211.3" y="517.2" font-size="10.3" text-anchor="end" font-style="italic">Notch1</text>
<line x1="212.0" y1="525.9" x2="214.2" y2="525.9" stroke="#000" stroke-width="0.6" />
<text x="211.3" y="529.6" font-size="10.3" text-anchor="end" font-style="italic">Dll1</text>
<text x="215.2" y="540.6" font-size="10" textLength="12.2" lengthAdjust="spacingAndGlyphs">CT</text>
<text x="227.6" y="540.6" font-size="10" textLength="18.2" lengthAdjust="spacingAndGlyphs">cKO</text>
<text x="0.0" y="590.6" font-size="21" font-weight="bold">g</text>
<line x1="43.2" y1="582.5" x2="43.2" y2="659.5" stroke="#000" stroke-width="1.1" />
<line x1="42.7" y1="659.2" x2="97.2" y2="659.2" stroke="#000" stroke-width="1.1" />
<line x1="40.8" y1="659.0" x2="43.2" y2="659.0" stroke="#000" stroke-width="0.9" />
<text x="40.0" y="662.2" font-size="9" text-anchor="end">0</text>
<line x1="40.8" y1="633.7" x2="43.2" y2="633.7" stroke="#000" stroke-width="0.9" />
<text x="40.0" y="636.9" font-size="9" text-anchor="end">2</text>
<line x1="40.8" y1="608.3" x2="43.2" y2="608.3" stroke="#000" stroke-width="0.9" />
<text x="40.0" y="611.5" font-size="9" text-anchor="end">4</text>
<line x1="40.8" y1="583.0" x2="43.2" y2="583.0" stroke="#000" stroke-width="0.9" />
<text x="40.0" y="586.2" font-size="9" text-anchor="end">6</text>
<line x1="55.0" y1="659.2" x2="55.0" y2="661.8" stroke="#000" stroke-width="0.9" />
<line x1="72.0" y1="659.2" x2="72.0" y2="661.8" stroke="#000" stroke-width="0.9" />
<line x1="88.6" y1="659.2" x2="88.6" y2="661.8" stroke="#000" stroke-width="0.9" />
<rect x="49.3" y="646.3" width="4.9" height="12.7" fill="#fff" stroke="#000" stroke-width="1.4"/>
<rect x="55.6" y="631.8" width="5.2" height="27.2" fill="#fff" stroke="#b01515" stroke-width="1.4"/>
<rect x="66.0" y="645.7" width="4.9" height="13.3" fill="#fff" stroke="#000" stroke-width="1.4"/>
<rect x="72.4" y="612.8" width="5.4" height="46.2" fill="#fff" stroke="#b01515" stroke-width="1.4"/>
<rect x="82.7" y="646.6" width="4.9" height="12.4" fill="#fff" stroke="#000" stroke-width="1.4"/>
<rect x="89.0" y="626.1" width="5.8" height="32.9" fill="#fff" stroke="#b01515" stroke-width="1.4"/>
<circle cx="50.3" cy="645.7" r="1.5" fill="#000" />
<circle cx="52.0" cy="645.1" r="1.5" fill="#000" />
<circle cx="53.3" cy="646.3" r="1.5" fill="#000" />
<circle cx="51.7" cy="647.0" r="1.5" fill="#000" />
<circle cx="67.5" cy="640.6" r="1.5" fill="#000" />
<circle cx="68.5" cy="645.7" r="1.5" fill="#000" />
<circle cx="66.8" cy="645.1" r="1.5" fill="#000" />
<circle cx="69.8" cy="646.3" r="1.5" fill="#000" />
<circle cx="84.0" cy="643.2" r="1.5" fill="#000" />
<circle cx="85.5" cy="646.3" r="1.5" fill="#000" />
<circle cx="83.6" cy="646.3" r="1.5" fill="#000" />
<circle cx="86.5" cy="645.7" r="1.5" fill="#000" />
<rect x="55.5" y="631.1" width="2.6" height="2.6" fill="#b01515"/>
<rect x="57.2" y="628.6" width="2.6" height="2.6" fill="#b01515"/>
<rect x="58.5" y="629.8" width="2.6" height="2.6" fill="#b01515"/>
<rect x="56.2" y="629.2" width="2.6" height="2.6" fill="#b01515"/>
<rect x="74.2" y="600.1" width="2.6" height="2.6" fill="#b01515"/>
<rect x="72.7" y="608.3" width="2.6" height="2.6" fill="#b01515"/>
<rect x="74.2" y="613.4" width="2.6" height="2.6" fill="#b01515"/>
<rect x="72.5" y="618.4" width="2.6" height="2.6" fill="#b01515"/>
<rect x="73.7" y="610.8" width="2.6" height="2.6" fill="#b01515"/>
<rect x="89.5" y="622.9" width="2.6" height="2.6" fill="#b01515"/>
<rect x="91.2" y="623.5" width="2.6" height="2.6" fill="#b01515"/>
<rect x="92.5" y="626.7" width="2.6" height="2.6" fill="#b01515"/>
<rect x="89.7" y="626.0" width="2.6" height="2.6" fill="#b01515"/>
<rect x="91.5" y="629.2" width="2.6" height="2.6" fill="#b01515"/>
<line x1="72.0" y1="618.5" x2="72.0" y2="604.5" stroke="#b01515" stroke-width="0.9" />
<line x1="70.5" y1="604.5" x2="77.5" y2="604.5" stroke="#b01515" stroke-width="0.9" />
<text x="58.5" y="627.4" font-size="9.5" text-anchor="middle" font-weight="bold">**</text>
<text x="75.2" y="601.3" font-size="9.5" text-anchor="middle" font-weight="bold">**</text>
<text x="91.8" y="622.9" font-size="9.5" text-anchor="middle" font-weight="bold">**</text>
<circle cx="52.2" cy="581.6" r="1.8" fill="#000" />
<rect x="50.6" y="588.6" width="3.2" height="3.2" fill="#b01515"/>
<text x="63.9" y="584.9" font-size="9.5" textLength="13.5" lengthAdjust="spacingAndGlyphs">IgG</text>
<text x="63.9" y="593.5" font-size="9.5" textLength="28.8" lengthAdjust="spacingAndGlyphs">BRN1/2</text>
<text x="21.8" y="653.2" font-size="9" textLength="71.2" lengthAdjust="spacingAndGlyphs" transform="rotate(-90 21.8 653.2)">Relative Expression</text>
<text x="32.8" y="631.6" font-size="9" textLength="27.9" lengthAdjust="spacingAndGlyphs" transform="rotate(-90 32.8 631.6)">(qPCR)</text>
<text x="56.0" y="669.0" font-size="9" text-anchor="end" font-style="italic" textLength="28.6" lengthAdjust="spacingAndGlyphs" transform="rotate(-45 56.0 669.0)">Notch1</text>
<text x="73.2" y="670.0" font-size="9" text-anchor="end" font-style="italic" textLength="15.5" lengthAdjust="spacingAndGlyphs" transform="rotate(-45 73.2 670.0)">Dll1</text>
<text x="90.0" y="670.0" font-size="9" text-anchor="end" font-style="italic" textLength="19.5" lengthAdjust="spacingAndGlyphs" transform="rotate(-45 90.0 670.0)">Hes1</text>
<line x1="262.0" y1="596.8" x2="262.0" y2="647.8" stroke="#000" stroke-width="1.1" />
<line x1="261.5" y1="647.4" x2="338.0" y2="647.4" stroke="#000" stroke-width="1.1" />
<line x1="262.0" y1="647.4" x2="262.0" y2="650.0" stroke="#000" stroke-width="0.9" />
<text x="262.0" y="659.6" font-size="8.2" text-anchor="middle">0</text>
<line x1="287.3" y1="647.4" x2="287.3" y2="650.0" stroke="#000" stroke-width="0.9" />
<text x="287.3" y="659.6" font-size="8.2" text-anchor="middle">20</text>
<line x1="312.5" y1="647.4" x2="312.5" y2="650.0" stroke="#000" stroke-width="0.9" />
<text x="312.5" y="659.6" font-size="8.2" text-anchor="middle">40</text>
<line x1="337.8" y1="647.4" x2="337.8" y2="650.0" stroke="#000" stroke-width="0.9" />
<text x="337.8" y="659.6" font-size="8.2" text-anchor="middle">60</text>
<line x1="259.3" y1="610.8" x2="262.0" y2="610.8" stroke="#000" stroke-width="0.9" />
<line x1="259.3" y1="633.8" x2="262.0" y2="633.8" stroke="#000" stroke-width="0.9" />
<text x="257.0" y="613.9" font-size="8.6" text-anchor="end" textLength="16.2" lengthAdjust="spacingAndGlyphs">cKO</text>
<text x="257.0" y="636.9" font-size="8.6" text-anchor="end" textLength="10.6" lengthAdjust="spacingAndGlyphs">CT</text>
<text x="265.5" y="671.6" font-size="8.4">HES1<tspan baseline-shift="super" font-size="5.5">+</tspan> Cells/10<tspan baseline-shift="super" font-size="5.5">4</tspan> um<tspan baseline-shift="super" font-size="5.5">2</tspan></text>
<rect x="297.2" y="602.1" width="3.4" height="3.4" fill="#a5a5a5"/>
<rect x="302.0" y="602.1" width="3.4" height="3.4" fill="#a5a5a5"/>
<rect x="299.1" y="608.8" width="3.4" height="3.4" fill="#a5a5a5"/>
<rect x="310.4" y="605.3" width="3.4" height="3.4" fill="#a5a5a5"/>
<rect x="310.4" y="612.3" width="3.4" height="3.4" fill="#a5a5a5"/>
<rect x="293.5" y="616.0" width="3.4" height="3.4" fill="#a5a5a5"/>
<rect x="303.6" y="616.0" width="3.4" height="3.4" fill="#a5a5a5"/>
<rect x="329.3" y="608.8" width="3.4" height="3.4" fill="#a5a5a5"/>
<line x1="307.6" y1="601.7" x2="307.6" y2="619.3" stroke="#000" stroke-width="0.9" />
<line x1="303.0" y1="610.8" x2="311.5" y2="610.8" stroke="#000" stroke-width="0.9" />
<line x1="303.0" y1="601.7" x2="303.0" y2="619.3" stroke="#000" stroke-width="0.0" />
<text x="335.6" y="610.9" font-size="10" text-anchor="middle" transform="rotate(90 335.6 610.9)">***</text>
<circle cx="278.7" cy="633.5" r="1.9" fill="#000" />
<circle cx="283.7" cy="629.0" r="1.9" fill="#000" />
<circle cx="287.2" cy="626.3" r="1.9" fill="#000" />
<circle cx="288.0" cy="629.0" r="1.9" fill="#000" />
<circle cx="286.0" cy="632.2" r="1.9" fill="#000" />
<circle cx="292.5" cy="635.4" r="1.9" fill="#000" />
<circle cx="290.4" cy="637.0" r="1.9" fill="#000" />
<circle cx="286.7" cy="637.0" r="1.9" fill="#000" />
<circle cx="289.6" cy="640.7" r="1.9" fill="#000" />
<circle cx="286.7" cy="640.2" r="1.9" fill="#000" />
<circle cx="285.5" cy="634.5" r="1.9" fill="#000" />
<circle cx="288.5" cy="634.0" r="1.9" fill="#000" />
<line x1="286.0" y1="625.5" x2="286.0" y2="642.0" stroke="#000" stroke-width="0.8" />
<text x="264.5" y="317.8" font-size="21" font-weight="bold">i</text>
<text x="284.0" y="311.6" font-size="9" font-style="italic">Brn1<tspan baseline-shift="super" font-size="5.5">fl/fl</tspan>;Brn2<tspan baseline-shift="super" font-size="5.5">fl/fl</tspan></text>
<path d="M291.6 330.7C293.7 330.3 299.3 332.3 300.7 333.3C302.1 334.3 303.7 337.9 304.0 339.2C304.3 340.5 303.6 343.4 303.3 344.4C303.0 345.4 301.8 346.7 301.8 347.5C301.8 348.3 303.2 350.7 303.3 351.5C303.4 352.3 303.1 354.2 302.5 354.5C301.9 354.8 299.7 354.6 298.5 354.2C297.3 353.8 292.9 351.5 292.0 351.4C291.1 351.3 289.7 352.5 290.6 353.2C291.5 353.9 299.2 356.7 299.8 357.6C300.4 358.5 296.1 360.3 296.0 361.0C295.9 361.7 298.9 363.3 298.8 364.0C298.7 364.7 295.6 365.8 295.5 366.6C295.4 367.4 297.2 371.2 298.3 371.0C299.4 370.8 303.4 366.7 304.5 365.0C305.6 363.3 306.7 356.7 307.3 356.2C307.9 355.7 309.7 358.8 309.9 360.5C310.1 362.2 309.5 368.4 308.6 370.5C307.7 372.6 304.0 377.0 302.0 378.4C300.0 379.8 293.7 382.3 291.6 382.3C289.5 382.3 285.3 380.7 283.8 378.4C282.3 376.1 279.4 366.4 278.8 363.0C278.2 359.6 278.4 352.7 278.8 349.6C279.2 346.5 280.9 338.8 282.4 336.6C283.9 334.4 289.5 331.1 291.6 330.7Z" fill="none" stroke="#24425c" stroke-width="1.0"/>
<path d="M285.3 337.2Q292 333 300.2 334.4Q302 339 300.6 343Q293 338 285.3 337.2Z" fill="none" stroke="#24425c" stroke-width="0.6"/>
<circle cx="292.2" cy="343.8" r="2.3" fill="none" stroke="#24425c" stroke-width="0.6"/>
<path d="M290.9 343.8h2.6M292.2 342.5v2.6" fill="none" stroke="#24425c" stroke-width="0.5"/>
<circle cx="298.8" cy="345.7" r="0.9" fill="#24425c" />
<circle cx="304.6" cy="331.3" r="2.3" fill="none" stroke="#24425c" stroke-width="0.6"/>
<line x1="303.3" y1="331.3" x2="305.9" y2="331.3" stroke="#24425c" stroke-width="0.5" />
<path d="M285.1 313.1L295.5 335.9L289.3 313.1" fill="none" stroke="#555" stroke-width="0.6"/>
<path d="M328.6 331.2L323.6 338.8L327.0 338.8L324.8 344.2L331.0 336.0L327.6 336.0L330.4 331.2Z" fill="#000"/>
<text x="325.9" y="355.6" font-size="11" text-anchor="middle" textLength="15.5" lengthAdjust="spacingAndGlyphs">IUE</text>
<text x="326.5" y="368.6" font-size="11" text-anchor="middle" textLength="26.8" lengthAdjust="spacingAndGlyphs">E14.5</text>
<text x="307.6" y="393.5" font-size="9.5" text-anchor="middle" textLength="31.8" lengthAdjust="spacingAndGlyphs">Control:</text>
<text x="307.6" y="404.1" font-size="9.5" text-anchor="middle" textLength="46.2" lengthAdjust="spacingAndGlyphs">pCAG-RFP</text>
<text x="307.6" y="419.3" font-size="9.5" text-anchor="middle" textLength="17.0" lengthAdjust="spacingAndGlyphs">cKO:</text>
<text x="307.6" y="430.2" font-size="9.5" text-anchor="middle" textLength="44.0" lengthAdjust="spacingAndGlyphs">pCAG-Cre</text>
<text x="307.6" y="441.1" font-size="9.5" text-anchor="middle" textLength="46.2" lengthAdjust="spacingAndGlyphs">pCAG-RFP</text>
<text x="307.6" y="455.0" font-size="9.5" text-anchor="middle" textLength="34.0" lengthAdjust="spacingAndGlyphs">Rescue:</text>
<text x="307.6" y="466.1" font-size="9.5" text-anchor="middle" textLength="61.5" lengthAdjust="spacingAndGlyphs">cKO+NOTCH1</text>
<text x="307.6" y="477.3" font-size="9.5" text-anchor="middle" textLength="61.5" lengthAdjust="spacingAndGlyphs">or cKO + DLL1</text>
<path d="M301 480H313V484H318.8L306.8 490.5L294.4 484H301Z" fill="#000"/>
<text x="306.2" y="499.6" font-size="11" text-anchor="middle" textLength="28.4" lengthAdjust="spacingAndGlyphs">E16.5</text>
<path d="M311.4 502.6C314.2 502.8 318.3 503.8 320.1 505.9C321.9 508.0 322.8 511.9 323.3 516.8C323.8 521.7 323.6 533.2 323.3 538.5C323.0 543.8 321.9 548.2 321.6 552.0C321.3 555.8 322.9 562.7 321.4 563.6C319.9 564.5 315.0 559.2 311.4 558.1C307.8 557.0 301.0 557.0 297.2 556.0C293.4 555.0 288.7 553.7 286.3 551.6C283.9 549.5 281.8 545.1 280.9 541.8C280.0 538.5 279.8 533.2 280.3 529.8C280.8 526.4 282.5 521.9 284.2 519.0C285.9 516.1 289.2 512.4 291.8 510.2C294.4 508.0 298.7 505.4 301.6 504.3C304.5 503.2 308.6 502.4 311.4 502.6Z" fill="none" stroke="#3a5670" stroke-width="0.7"/>
<path d="M309.2 508.1C311.1 507.6 314.4 508.1 315.7 510.2C317.0 512.3 317.6 518.3 317.9 522.2C318.2 526.1 317.8 531.9 317.6 536.0C317.4 540.1 317.7 548.4 316.8 549.4C315.9 550.4 313.2 545.6 311.4 542.9C309.6 540.2 306.8 533.3 304.8 531.5C302.8 529.7 299.5 531.6 298.0 531.0C296.5 530.4 294.6 529.0 294.5 527.7C294.4 526.4 296.0 524.3 297.2 522.2C298.4 520.1 300.9 515.6 302.7 513.5C304.5 511.4 307.2 508.6 309.2 508.1Z" fill="none" stroke="#3a5670" stroke-width="0.7"/>
<g transform="rotate(-42 298.6 516.8)"><rect x="293.6" y="512.5" width="10" height="8.6" fill="none" stroke="#d81e1e" stroke-width="1.2" stroke-dasharray="3 2.2"/></g>
<rect x="352.0" y="575.3" width="3.4" height="15.3" fill="#000"/>
<line x1="395.4" y1="581.8" x2="395.4" y2="649.3" stroke="#000" stroke-width="1.1" />
<line x1="394.9" y1="648.9" x2="506.7" y2="648.9" stroke="#000" stroke-width="1.1" />
<line x1="395.4" y1="648.9" x2="395.4" y2="651.5" stroke="#000" stroke-width="0.9" />
<text x="395.4" y="661.4" font-size="9" text-anchor="middle" textLength="5.0" lengthAdjust="spacingAndGlyphs">0</text>
<line x1="413.9" y1="648.9" x2="413.9" y2="651.5" stroke="#000" stroke-width="0.9" />
<text x="413.9" y="661.4" font-size="9" text-anchor="middle" textLength="10.0" lengthAdjust="spacingAndGlyphs">20</text>
<line x1="432.4" y1="648.9" x2="432.4" y2="651.5" stroke="#000" stroke-width="0.9" />
<text x="432.4" y="661.4" font-size="9" text-anchor="middle" textLength="10.0" lengthAdjust="spacingAndGlyphs">40</text>
<line x1="451.0" y1="648.9" x2="451.0" y2="651.5" stroke="#000" stroke-width="0.9" />
<text x="451.0" y="661.4" font-size="9" text-anchor="middle" textLength="10.0" lengthAdjust="spacingAndGlyphs">60</text>
<line x1="469.5" y1="648.9" x2="469.5" y2="651.5" stroke="#000" stroke-width="0.9" />
<text x="469.5" y="661.4" font-size="9" text-anchor="middle" textLength="10.0" lengthAdjust="spacingAndGlyphs">80</text>
<line x1="488.0" y1="648.9" x2="488.0" y2="651.5" stroke="#000" stroke-width="0.9" />
<text x="488.0" y="661.4" font-size="9" text-anchor="middle" textLength="15.0" lengthAdjust="spacingAndGlyphs">100</text>
<line x1="506.5" y1="648.9" x2="506.5" y2="651.5" stroke="#000" stroke-width="0.9" />
<text x="506.5" y="661.4" font-size="9" text-anchor="middle" textLength="15.0" lengthAdjust="spacingAndGlyphs">120</text>
<line x1="391.9" y1="598.5" x2="395.4" y2="598.5" stroke="#000" stroke-width="0.9" />
<line x1="391.9" y1="632.0" x2="395.4" y2="632.0" stroke="#000" stroke-width="0.9" />
<text x="389.2" y="601.8" font-size="8.5" text-anchor="end" textLength="37.8" lengthAdjust="spacingAndGlyphs">NEUROD2</text>
<text x="389.2" y="635.3" font-size="8.5" text-anchor="end" textLength="19.8" lengthAdjust="spacingAndGlyphs">TBR2</text>
<text x="434.5" y="674.2" font-size="7.4" text-anchor="middle">IUE E14.5+48h (% of RFP<tspan baseline-shift="super" font-size="5">+</tspan> cells)</text>
<text x="507.1" y="625.9" font-size="9" text-anchor="end" textLength="27.0" lengthAdjust="spacingAndGlyphs">Control</text>
<circle cx="511.6" cy="622.6" r="1.8" fill="#000" />
<text x="507.1" y="635.3" font-size="9" text-anchor="end" textLength="16.0" lengthAdjust="spacingAndGlyphs">cKO</text>
<rect x="510.0" y="630.4" width="3.2" height="3.2" fill="#a5a5a5"/>
<text x="507.1" y="644.8" font-size="9" text-anchor="end" textLength="53.5" lengthAdjust="spacingAndGlyphs">cKO+NOTCH1</text>
<path d="M511.7 639.3l1.9 3.4h-3.8z" fill="#b01515"/>
<path d="M434.3 584.7l2.3 4.1h-4.6z" fill="#b01515"/>
<path d="M436.1 585.8l2.3 4.1h-4.6z" fill="#b01515"/>
<path d="M437.1 585.1l2.3 4.1h-4.6z" fill="#b01515"/>
<path d="M438.0 586.0l2.3 4.1h-4.6z" fill="#b01515"/>
<path d="M438.9 586.1l2.3 4.1h-4.6z" fill="#b01515"/>
<path d="M439.8 584.0l2.3 4.1h-4.6z" fill="#b01515"/>
<path d="M440.8 583.8l2.3 4.1h-4.6z" fill="#b01515"/>
<path d="M441.7 586.8l2.3 4.1h-4.6z" fill="#b01515"/>
<path d="M442.6 584.7l2.3 4.1h-4.6z" fill="#b01515"/>
<path d="M457.4 584.6l2.3 4.1h-4.6z" fill="#b01515"/>
<line x1="440.3" y1="584.4" x2="440.3" y2="591.4" stroke="#000" stroke-width="0.9" />
<line x1="436.6" y1="587.9" x2="444.0" y2="587.9" stroke="#000" stroke-width="0.7" />
<line x1="444.0" y1="585.9" x2="444.0" y2="589.9" stroke="#000" stroke-width="0.7" />
<rect x="450.0" y="598.4" width="3.8" height="3.8" fill="#a5a5a5"/>
<rect x="451.8" y="596.5" width="3.8" height="3.8" fill="#a5a5a5"/>
<rect x="452.8" y="597.8" width="3.8" height="3.8" fill="#a5a5a5"/>
<rect x="454.6" y="596.5" width="3.8" height="3.8" fill="#a5a5a5"/>
<rect x="455.5" y="597.1" width="3.8" height="3.8" fill="#a5a5a5"/>
<rect x="456.5" y="595.3" width="3.8" height="3.8" fill="#a5a5a5"/>
<rect x="458.3" y="597.1" width="3.8" height="3.8" fill="#a5a5a5"/>
<rect x="460.2" y="597.9" width="3.8" height="3.8" fill="#a5a5a5"/>
<rect x="463.9" y="596.7" width="3.8" height="3.8" fill="#a5a5a5"/>
<line x1="459.8" y1="595.0" x2="459.8" y2="602.0" stroke="#000" stroke-width="0.9" />
<line x1="457.0" y1="598.5" x2="462.5" y2="598.5" stroke="#000" stroke-width="0.7" />
<line x1="462.5" y1="596.5" x2="462.5" y2="600.5" stroke="#000" stroke-width="0.7" />
<circle cx="428.7" cy="609.4" r="2.0" fill="#000" />
<circle cx="439.8" cy="609.1" r="2.0" fill="#000" />
<circle cx="441.7" cy="606.9" r="2.0" fill="#000" />
<circle cx="442.6" cy="609.4" r="2.0" fill="#000" />
<circle cx="443.6" cy="608.8" r="2.0" fill="#000" />
<circle cx="444.5" cy="607.8" r="2.0" fill="#000" />
<circle cx="445.4" cy="606.8" r="2.0" fill="#000" />
<circle cx="446.3" cy="609.8" r="2.0" fill="#000" />
<circle cx="452.8" cy="608.4" r="2.0" fill="#000" />
<circle cx="453.7" cy="609.3" r="2.0" fill="#000" />
<circle cx="459.3" cy="609.9" r="2.0" fill="#000" />
<line x1="444.5" y1="605.0" x2="444.5" y2="612.0" stroke="#000" stroke-width="0.9" />
<line x1="441.7" y1="608.5" x2="447.3" y2="608.5" stroke="#000" stroke-width="0.7" />
<line x1="447.3" y1="606.5" x2="447.3" y2="610.5" stroke="#000" stroke-width="0.7" />
<path d="M432.4 621.1l2.3 4.1h-4.6z" fill="#b01515"/>
<path d="M438.0 621.8l2.3 4.1h-4.6z" fill="#b01515"/>
<path d="M438.9 619.9l2.3 4.1h-4.6z" fill="#b01515"/>
<path d="M439.8 621.4l2.3 4.1h-4.6z" fill="#b01515"/>
<path d="M440.8 620.1l2.3 4.1h-4.6z" fill="#b01515"/>
<path d="M441.7 621.9l2.3 4.1h-4.6z" fill="#b01515"/>
<path d="M442.6 621.7l2.3 4.1h-4.6z" fill="#b01515"/>
<path d="M443.6 618.9l2.3 4.1h-4.6z" fill="#b01515"/>
<path d="M445.4 619.0l2.3 4.1h-4.6z" fill="#b01515"/>
<line x1="440.8" y1="619.1" x2="440.8" y2="626.1" stroke="#000" stroke-width="0.9" />
<line x1="438.0" y1="622.6" x2="443.6" y2="622.6" stroke="#000" stroke-width="0.7" />
<line x1="443.6" y1="620.6" x2="443.6" y2="624.6" stroke="#000" stroke-width="0.7" />
<rect x="413.9" y="629.1" width="3.8" height="3.8" fill="#a5a5a5"/>
<rect x="415.7" y="631.8" width="3.8" height="3.8" fill="#a5a5a5"/>
<rect x="418.5" y="629.9" width="3.8" height="3.8" fill="#a5a5a5"/>
<rect x="420.4" y="630.6" width="3.8" height="3.8" fill="#a5a5a5"/>
<rect x="421.3" y="629.4" width="3.8" height="3.8" fill="#a5a5a5"/>
<rect x="423.1" y="630.1" width="3.8" height="3.8" fill="#a5a5a5"/>
<rect x="425.9" y="629.7" width="3.8" height="3.8" fill="#a5a5a5"/>
<rect x="428.7" y="629.6" width="3.8" height="3.8" fill="#a5a5a5"/>
<line x1="424.1" y1="628.5" x2="424.1" y2="635.5" stroke="#000" stroke-width="0.9" />
<line x1="421.3" y1="632.0" x2="426.9" y2="632.0" stroke="#000" stroke-width="0.7" />
<line x1="426.9" y1="630.0" x2="426.9" y2="634.0" stroke="#000" stroke-width="0.7" />
<circle cx="425.0" cy="642.8" r="2.0" fill="#000" />
<circle cx="428.7" cy="642.8" r="2.0" fill="#000" />
<circle cx="430.6" cy="644.0" r="2.0" fill="#000" />
<circle cx="432.4" cy="643.2" r="2.0" fill="#000" />
<circle cx="434.3" cy="644.0" r="2.0" fill="#000" />
<circle cx="436.1" cy="643.8" r="2.0" fill="#000" />
<circle cx="438.0" cy="644.3" r="2.0" fill="#000" />
<circle cx="441.7" cy="643.1" r="2.0" fill="#000" />
<circle cx="442.6" cy="641.3" r="2.0" fill="#000" />
<circle cx="442.6" cy="643.8" r="2.0" fill="#000" />
<line x1="433.4" y1="639.0" x2="433.4" y2="646.0" stroke="#000" stroke-width="0.9" />
<line x1="430.6" y1="642.5" x2="436.1" y2="642.5" stroke="#000" stroke-width="0.7" />
<line x1="436.1" y1="640.5" x2="436.1" y2="644.5" stroke="#000" stroke-width="0.7" />
<text x="462.1" y="591.2" font-size="13" font-weight="bold" textLength="12.5" lengthAdjust="spacingAndGlyphs">ns</text>
<text x="469.1" y="601.8" font-size="10" font-weight="bold">**</text>
<text x="449.2" y="626.0" font-size="13" font-weight="bold" textLength="12.0" lengthAdjust="spacingAndGlyphs">ns</text>
<text x="434.8" y="635.3" font-size="10" font-weight="bold">**</text>
<text x="519.0" y="590.8" font-size="21" font-weight="bold">m</text>
<line x1="564.6" y1="581.8" x2="564.6" y2="649.3" stroke="#000" stroke-width="1.1" />
<line x1="564.1" y1="648.9" x2="675.9" y2="648.9" stroke="#000" stroke-width="1.1" />
<line x1="564.6" y1="648.9" x2="564.6" y2="651.5" stroke="#000" stroke-width="0.9" />
<text x="564.6" y="661.4" font-size="9" text-anchor="middle" textLength="5.0" lengthAdjust="spacingAndGlyphs">0</text>
<line x1="583.1" y1="648.9" x2="583.1" y2="651.5" stroke="#000" stroke-width="0.9" />
<text x="583.1" y="661.4" font-size="9" text-anchor="middle" textLength="10.0" lengthAdjust="spacingAndGlyphs">20</text>
<line x1="601.6" y1="648.9" x2="601.6" y2="651.5" stroke="#000" stroke-width="0.9" />
<text x="601.6" y="661.4" font-size="9" text-anchor="middle" textLength="10.0" lengthAdjust="spacingAndGlyphs">40</text>
<line x1="620.2" y1="648.9" x2="620.2" y2="651.5" stroke="#000" stroke-width="0.9" />
<text x="620.2" y="661.4" font-size="9" text-anchor="middle" textLength="10.0" lengthAdjust="spacingAndGlyphs">60</text>
<line x1="638.7" y1="648.9" x2="638.7" y2="651.5" stroke="#000" stroke-width="0.9" />
<text x="638.7" y="661.4" font-size="9" text-anchor="middle" textLength="10.0" lengthAdjust="spacingAndGlyphs">80</text>
<line x1="657.2" y1="648.9" x2="657.2" y2="651.5" stroke="#000" stroke-width="0.9" />
<text x="657.2" y="661.4" font-size="9" text-anchor="middle" textLength="15.0" lengthAdjust="spacingAndGlyphs">100</text>
<line x1="675.7" y1="648.9" x2="675.7" y2="651.5" stroke="#000" stroke-width="0.9" />
<text x="675.7" y="661.4" font-size="9" text-anchor="middle" textLength="15.0" lengthAdjust="spacingAndGlyphs">120</text>
<line x1="561.1" y1="598.5" x2="564.6" y2="598.5" stroke="#000" stroke-width="0.9" />
<line x1="561.1" y1="632.0" x2="564.6" y2="632.0" stroke="#000" stroke-width="0.9" />
<text x="558.4" y="601.8" font-size="8.5" text-anchor="end" textLength="37.8" lengthAdjust="spacingAndGlyphs">NEUROD2</text>
<text x="558.4" y="635.3" font-size="8.5" text-anchor="end" textLength="19.8" lengthAdjust="spacingAndGlyphs">TBR2</text>
<text x="603.7" y="674.2" font-size="7.4" text-anchor="middle">IUE E14.5+48h (% of RFP<tspan baseline-shift="super" font-size="5">+</tspan> cells)</text>
<text x="676.3" y="625.9" font-size="9" text-anchor="end" textLength="27.0" lengthAdjust="spacingAndGlyphs">Control</text>
<circle cx="680.8" cy="622.6" r="1.8" fill="#000" />
<text x="676.3" y="635.3" font-size="9" text-anchor="end" textLength="16.0" lengthAdjust="spacingAndGlyphs">cKO</text>
<rect x="679.2" y="630.4" width="3.2" height="3.2" fill="#a5a5a5"/>
<text x="676.3" y="644.8" font-size="9" text-anchor="end" textLength="40.5" lengthAdjust="spacingAndGlyphs">cKO+DLL1</text>
<path d="M680.9 639.3l1.9 3.4h-3.8z" fill="#b01515"/>
<path d="M595.2 587.3l2.3 4.1h-4.6z" fill="#b01515"/>
<path d="M597.0 587.1l2.3 4.1h-4.6z" fill="#b01515"/>
<path d="M612.8 585.8l2.3 4.1h-4.6z" fill="#b01515"/>
<path d="M613.7 586.4l2.3 4.1h-4.6z" fill="#b01515"/>
<path d="M614.6 584.6l2.3 4.1h-4.6z" fill="#b01515"/>
<path d="M615.5 586.8l2.3 4.1h-4.6z" fill="#b01515"/>
<line x1="610.0" y1="584.4" x2="610.0" y2="591.4" stroke="#000" stroke-width="0.9" />
<line x1="606.3" y1="587.9" x2="613.7" y2="587.9" stroke="#000" stroke-width="0.7" />
<line x1="613.7" y1="585.9" x2="613.7" y2="589.9" stroke="#000" stroke-width="0.7" />
<rect x="609.9" y="596.9" width="3.8" height="3.8" fill="#a5a5a5"/>
<rect x="617.3" y="595.8" width="3.8" height="3.8" fill="#a5a5a5"/>
<rect x="618.3" y="595.0" width="3.8" height="3.8" fill="#a5a5a5"/>
<rect x="619.2" y="597.9" width="3.8" height="3.8" fill="#a5a5a5"/>
<rect x="620.1" y="598.4" width="3.8" height="3.8" fill="#a5a5a5"/>
<rect x="621.0" y="595.1" width="3.8" height="3.8" fill="#a5a5a5"/>
<rect x="622.9" y="597.7" width="3.8" height="3.8" fill="#a5a5a5"/>
<line x1="621.1" y1="595.0" x2="621.1" y2="602.0" stroke="#000" stroke-width="0.9" />
<line x1="618.3" y1="598.5" x2="623.9" y2="598.5" stroke="#000" stroke-width="0.7" />
<line x1="623.9" y1="596.5" x2="623.9" y2="600.5" stroke="#000" stroke-width="0.7" />
<circle cx="601.6" cy="608.2" r="2.0" fill="#000" />
<circle cx="603.5" cy="607.2" r="2.0" fill="#000" />
<circle cx="605.3" cy="607.8" r="2.0" fill="#000" />
<circle cx="606.3" cy="609.5" r="2.0" fill="#000" />
<circle cx="608.1" cy="609.8" r="2.0" fill="#000" />
<circle cx="609.0" cy="606.9" r="2.0" fill="#000" />
<circle cx="610.9" cy="608.9" r="2.0" fill="#000" />
<circle cx="612.8" cy="606.9" r="2.0" fill="#000" />
<line x1="607.2" y1="605.0" x2="607.2" y2="612.0" stroke="#000" stroke-width="0.9" />
<line x1="604.4" y1="608.5" x2="610.0" y2="608.5" stroke="#000" stroke-width="0.7" />
<line x1="610.0" y1="606.5" x2="610.0" y2="610.5" stroke="#000" stroke-width="0.7" />
<path d="M602.6 621.1l2.3 4.1h-4.6z" fill="#b01515"/>
<path d="M605.3 619.7l2.3 4.1h-4.6z" fill="#b01515"/>
<path d="M607.2 621.7l2.3 4.1h-4.6z" fill="#b01515"/>
<path d="M608.1 622.0l2.3 4.1h-4.6z" fill="#b01515"/>
<path d="M609.0 620.3l2.3 4.1h-4.6z" fill="#b01515"/>
<path d="M610.0 622.1l2.3 4.1h-4.6z" fill="#b01515"/>
<path d="M610.9 619.6l2.3 4.1h-4.6z" fill="#b01515"/>
<path d="M612.8 618.8l2.3 4.1h-4.6z" fill="#b01515"/>
<line x1="608.1" y1="619.1" x2="608.1" y2="626.1" stroke="#000" stroke-width="0.9" />
<line x1="605.3" y1="622.6" x2="610.9" y2="622.6" stroke="#000" stroke-width="0.7" />
<line x1="610.9" y1="620.6" x2="610.9" y2="624.6" stroke="#000" stroke-width="0.7" />
<rect x="579.4" y="630.5" width="3.8" height="3.8" fill="#a5a5a5"/>
<rect x="587.7" y="628.4" width="3.8" height="3.8" fill="#a5a5a5"/>
<rect x="589.6" y="629.0" width="3.8" height="3.8" fill="#a5a5a5"/>
<rect x="591.4" y="629.8" width="3.8" height="3.8" fill="#a5a5a5"/>
<rect x="592.3" y="630.5" width="3.8" height="3.8" fill="#a5a5a5"/>
<rect x="594.2" y="628.9" width="3.8" height="3.8" fill="#a5a5a5"/>
<rect x="596.0" y="628.5" width="3.8" height="3.8" fill="#a5a5a5"/>
<line x1="593.3" y1="628.5" x2="593.3" y2="635.5" stroke="#000" stroke-width="0.9" />
<line x1="590.5" y1="632.0" x2="596.1" y2="632.0" stroke="#000" stroke-width="0.7" />
<line x1="596.1" y1="630.0" x2="596.1" y2="634.0" stroke="#000" stroke-width="0.7" />
<circle cx="598.9" cy="643.8" r="2.0" fill="#000" />
<circle cx="601.6" cy="641.8" r="2.0" fill="#000" />
<circle cx="603.5" cy="644.2" r="2.0" fill="#000" />
<circle cx="605.3" cy="643.9" r="2.0" fill="#000" />
<circle cx="610.9" cy="642.1" r="2.0" fill="#000" />
<circle cx="618.3" cy="642.4" r="2.0" fill="#000" />
<circle cx="627.6" cy="642.6" r="2.0" fill="#000" />
<line x1="610.0" y1="639.0" x2="610.0" y2="646.0" stroke="#000" stroke-width="0.9" />
<line x1="604.4" y1="642.5" x2="615.5" y2="642.5" stroke="#000" stroke-width="0.7" />
<line x1="615.5" y1="640.5" x2="615.5" y2="644.5" stroke="#000" stroke-width="0.7" />
<text x="620.5" y="591.2" font-size="13" font-weight="bold" textLength="11.2" lengthAdjust="spacingAndGlyphs">ns</text>
<text x="630.4" y="601.8" font-size="10" font-weight="bold">*</text>
<text x="616.8" y="626.0" font-size="13" font-weight="bold" textLength="12.0" lengthAdjust="spacingAndGlyphs">ns</text>
<text x="600.6" y="635.3" font-size="10" font-weight="bold">**</text>
</svg></body></html>
